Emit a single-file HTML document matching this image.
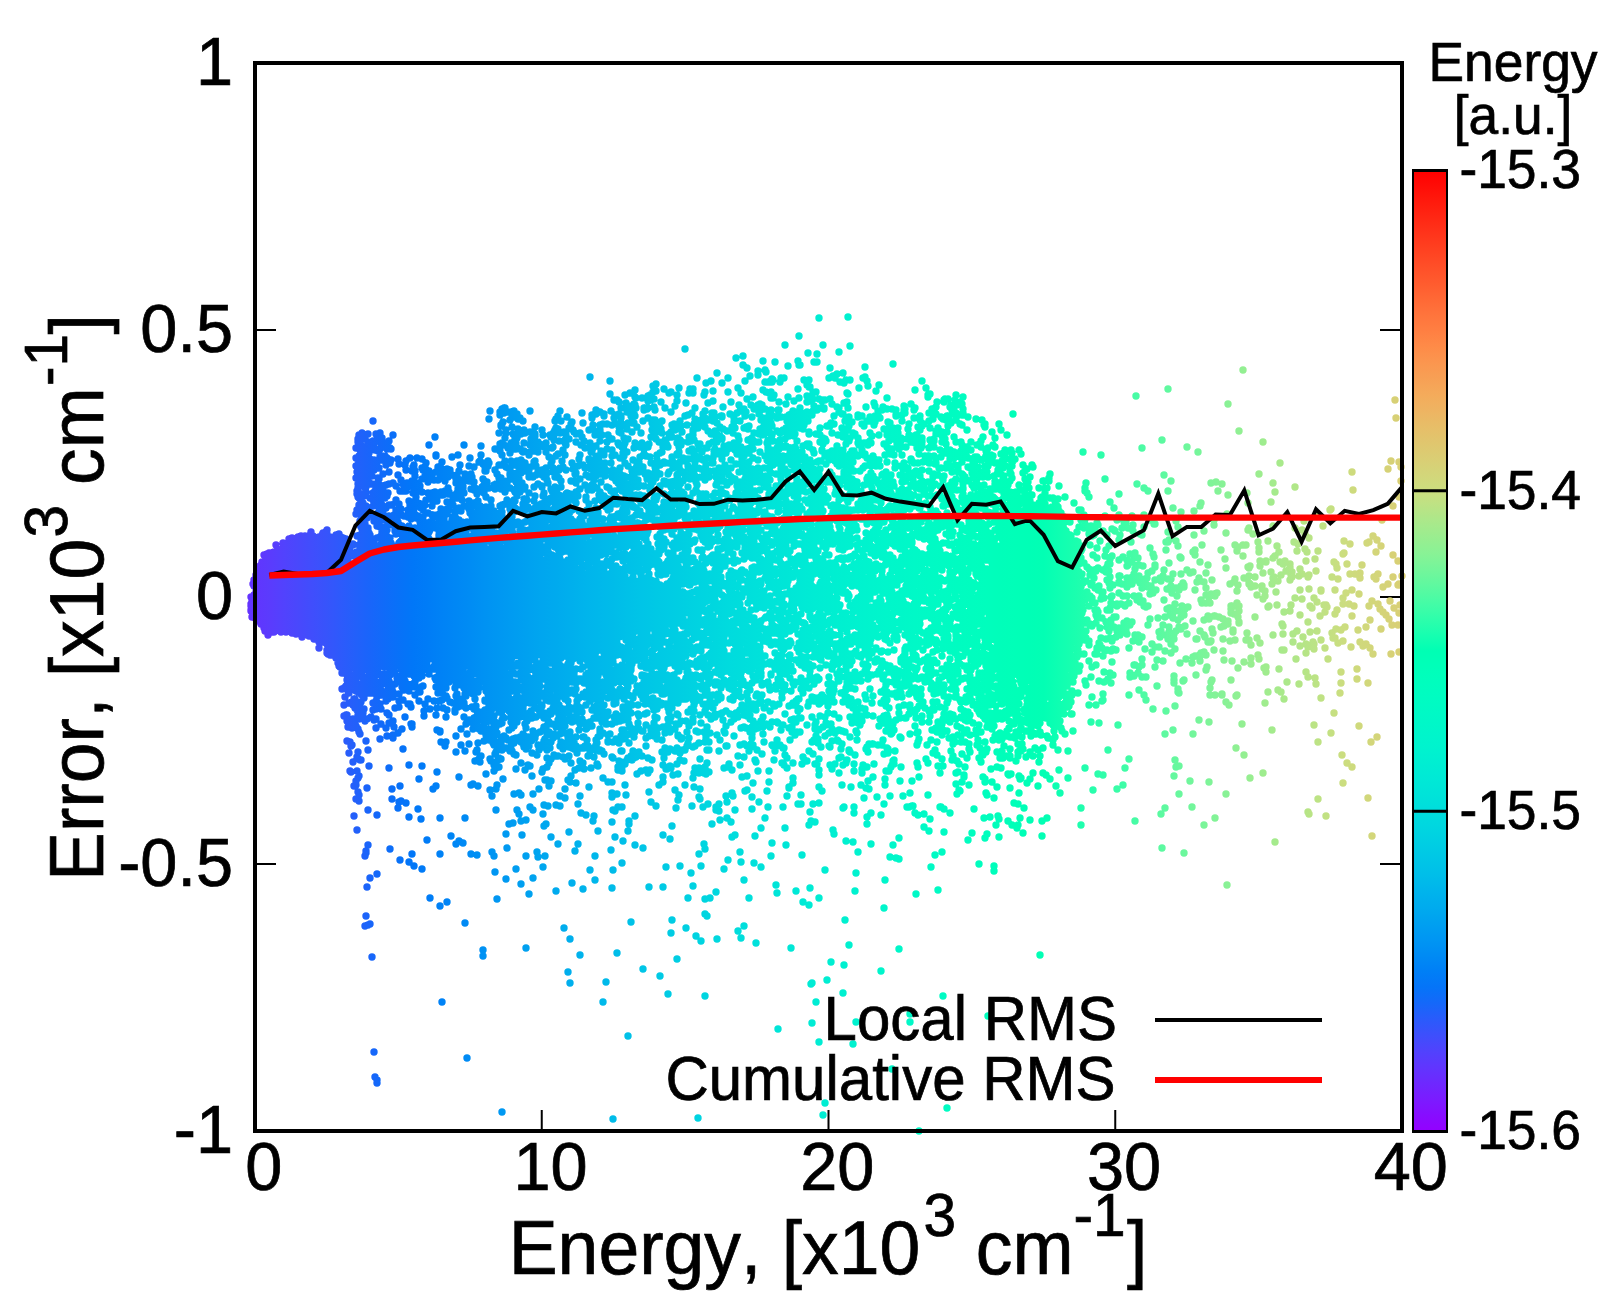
<!DOCTYPE html>
<html><head><meta charset="utf-8"><title>Error vs Energy</title>
<style>html,body{margin:0;padding:0;background:#fff}svg{display:block}text{font-family:"Liberation Sans",sans-serif;fill:#000;stroke:#000;stroke-width:0.7px;font-kerning:none;font-variant-ligatures:none}</style></head>
<body>
<svg width="1623" height="1311" viewBox="0 0 1623 1311">
<defs>
<linearGradient id="cb" gradientUnits="userSpaceOnUse" x1="0" y1="170.5" x2="0" y2="1131.5">
<stop offset="0.0000" stop-color="#ff0000"/><stop offset="0.0167" stop-color="#ff0d07"/><stop offset="0.0333" stop-color="#ff1b0d"/><stop offset="0.0500" stop-color="#ff2814"/><stop offset="0.0667" stop-color="#ff351b"/><stop offset="0.0833" stop-color="#ff4221"/><stop offset="0.1000" stop-color="#ff4f28"/><stop offset="0.1167" stop-color="#ff5b2e"/><stop offset="0.1333" stop-color="#ff6835"/><stop offset="0.1500" stop-color="#ff743c"/><stop offset="0.1667" stop-color="#ff7f42"/><stop offset="0.1833" stop-color="#fe8b48"/><stop offset="0.2000" stop-color="#fb964f"/><stop offset="0.2167" stop-color="#f7a055"/><stop offset="0.2333" stop-color="#f4ab5b"/><stop offset="0.2500" stop-color="#eeb462"/><stop offset="0.2667" stop-color="#e7be68"/><stop offset="0.2833" stop-color="#e0c66e"/><stop offset="0.3000" stop-color="#dace74"/><stop offset="0.3167" stop-color="#d3d67a"/><stop offset="0.3333" stop-color="#ccdd7f"/><stop offset="0.3500" stop-color="#bbe385"/><stop offset="0.3667" stop-color="#a9e98b"/><stop offset="0.3833" stop-color="#98ee90"/><stop offset="0.4000" stop-color="#87f396"/><stop offset="0.4167" stop-color="#72f69b"/><stop offset="0.4333" stop-color="#5cf9a0"/><stop offset="0.4500" stop-color="#45fca6"/><stop offset="0.4667" stop-color="#2efeab"/><stop offset="0.4833" stop-color="#17ffb0"/><stop offset="0.5000" stop-color="#00ffb4"/><stop offset="0.5167" stop-color="#00ffb9"/><stop offset="0.5333" stop-color="#00febe"/><stop offset="0.5500" stop-color="#00fcc2"/><stop offset="0.5667" stop-color="#00f9c6"/><stop offset="0.5833" stop-color="#00f6ca"/><stop offset="0.6000" stop-color="#00f3ce"/><stop offset="0.6167" stop-color="#00eed2"/><stop offset="0.6333" stop-color="#00e9d6"/><stop offset="0.6500" stop-color="#00e3d9"/><stop offset="0.6667" stop-color="#00dddd"/><stop offset="0.6833" stop-color="#00d6e0"/><stop offset="0.7000" stop-color="#00cee3"/><stop offset="0.7167" stop-color="#00c6e6"/><stop offset="0.7333" stop-color="#00bee9"/><stop offset="0.7500" stop-color="#00b4ec"/><stop offset="0.7667" stop-color="#00abee"/><stop offset="0.7833" stop-color="#00a0f0"/><stop offset="0.8000" stop-color="#0096f3"/><stop offset="0.8167" stop-color="#008bf4"/><stop offset="0.8333" stop-color="#007ff6"/><stop offset="0.8500" stop-color="#0574f8"/><stop offset="0.8667" stop-color="#1568f9"/><stop offset="0.8833" stop-color="#2a5bfb"/><stop offset="0.9000" stop-color="#3e4ffc"/><stop offset="0.9167" stop-color="#5142fd"/><stop offset="0.9333" stop-color="#6135fe"/><stop offset="0.9500" stop-color="#6e28fe"/><stop offset="0.9667" stop-color="#7b1bff"/><stop offset="0.9833" stop-color="#870dff"/><stop offset="1.0000" stop-color="#9400ff"/>
</linearGradient>
<linearGradient id="pg" gradientUnits="userSpaceOnUse" x1="226.325" y1="0" x2="1430.67" y2="0">
<stop offset="0.0000" stop-color="#6d29fe"/><stop offset="0.0119" stop-color="#672ffe"/><stop offset="0.0238" stop-color="#6135fe"/><stop offset="0.0357" stop-color="#5b3bfd"/><stop offset="0.0476" stop-color="#5242fd"/><stop offset="0.0595" stop-color="#4948fc"/><stop offset="0.0714" stop-color="#404efc"/><stop offset="0.0833" stop-color="#3754fb"/><stop offset="0.0952" stop-color="#2d5afb"/><stop offset="0.1071" stop-color="#2360fa"/><stop offset="0.1190" stop-color="#1965fa"/><stop offset="0.1310" stop-color="#106bf9"/><stop offset="0.1429" stop-color="#0871f8"/><stop offset="0.1548" stop-color="#0177f8"/><stop offset="0.1667" stop-color="#007cf7"/><stop offset="0.1786" stop-color="#0082f6"/><stop offset="0.1905" stop-color="#0087f5"/><stop offset="0.2024" stop-color="#008cf4"/><stop offset="0.2143" stop-color="#0092f3"/><stop offset="0.2262" stop-color="#0097f2"/><stop offset="0.2381" stop-color="#009cf1"/><stop offset="0.2500" stop-color="#00a1f0"/><stop offset="0.2619" stop-color="#00a6ef"/><stop offset="0.2738" stop-color="#00aaee"/><stop offset="0.2857" stop-color="#00afed"/><stop offset="0.2976" stop-color="#00b4ec"/><stop offset="0.3095" stop-color="#00b8eb"/><stop offset="0.3214" stop-color="#00bce9"/><stop offset="0.3333" stop-color="#00c1e8"/><stop offset="0.3452" stop-color="#00c5e7"/><stop offset="0.3571" stop-color="#00c9e5"/><stop offset="0.3690" stop-color="#00cce4"/><stop offset="0.3810" stop-color="#00d0e2"/><stop offset="0.3929" stop-color="#00d4e1"/><stop offset="0.4048" stop-color="#00d7df"/><stop offset="0.4167" stop-color="#00dbde"/><stop offset="0.4286" stop-color="#00dedc"/><stop offset="0.4405" stop-color="#00e1db"/><stop offset="0.4524" stop-color="#00e4d9"/><stop offset="0.4643" stop-color="#00e6d7"/><stop offset="0.4762" stop-color="#00e9d6"/><stop offset="0.4881" stop-color="#00ecd4"/><stop offset="0.5000" stop-color="#00eed2"/><stop offset="0.5119" stop-color="#00f0d0"/><stop offset="0.5238" stop-color="#00f2cf"/><stop offset="0.5357" stop-color="#00f4cd"/><stop offset="0.5476" stop-color="#00f6cb"/><stop offset="0.5595" stop-color="#00f7c9"/><stop offset="0.5714" stop-color="#00f9c7"/><stop offset="0.5833" stop-color="#00fac5"/><stop offset="0.5952" stop-color="#00fbc3"/><stop offset="0.6071" stop-color="#00fcc1"/><stop offset="0.6190" stop-color="#00fdbf"/><stop offset="0.6310" stop-color="#00febd"/><stop offset="0.6429" stop-color="#00feba"/><stop offset="0.6548" stop-color="#00ffb8"/><stop offset="0.6667" stop-color="#00ffb6"/><stop offset="0.6786" stop-color="#02ffb4"/><stop offset="0.6905" stop-color="#0dffb2"/><stop offset="0.7024" stop-color="#18ffaf"/><stop offset="0.7143" stop-color="#23fead"/><stop offset="0.7262" stop-color="#2efeab"/><stop offset="0.7381" stop-color="#38fda8"/><stop offset="0.7500" stop-color="#43fca6"/><stop offset="0.7619" stop-color="#4efba4"/><stop offset="0.7738" stop-color="#59faa1"/><stop offset="0.7857" stop-color="#64f89f"/><stop offset="0.7976" stop-color="#6ef79c"/><stop offset="0.8095" stop-color="#79f59a"/><stop offset="0.8214" stop-color="#83f397"/><stop offset="0.8333" stop-color="#8bf195"/><stop offset="0.8452" stop-color="#94ef92"/><stop offset="0.8571" stop-color="#9ced8f"/><stop offset="0.8690" stop-color="#a4eb8d"/><stop offset="0.8810" stop-color="#ace88a"/><stop offset="0.8929" stop-color="#b4e587"/><stop offset="0.9048" stop-color="#bce385"/><stop offset="0.9167" stop-color="#c4e082"/><stop offset="0.9286" stop-color="#ccdd7f"/><stop offset="0.9405" stop-color="#cfd97c"/><stop offset="0.9524" stop-color="#d3d67a"/><stop offset="0.9643" stop-color="#d6d277"/><stop offset="0.9762" stop-color="#d9cf74"/><stop offset="0.9881" stop-color="#dccb71"/><stop offset="1.0000" stop-color="#e0c76e"/>
</linearGradient>
</defs>
<rect width="1623" height="1311" fill="#fff"/>
<g stroke="#000" stroke-width="2"><line x1="255" y1="330" x2="276" y2="330"/><line x1="1380" y1="330" x2="1402" y2="330"/><line x1="255" y1="597" x2="276" y2="597"/><line x1="1380" y1="597" x2="1402" y2="597"/><line x1="255" y1="864" x2="276" y2="864"/><line x1="1380" y1="864" x2="1402" y2="864"/><line x1="541.75" y1="1131" x2="541.75" y2="1110"/><line x1="828.5" y1="1131" x2="828.5" y2="1110"/><line x1="1115.25" y1="1131" x2="1115.25" y2="1110"/></g>
<path d="M253 581L256 574L259 567L262 562L265 559L268 555L271 553L274 550L277 548L280 546L283 544L286 543L289 542L292 540L295 539L298 538L301 538L304 538L307 537L310 537L313 537L316 537L319 537L322 537L325 537L328 537L331 537L334 537L337 537L340 537L343 537L346 539L349 566L352 562L355 558L358 554L361 551L364 551L367 550L370 550L373 549L376 549L379 548L382 548L385 548L388 547L391 547L394 546L397 546L400 545L403 545L406 545L409 544L412 544L415 544L418 544L421 543L424 543L427 543L430 543L433 542L436 542L439 542L442 541L445 541L448 541L451 541L454 541L457 542L460 542L463 543L466 543L469 543L472 544L475 544L478 545L481 545L484 546L487 546L490 547L493 547L496 548L499 548L502 549L505 550L508 550L511 551L514 551L517 552L520 553L523 553L526 554L529 555L532 555L535 556L538 557L541 557L544 558L547 559L550 560L553 560L556 561L559 562L562 563L565 564L568 565L571 566L574 567L577 568L580 569L583 570L586 571L589 572L592 573L595 574L598 575L601 576L604 576L607 577L610 578L613 578L616 579L619 580L622 581L625 581L628 582L631 583L634 583L637 584L640 585L643 585L646 586L649 587L652 587L655 588L658 589L661 589L664 590L667 591L670 591L673 592L676 592L679 593L682 594L685 594L688 595L691 595L694 596L697 596L700 597L703 597L706 598L709 598L712 599L714 599L714 602L712 603L709 604L706 606L703 607L700 608L697 609L694 610L691 612L688 613L685 614L682 615L679 616L676 617L673 619L670 620L667 621L664 622L661 624L658 625L655 626L652 627L649 629L646 630L643 631L640 632L637 634L634 635L631 636L628 637L625 639L622 640L619 641L616 643L613 644L610 645L607 647L604 648L601 649L598 650L595 651L592 651L589 652L586 652L583 653L580 653L577 653L574 654L571 654L568 655L565 655L562 656L559 656L556 657L553 657L550 657L547 658L544 658L541 658L538 658L535 658L532 658L529 659L526 659L523 659L520 659L517 659L514 659L511 659L508 659L505 659L502 659L499 660L496 660L493 660L490 660L487 660L484 660L481 660L478 661L475 661L472 661L469 661L466 661L463 661L460 661L457 661L454 661L451 661L448 661L445 661L442 662L439 662L436 662L433 662L430 662L427 662L424 662L421 662L418 662L415 662L412 662L409 662L406 663L403 663L400 663L397 663L394 664L391 664L388 665L385 665L382 666L379 667L376 667L373 668L370 668L367 669L364 669L361 670L358 668L355 665L352 662L349 655L346 679L343 672L340 666L337 660L334 657L331 654L328 650L325 647L322 644L319 641L316 639L313 636L310 634L307 633L304 632L301 630L298 629L295 629L292 629L289 629L286 629L283 629L280 629L277 629L274 629L271 629L268 628L265 627L262 625L259 622L256 618L253 613ZM977 588L980 583L983 577L986 571L989 566L992 559L995 553L998 546L1001 541L1004 537L1007 534L1010 530L1013 527L1016 523L1019 520L1022 519L1025 520L1028 521L1031 522L1034 522L1037 523L1040 524L1043 524L1046 525L1049 526L1052 527L1055 527L1058 528L1061 530L1064 535L1067 540L1070 545L1073 550L1076 570L1079 590L1079 602L1076 633L1073 658L1070 663L1067 669L1064 674L1061 680L1058 681L1055 681L1052 681L1049 681L1046 681L1043 681L1040 681L1037 681L1034 681L1031 681L1028 681L1025 681L1022 681L1019 680L1016 676L1013 671L1010 667L1007 663L1004 659L1001 654L998 648L995 639L992 632L989 624L986 617L983 609L980 602L977 596Z" fill="url(#pg)"/>
<path d="M251 597h0m0 7h0m0 2h0m0 4h0m0 1h0m5-36h0m0 0h0m-2 5h0m1 1h0m2 2h0m-4 1h0m1 2h0m2 6h0m-2 3h0m2 0h0m-4 4h0m1 0h0m4 1h0m-5 1h0m1 0h0m2 0h0m-2 3h0m2 1h0m-1 4h0m-2 1h0m0 1h0m4 2h0m-2 2h0m-2 2h0m3 0h0m0 1h0m2 1h0m5-57h0m-1 3h0m-1 1h0m-2 1h0m2 4h0m1 0h0m-3 2h0m1 0h0m0 1h0m3 0h0m0 1h0m-4 1h0m2 0h0m1 7h0m-3 1h0m4 0h0m-2 1h0m0 0h0m3 0h0m-1 1h0m-4 2h0m0 3h0m3 0h0m-2 1h0m-1 3h0m1 0h0m1 0h0m1 0h0m-3 1h0m2 0h0m2 3h0m-2 1h0m-2 1h0m0 1h0m0 4h0m5 0h0m-5 1h0m5 0h0m-2 3h0m2 3h0m-1 6h0m-4 2h0m3 1h0m0 2h0m8-71h0m-2 1h0m1 0h0m-4 1h0m4 2h0m0 0h0m-1 1h0m2 2h0m-1 1h0m-4 1h0m1 1h0m4 0h0m-1 2h0m-2 1h0m0 1h0m-2 2h0m2 1h0m2 2h0m-2 1h0m-2 1h0m2 1h0m1 0h0m-2 1h0m0 7h0m1 1h0m1 2h0m-2 1h0m1 2h0m-2 4h0m1 0h0m2 0h0m-1 1h0m1 3h0m2 1h0m0 1h0m-5 1h0m3 1h0m-3 3h0m1 0h0m2 0h0m-1 1h0m2 0h0m-3 2h0m4 1h0m-2 1h0m-1 1h0m2 0h0m0 1h0m1 0h0m-1 1h0m-4 3h0m0 3h0m5 0h0m-2 3h0m-3 2h0m5 1h0m-2 1h0m-3 3h0m1 1h0m0 2h0m2 0h0m1 4h0m6-83h0m-3 1h0m-1 2h0m1 2h0m3 0h0m1 1h0m-4 1h0m1 1h0m2 1h0m-2 1h0m3 0h0m-5 2h0m5 1h0m-4 4h0m-1 1h0m5 0h0m-2 1h0m-1 2h0m3 2h0m-3 4h0m2 1h0m-2 3h0m0 8h0m-2 1h0m3 0h0m-3 1h0m5 4h0m-4 2h0m0 1h0m1 0h0m0 0h0m0 2h0m1 0h0m-3 3h0m0 0h0m4 0h0m-4 4h0m3 0h0m1 0h0m-3 3h0m-1 2h0m2 6h0m2 0h0m0 3h0m1 1h0m0 0h0m-5 2h0m2 2h0m3 0h0m-4 4h0m3 0h0m2-87h0m1 6h0m0 2h0m1 0h0m1 2h0m1 0h0m-2 8h0m0 1h0m-2 1h0m0 0h0m3 0h0m-1 3h0m0 3h0m1 0h0m-3 2h0m1 1h0m0 1h0m4 1h0m-5 2h0m4 0h0m-2 2h0m-2 2h0m0 0h0m1 0h0m4 1h0m-1 1h0m-4 1h0m1 2h0m1 1h0m-1 5h0m1 2h0m1 1h0m0 0h0m-2 1h0m-1 2h0m0 2h0m0 3h0m1 0h0m1 0h0m3 0h0m-4 2h0m4 4h0m-4 1h0m-1 3h0m1 0h0m1 2h0m1 2h0m-1 3h0m0 1h0m-1 1h0m1 3h0m3 0h0m-3 3h0m1 0h0m2 0h0m-1 2h0m1 1h0m2-89h0m4 3h0m-2 1h0m-2 1h0m3 1h0m0 2h0m-1 3h0m1 0h0m-3 2h0m1 0h0m2 2h0m-3 2h0m3 0h0m-4 3h0m4 0h0m-4 1h0m5 0h0m-2 1h0m2 0h0m-4 1h0m3 0h0m-2 1h0m3 3h0m-4 2h0m1 0h0m0 1h0m-2 6h0m4 0h0m1 2h0m-5 3h0m0 1h0m4 0h0m-4 2h0m1 3h0m1 1h0m3 1h0m-3 1h0m-2 1h0m3 1h0m2 0h0m-3 3h0m3 2h0m0 0h0m-5 1h0m0 1h0m1 0h0m2 2h0m1 1h0m-4 2h0m5 2h0m-2 2h0m2 1h0m-3 6h0m-2 3h0m0 2h0m3 1h0m-1 6h0m2 2h0m6-94h0m-3 1h0m0 2h0m0 2h0m-1 1h0m4 6h0m-2 1h0m2 0h0m0 1h0m-3 1h0m1 2h0m0 1h0m-2 4h0m3 2h0m2 0h0m-5 2h0m2 0h0m-2 1h0m2 0h0m2 0h0m0 0h0m-4 2h0m4 0h0m-1 2h0m2 0h0m-4 1h0m3 0h0m-4 1h0m1 2h0m3 3h0m1 0h0m-3 2h0m2 2h0m0 1h0m0 2h0m-4 1h0m2 0h0m-1 2h0m3 1h0m0 1h0m-4 6h0m2 0h0m1 1h0m0 0h0m-3 1h0m3 1h0m-2 1h0m0 1h0m3 6h0m1 0h0m-1 2h0m-4 1h0m1 0h0m4 0h0m-2 1h0m-1 1h0m2 2h0m-1 1h0m-1 4h0m1 3h0m-1 1h0m-2 1h0m3 1h0m-2 1h0m4 3h0m-5 2h0m4 0h0m-2 2h0m2 0h0m0 2h0m6-96h0m1 0h0m-1 3h0m-4 3h0m3 2h0m-2 3h0m0 0h0m2 0h0m-3 1h0m4 2h0m-4 1h0m0 6h0m4 0h0m1 3h0m-3 3h0m2 1h0m-2 2h0m2 1h0m-4 1h0m4 2h0m-3 1h0m0 1h0m2 0h0m0 2h0m-1 2h0m3 0h0m-1 1h0m0 0h0m-1 2h0m1 4h0m-4 3h0m5 0h0m0 0h0m-5 2h0m3 1h0m-3 5h0m0 0h0m4 1h0m-2 2h0m1 0h0m1 1h0m-1 3h0m0 0h0m2 9h0m-4 2h0m0 3h0m2 0h0m-2 1h0m0 1h0m0 1h0m1 1h0m1 0h0m0 0h0m-3 1h0m2 0h0m2 4h0m-4 1h0m5 0h0m-5 1h0m2 0h0m0 7h0m5-98h0m4 0h0m-1 1h0m-3 1h0m2 1h0m-2 1h0m-1 1h0m0 3h0m2 1h0m3 7h0m-4 6h0m2 0h0m-1 1h0m-1 6h0m1 0h0m2 0h0m-3 1h0m3 1h0m0 1h0m-3 1h0m1 6h0m3 0h0m0 0h0m-5 3h0m2 0h0m3 0h0m-1 1h0m-3 2h0m-1 2h0m1 2h0m0 1h0m2 0h0m2 1h0m-2 3h0m0 0h0m-1 2h0m-2 2h0m2 0h0m2 4h0m1 0h0m-1 3h0m-1 1h0m1 1h0m-4 1h0m2 1h0m-2 1h0m5 1h0m0 1h0m-2 1h0m-3 4h0m0 0h0m4 1h0m-2 1h0m-1 1h0m0 2h0m1 1h0m-2 6h0m1 0h0m-1 1h0m4 0h0m-4 1h0m0 3h0m5 1h0m-4 3h0m3 1h0m-2 2h0m9-105h0m-1 3h0m-4 3h0m2 1h0m0 0h0m-2 2h0m2 0h0m-1 1h0m4 2h0m-1 1h0m0 3h0m-4 4h0m0 3h0m1 0h0m3 0h0m-1 2h0m-1 3h0m2 2h0m-2 1h0m-2 2h0m5 1h0m-5 2h0m1 2h0m0 6h0m0 0h0m3 3h0m-1 1h0m-3 1h0m1 0h0m1 2h0m-2 2h0m1 1h0m1 2h0m-1 1h0m1 3h0m-2 7h0m2 0h0m-1 1h0m1 1h0m2 4h0m1 0h0m-5 2h0m2 1h0m1 3h0m-2 1h0m1 1h0m0 4h0m-2 1h0m3 0h0m2 1h0m-5 2h0m2 0h0m3 0h0m-3 2h0m1 0h0m-3 5h0m1 4h0m0 2h0m2 0h0m1 0h0m1 0h0m-1 1h0m1 0h0m-2 1h0m4-100h0m2 3h0m1 0h0m-4 1h0m1 2h0m2 0h0m-1 1h0m0 2h0m1 0h0m-3 1h0m0 1h0m3 1h0m2 4h0m-1 1h0m1 1h0m-5 3h0m5 1h0m-2 4h0m-1 2h0m0 0h0m3 0h0m-4 2h0m4 0h0m-4 3h0m1 1h0m-1 1h0m2 3h0m-2 3h0m3 1h0m-4 1h0m1 0h0m0 1h0m1 2h0m1 4h0m-2 2h0m-1 3h0m0 2h0m1 0h0m4 0h0m-4 1h0m-1 6h0m5 4h0m-1 1h0m-3 4h0m1 3h0m2 1h0m-3 1h0m-1 3h0m1 0h0m3 0h0m0 1h0m0 3h0m-4 1h0m1 2h0m2 3h0m1 2h0m-1 2h0m-3 1h0m1 0h0m3 1h0m0 1h0m-2 1h0m-1 1h0m4 2h0m-3 1h0m9-106h0m-1 2h0m-3 2h0m4 0h0m-5 1h0m4 7h0m-1 1h0m1 1h0m-3 4h0m0 3h0m4 3h0m-5 6h0m3 2h0m-1 1h0m-2 2h0m2 1h0m0 4h0m-2 1h0m1 0h0m3 1h0m-4 1h0m4 3h0m1 0h0m-1 2h0m0 4h0m0 0h0m0 3h0m-3 2h0m2 1h0m-3 2h0m1 2h0m0 0h0m4 0h0m-1 3h0m-1 1h0m2 1h0m-5 2h0m2 7h0m1 2h0m1 2h0m-3 1h0m1 1h0m3 0h0m-5 1h0m5 2h0m-4 1h0m-1 1h0m2 0h0m0 0h0m3 1h0m-4 2h0m1 3h0m1 3h0m1 1h0m-3 2h0m4 2h0m-2 1h0m0 1h0m1 2h0m-3 4h0m2 0h0m-2 6h0m8-118h0m-3 3h0m3 1h0m2 5h0m-5 1h0m1 0h0m1 1h0m-1 1h0m1 1h0m1 1h0m1 1h0m-1 2h0m0 1h0m-3 3h0m4 2h0m-3 1h0m0 0h0m-1 1h0m0 0h0m3 2h0m1 1h0m1 3h0m-5 5h0m5 3h0m-4 2h0m3 5h0m1 0h0m-3 3h0m1 1h0m0 0h0m2 0h0m-5 1h0m5 0h0m-5 2h0m2 0h0m2 0h0m-3 3h0m-1 1h0m2 1h0m1 1h0m-1 2h0m0 0h0m1 0h0m1 0h0m-1 1h0m1 0h0m0 0h0m0 1h0m-2 2h0m2 0h0m1 1h0m-5 1h0m4 1h0m-3 3h0m0 0h0m2 0h0m1 4h0m-1 1h0m-1 3h0m0 3h0m0 1h0m3 0h0m-5 4h0m3 1h0m-2 2h0m-1 1h0m2 0h0m-2 3h0m2 0h0m3 0h0m-2 1h0m-2 3h0m-1 2h0m1 5h0m-1 1h0m2 0h0m-2 3h0m3 0h0m-3 3h0m5 0h0m-2 2h0m2 4h0m-2 2h0m0 3h0m2 0h0m-1 1h0m2-117h0m0 2h0m3 2h0m-1 1h0m0 1h0m2 0h0m-2 1h0m2 1h0m-4 1h0m5 0h0m0 1h0m-2 2h0m1 10h0m-4 1h0m1 0h0m4 0h0m0 3h0m-1 2h0m1 0h0m-3 5h0m2 2h0m-3 1h0m3 0h0m-2 4h0m-1 2h0m3 2h0m1 1h0m-3 8h0m0 1h0m2 1h0m-3 1h0m0 1h0m3 2h0m-3 4h0m3 6h0m0 0h0m-4 5h0m5 1h0m-5 1h0m4 2h0m-4 1h0m4 0h0m0 0h0m1 0h0m0 1h0m-3 5h0m2 0h0m-2 2h0m-2 3h0m3 1h0m2 0h0m-5 4h0m4 0h0m1 0h0m0 0h0m-4 2h0m2 1h0m-3 2h0m2 1h0m0 2h0m3 0h0m0 1h0m-1 8h0m-2 1h0m-2 3h0m4 1h0m-4 1h0m2 0h0m1 0h0m6-121h0m-3 1h0m5 2h0m0 2h0m-1 1h0m-2 1h0m0 1h0m0 2h0m-2 1h0m2 1h0m3 0h0m-2 1h0m0 3h0m1 0h0m-2 1h0m2 4h0m-4 4h0m5 5h0m-2 3h0m-1 1h0m-1 1h0m2 1h0m-2 1h0m4 0h0m-2 2h0m0 2h0m2 0h0m-3 3h0m0 2h0m2 1h0m1 0h0m-3 2h0m3 2h0m-3 1h0m0 1h0m-2 2h0m2 3h0m2 3h0m0 1h0m-4 6h0m1 2h0m1 3h0m1 1h0m-3 2h0m5 1h0m-5 1h0m1 0h0m4 3h0m-5 3h0m3 1h0m-3 1h0m2 0h0m3 1h0m-3 3h0m0 2h0m-2 2h0m2 0h0m-1 1h0m2 2h0m0 4h0m1 6h0m1 0h0m-4 1h0m4 0h0m-1 1h0m-4 3h0m4 2h0m-3 1h0m2 3h0m0 1h0m-3 2h0m2 0h0m1 1h0m-3 1h0m1 0h0m-1 1h0m2 2h0m0 3h0m1 3h0m1 0h0m0 1h0m3-129h0m3 1h0m-1 2h0m2 0h0m-3 1h0m1 0h0m0 0h0m-3 2h0m4 2h0m0 0h0m1 0h0m-4 2h0m4 0h0m-4 1h0m-1 1h0m4 0h0m0 0h0m-4 1h0m2 1h0m-2 2h0m5 0h0m0 1h0m-1 2h0m-2 1h0m3 0h0m-4 5h0m2 2h0m2 1h0m-5 3h0m0 6h0m2 3h0m0 1h0m0 1h0m3 2h0m-5 3h0m4 0h0m-2 1h0m2 2h0m-2 5h0m3 2h0m-2 1h0m1 1h0m-3 1h0m1 0h0m3 1h0m-3 3h0m0 2h0m2 0h0m-4 3h0m0 4h0m5 0h0m-1 3h0m1 1h0m-1 1h0m-1 2h0m-1 4h0m-1 1h0m4 1h0m-4 1h0m2 2h0m-1 3h0m2 0h0m1 1h0m0 2h0m-5 1h0m1 0h0m4 1h0m0 6h0m-5 1h0m0 1h0m5 3h0m-1 2h0m-3 2h0m2 1h0m2 0h0m0 3h0m0 6h0m-4 4h0m4 3h0m-1 1h0m-4 5h0m5 0h0m0 2h0m0 5h0m0 0h0m0 5h0m-1 1h0m-2 2h0m-2 1h0m3 8h0m-1 8h0m2 10h0m1 0h0m-3 1h0m3 5h0m0 20h0m6-197h0m0 1h0m-5 2h0m2 0h0m-2 3h0m0 1h0m0 0h0m3 2h0m-3 1h0m4 0h0m0 0h0m-1 1h0m-3 3h0m0 2h0m2 5h0m0 1h0m0 2h0m1 2h0m2 2h0m-5 3h0m1 1h0m2 0h0m-2 4h0m2 0h0m0 1h0m-1 3h0m0 0h0m2 1h0m-4 3h0m5 0h0m0 0h0m-2 1h0m1 0h0m1 0h0m-4 2h0m2 0h0m-2 2h0m2 0h0m1 0h0m1 1h0m-1 3h0m1 0h0m-5 1h0m1 2h0m2 0h0m1 4h0m-4 2h0m4 2h0m-1 1h0m-3 1h0m2 0h0m1 2h0m1 0h0m-2 6h0m-2 2h0m2 0h0m1 1h0m0 0h0m2 0h0m-1 2h0m-3 1h0m2 1h0m-1 4h0m1 1h0m-3 1h0m5 1h0m-3 2h0m-2 2h0m1 0h0m3 1h0m1 6h0m-3 1h0m3 0h0m-5 8h0m1 1h0m-1 1h0m2 0h0m-1 2h0m1 1h0m2 0h0m1 0h0m-4 1h0m2 0h0m-1 6h0m2 0h0m-4 1h0m1 1h0m0 0h0m2 1h0m0 0h0m0 1h0m-2 5h0m2 6h0m2 1h0m-5 5h0m1 1h0m4 0h0m-1 3h0m1 0h0m-5 1h0m0 1h0m1 2h0m3 9h0m1 0h0m-4 1h0m3 0h0m1 2h0m0 14h0m-3 3h0m1 2h0m-3 3h0m4 1h0m-2 14h0m2 3h0m-1 1h0m-2 7h0m4 9h0m-3 9h0m1 1h0m8-337h0m0 1h0m0 2h0m-1 1h0m0 1h0m0 2h0m1 5h0m-3 1h0m3 8h0m-3 2h0m3 0h0m-1 1h0m0 1h0m-2 6h0m2 5h0m-1 1h0m1 3h0m1 2h0m-3 1h0m2 1h0m0 5h0m1 2h0m-1 2h0m-1 3h0m2 2h0m-2 1h0m2 0h0m-1 3h0m1 1h0m0 7h0m0 1h0m-2 4h0m-1 4h0m1 22h0m2 0h0m0 9h0m-2 7h0m0 0h0m2 0h0m-5 1h0m3 0h0m-2 1h0m-1 1h0m3 0h0m-3 1h0m4 0h0m0 0h0m1 1h0m0 0h0m-1 2h0m-4 7h0m3 0h0m2 3h0m-3 8h0m2 0h0m0 1h0m1 2h0m0 0h0m-4 4h0m0 1h0m3 1h0m-4 3h0m1 0h0m-1 4h0m4 1h0m1 0h0m-1 4h0m-3 1h0m0 3h0m1 1h0m2 0h0m1 0h0m0 0h0m-4 1h0m4 0h0m-5 7h0m5 2h0m-5 1h0m2 0h0m2 1h0m-4 1h0m2 1h0m-2 2h0m0 1h0m5 1h0m-2 8h0m-1 11h0m0 0h0m1 4h0m-3 2h0m0 2h0m1 0h0m4 2h0m-4 2h0m3 0h0m1 1h0m-4 2h0m1 2h0m-2 3h0m2 1h0m-1 1h0m1 0h0m-1 1h0m0 2h0m-1 1h0m1 0h0m3 0h0m-4 2h0m0 0h0m3 3h0m0 3h0m-2 1h0m1 2h0m0 5h0m0 1h0m0 1h0m3 1h0m-5 4h0m1 0h0m1 2h0m2 1h0m-4 7h0m1 0h0m0 0h0m3 4h0m0 0h0m-3 5h0m2 0h0m0 2h0m1 5h0m1 1h0m-2 3h0m2 0h0m-3 7h0m1 2h0m1 1h0m1 3h0m-1 20h0m-1 5h0m0 14h0m2 5h0m-1 2h0m0 0h0m-2 3h0m0 4h0m-2 1h0m4 6h0m1 3h0m-3 4h0m3 2h0m-5 15h0m3 14h0m5-397h0m3 3h0m-5 1h0m0 1h0m3 0h0m2 0h0m-1 1h0m-4 4h0m1 3h0m3 1h0m-4 2h0m4 0h0m-4 1h0m1 1h0m0 2h0m0 0h0m0 1h0m3 2h0m-1 7h0m1 0h0m1 0h0m-2 1h0m-3 1h0m4 1h0m-3 1h0m3 1h0m-3 1h0m2 0h0m0 0h0m1 0h0m-2 2h0m-1 5h0m4 0h0m-5 1h0m2 0h0m-2 2h0m1 0h0m2 0h0m0 3h0m0 3h0m2 3h0m-1 8h0m-4 1h0m0 0h0m1 5h0m2 1h0m1 4h0m-3 3h0m3 1h0m-3 2h0m1 1h0m-1 1h0m2 0h0m-3 6h0m3 1h0m-2 1h0m4 1h0m-5 1h0m2 1h0m-1 1h0m1 2h0m3 0h0m-2 1h0m2 0h0m-1 1h0m1 0h0m-1 2h0m1 0h0m-5 2h0m2 0h0m2 2h0m-3 1h0m0 3h0m-1 6h0m1 0h0m1 0h0m-2 1h0m5 0h0m-1 3h0m-1 1h0m-2 2h0m1 0h0m0 2h0m-1 2h0m4 0h0m-1 3h0m1 0h0m-4 3h0m-1 2h0m4 6h0m-2 2h0m1 2h0m2 0h0m-2 1h0m1 0h0m-3 2h0m-1 2h0m1 0h0m1 0h0m-1 2h0m3 0h0m-4 5h0m4 1h0m0 0h0m1 2h0m-1 2h0m-4 2h0m5 0h0m-4 1h0m-1 2h0m5 1h0m-4 1h0m-1 2h0m4 0h0m-4 6h0m2 0h0m-2 1h0m3 2h0m0 0h0m-3 1h0m1 0h0m2 5h0m1 7h0m0 1h0m1 0h0m-4 2h0m0 5h0m-1 2h0m3 3h0m1 0h0m-2 6h0m1 0h0m1 0h0m-2 2h0m-2 1h0m3 0h0m-3 1h0m0 0h0m1 2h0m0 0h0m0 0h0m3 0h0m-1 5h0m-3 3h0m0 6h0m4 1h0m-1 2h0m-3 1h0m4 1h0m-2 3h0m-1 4h0m-1 1h0m2 1h0m3 0h0m-1 1h0m1 3h0m-1 1h0m0 1h0m-4 1h0m4 0h0m-2 3h0m-2 6h0m0 0h0m1 1h0m1 1h0m2 3h0m-3 4h0m1 7h0m2 0h0m-1 4h0m-1 2h0m3 6h0m-5 13h0m0 26h0m1 0h0m4 96h0m0 70h0m3-492h0m0 8h0m2 2h0m0 3h0m-1 6h0m-1 3h0m1 3h0m1 0h0m0 6h0m-4 1h0m3 6h0m-3 4h0m1 5h0m1 0h0m0 1h0m3 2h0m-5 2h0m0 1h0m0 5h0m4 6h0m-4 8h0m3 2h0m-3 3h0m0 7h0m1 0h0m1 10h0m0 1h0m-1 3h0m0 1h0m2 0h0m1 2h0m-3 3h0m-1 3h0m0 4h0m5 0h0m-5 2h0m3 0h0m2 1h0m0 1h0m-2 1h0m-1 4h0m-2 1h0m2 3h0m1 4h0m0 0h0m-3 1h0m3 1h0m1 5h0m-1 3h0m2 0h0m-2 4h0m2 1h0m0 3h0m-5 2h0m4 1h0m-3 1h0m2 0h0m1 1h0m-3 3h0m-1 2h0m1 2h0m-1 3h0m2 6h0m-1 1h0m1 0h0m-2 3h0m1 1h0m1 0h0m-1 2h0m3 1h0m-2 1h0m1 1h0m2 0h0m-1 2h0m-2 3h0m-2 2h0m2 2h0m-1 4h0m2 2h0m1 1h0m-3 6h0m3 1h0m-3 3h0m2 0h0m-3 1h0m1 0h0m1 4h0m2 0h0m1 0h0m-3 2h0m-2 1h0m0 3h0m5 0h0m-5 1h0m2 0h0m3 0h0m-2 1h0m1 0h0m1 0h0m-3 6h0m3 0h0m0 1h0m-5 4h0m2 0h0m-1 5h0m0 0h0m3 0h0m-3 2h0m2 0h0m2 0h0m-3 2h0m1 2h0m1 1h0m1 2h0m-3 4h0m-2 2h0m3 0h0m-1 1h0m1 0h0m-1 4h0m2 4h0m1 0h0m-5 1h0m4 0h0m-2 1h0m0 0h0m1 1h0m2 0h0m0 24h0m-4 2h0m-1 22h0m2 9h0m1 16h0m-2 22h0m1 22h0m0 35h0m-2 6h0m0 0h0m0 2h0m4 25h0m-3 9h0m-1 29h0m4 8h0m-2 1h0m5-504h0m3 13h0m-3 7h0m3 0h0m-2 2h0m0 0h0m0 5h0m1 2h0m-1 10h0m-1 2h0m4 0h0m-4 2h0m1 6h0m-2 6h0m0 8h0m3 1h0m1 2h0m-1 4h0m-2 2h0m2 3h0m-1 2h0m3 0h0m-4 2h0m4 3h0m-4 3h0m-1 9h0m1 0h0m4 5h0m-3 1h0m3 0h0m0 5h0m0 12h0m-4 1h0m0 0h0m-1 4h0m2 1h0m0 0h0m-2 4h0m0 1h0m2 1h0m1 1h0m-1 2h0m1 0h0m-3 2h0m4 6h0m-1 1h0m1 0h0m1 3h0m-3 1h0m-2 2h0m5 1h0m-3 4h0m-2 7h0m4 0h0m-4 1h0m5 2h0m-3 1h0m-2 5h0m4 2h0m-3 2h0m4 6h0m0 0h0m-4 3h0m-1 1h0m3 1h0m-1 7h0m3 0h0m-4 1h0m0 0h0m3 5h0m-3 2h0m1 1h0m-1 1h0m4 2h0m-1 1h0m-2 3h0m3 4h0m-2 1h0m-2 1h0m2 0h0m0 2h0m1 0h0m-1 4h0m1 1h0m-2 3h0m0 0h0m2 0h0m-1 6h0m-1 4h0m0 3h0m3 1h0m0 3h0m-4 1h0m2 2h0m1 1h0m-4 4h0m4 0h0m-2 2h0m3 0h0m-4 4h0m4 1h0m-5 1h0m1 0h0m2 0h0m-3 1h0m0 3h0m2 2h0m2 0h0m-4 5h0m5 2h0m-5 2h0m5 1h0m-4 1h0m0 0h0m4 4h0m-1 4h0m-3 2h0m1 0h0m3 1h0m-1 5h0m-3 1h0m3 9h0m-2 1h0m2 8h0m1 87h0m0 59h0m-5 83h0m2 95h0m1 25h0m2 3h0m0 3h0m3-650h0m0 5h0m2 0h0m-1 4h0m2 1h0m-2 3h0m-1 3h0m-2 2h0m4 5h0m-2 1h0m2 3h0m-3 8h0m4 6h0m-5 4h0m1 1h0m-1 3h0m4 4h0m1 0h0m0 1h0m-3 1h0m3 2h0m-4 2h0m0 0h0m0 5h0m1 4h0m1 4h0m1 0h0m0 2h0m0 0h0m-3 1h0m-1 5h0m5 0h0m-3 7h0m-2 5h0m2 1h0m0 1h0m2 5h0m-1 4h0m1 7h0m0 0h0m-4 3h0m1 1h0m0 0h0m1 2h0m2 1h0m-2 7h0m-2 1h0m5 0h0m-2 1h0m-3 1h0m0 0h0m4 0h0m1 1h0m-3 1h0m2 1h0m-1 4h0m-2 1h0m4 0h0m-3 1h0m1 3h0m1 0h0m-4 2h0m1 0h0m4 1h0m0 1h0m-3 1h0m-1 6h0m2 0h0m1 4h0m1 0h0m-2 1h0m1 0h0m-3 2h0m2 1h0m-1 2h0m2 0h0m-3 3h0m1 0h0m1 1h0m0 3h0m1 0h0m0 0h0m-4 2h0m3 0h0m-3 1h0m1 2h0m1 1h0m3 0h0m-5 2h0m5 0h0m-2 2h0m0 4h0m2 1h0m-5 4h0m4 0h0m1 0h0m-3 1h0m2 0h0m0 2h0m0 1h0m0 1h0m-4 10h0m4 1h0m1 1h0m0 3h0m0 1h0m-4 1h0m1 0h0m3 1h0m-5 3h0m1 0h0m3 1h0m1 0h0m-1 1h0m-1 2h0m1 4h0m-1 7h0m1 0h0m1 2h0m-5 5h0m0 5h0m0 1h0m0 1h0m4 1h0m0 1h0m0 5h0m1 1h0m-1 2h0m-3 2h0m0 1h0m3 4h0m-2 4h0m0 0h0m2 0h0m-2 9h0m-2 1h0m3 4h0m0 15h0m-1 15h0m9-298h0m-5 3h0m0 1h0m1 2h0m2 2h0m0 0h0m-2 7h0m-1 1h0m3 1h0m-1 7h0m3 7h0m0 12h0m-3 1h0m2 8h0m-4 2h0m3 1h0m-2 2h0m4 7h0m-3 3h0m3 8h0m0 1h0m-4 3h0m2 1h0m2 4h0m-4 2h0m0 3h0m2 0h0m-1 4h0m-2 5h0m3 5h0m-2 2h0m1 0h0m1 0h0m-3 1h0m5 2h0m-1 3h0m0 2h0m1 0h0m-5 1h0m1 1h0m3 0h0m1 0h0m-3 4h0m1 0h0m2 1h0m-5 2h0m0 7h0m0 6h0m1 0h0m1 3h0m2 0h0m-4 1h0m1 1h0m2 2h0m2 1h0m-2 6h0m-2 2h0m2 0h0m2 1h0m-4 3h0m3 4h0m-3 2h0m-1 1h0m4 1h0m-4 6h0m0 0h0m3 1h0m-1 1h0m0 3h0m2 1h0m1 0h0m-2 1h0m-1 3h0m0 2h0m0 3h0m3 0h0m0 2h0m-5 3h0m2 1h0m-1 1h0m0 1h0m1 2h0m-1 10h0m4 1h0m0 2h0m0 6h0m-2 5h0m0 0h0m-1 1h0m-1 2h0m4 3h0m-5 2h0m5 6h0m-5 1h0m2 1h0m3 6h0m-5 1h0m3 0h0m2 3h0m-1 1h0m0 5h0m1 4h0m-1 4h0m-2 2h0m1 12h0m2 2h0m0 8h0m-3 5h0m1 8h0m2 32h0m4-333h0m-3 13h0m0 0h0m0 0h0m1 1h0m0 11h0m-1 3h0m3 20h0m-2 22h0m1 0h0m2 10h0m-3 2h0m4 1h0m-1 7h0m1 4h0m0 2h0m-5 7h0m1 5h0m0 3h0m4 1h0m-5 1h0m3 0h0m0 0h0m-3 4h0m5 0h0m-3 1h0m0 1h0m1 0h0m0 0h0m1 0h0m1 2h0m0 2h0m-5 4h0m0 2h0m3 0h0m0 1h0m-2 1h0m3 0h0m1 2h0m-4 4h0m3 0h0m-2 1h0m2 0h0m-4 1h0m5 1h0m-5 4h0m1 0h0m0 1h0m4 1h0m-2 1h0m-3 4h0m0 3h0m0 1h0m0 0h0m5 2h0m-3 2h0m3 1h0m-2 3h0m-3 2h0m4 0h0m0 0h0m-2 5h0m-2 1h0m2 1h0m-1 1h0m1 1h0m0 3h0m2 3h0m0 0h0m0 3h0m0 4h0m1 0h0m-4 2h0m1 0h0m-2 2h0m0 3h0m0 0h0m0 0h0m1 0h0m0 1h0m1 0h0m2 0h0m1 0h0m-1 1h0m0 8h0m-3 1h0m1 1h0m3 0h0m-5 3h0m1 1h0m3 1h0m0 0h0m1 2h0m-4 2h0m2 2h0m0 0h0m-3 4h0m4 2h0m1 1h0m0 3h0m-4 1h0m1 0h0m3 0h0m-1 1h0m1 1h0m0 1h0m-3 1h0m-1 3h0m-1 1h0m5 2h0m-5 2h0m4 9h0m1 0h0m-3 1h0m0 2h0m0 1h0m1 4h0m0 3h0m0 2h0m2 11h0m-2 13h0m1 6h0m-1 8h0m0 3h0m-1 51h0m0 10h0m-2 50h0m8-390h0m1 5h0m-1 11h0m3 5h0m-5 6h0m4 5h0m-4 9h0m3 4h0m2 5h0m-5 1h0m1 1h0m3 1h0m0 2h0m1 1h0m-4 5h0m0 0h0m0 1h0m1 1h0m-2 2h0m0 0h0m5 2h0m-4 4h0m-1 4h0m0 0h0m5 7h0m-1 1h0m-1 1h0m2 1h0m-5 2h0m5 7h0m-2 1h0m-2 1h0m0 3h0m4 1h0m-3 5h0m3 0h0m-5 1h0m1 2h0m4 1h0m-3 3h0m2 3h0m-2 1h0m0 0h0m3 0h0m-4 3h0m0 1h0m2 0h0m-1 4h0m0 2h0m2 3h0m-2 1h0m0 3h0m-1 1h0m0 2h0m3 7h0m-3 1h0m1 0h0m0 3h0m-1 1h0m3 0h0m0 1h0m-4 5h0m3 2h0m-1 3h0m-1 2h0m3 2h0m1 3h0m-4 1h0m2 1h0m-2 2h0m2 0h0m2 1h0m0 1h0m-3 1h0m1 0h0m-3 3h0m0 0h0m3 0h0m0 4h0m1 0h0m-4 7h0m5 3h0m-5 2h0m4 0h0m0 2h0m-1 2h0m2 0h0m-4 2h0m4 4h0m-4 2h0m1 2h0m0 1h0m1 0h0m2 2h0m0 1h0m-4 9h0m3 2h0m1 2h0m-2 12h0m0 7h0m0 6h0m-1 26h0m2 53h0m1 15h0m-2 1h0m-1 6h0m2 52h0m6-399h0m-1 4h0m1 5h0m1 13h0m-4 1h0m0 7h0m3 0h0m-2 25h0m-2 10h0m4 2h0m-3 5h0m3 0h0m-4 2h0m2 3h0m2 0h0m-4 5h0m0 0h0m4 0h0m0 0h0m-2 1h0m0 2h0m2 1h0m-3 3h0m2 1h0m1 0h0m1 2h0m-2 1h0m2 1h0m-1 1h0m1 1h0m-1 2h0m-2 4h0m-1 4h0m-1 2h0m5 0h0m0 2h0m0 2h0m-5 6h0m1 0h0m3 2h0m-3 1h0m2 0h0m-3 1h0m2 1h0m3 1h0m-5 4h0m5 1h0m-4 2h0m-1 4h0m1 0h0m1 0h0m3 2h0m-1 3h0m-2 1h0m-2 2h0m0 4h0m5 0h0m-3 2h0m1 1h0m0 6h0m-2 1h0m4 0h0m-5 2h0m4 0h0m-4 1h0m0 0h0m1 3h0m2 2h0m-2 2h0m1 2h0m0 1h0m1 0h0m2 0h0m-5 1h0m4 0h0m-2 4h0m3 0h0m-3 1h0m3 1h0m0 2h0m-3 1h0m1 3h0m0 1h0m2 0h0m-5 2h0m3 3h0m1 0h0m-4 2h0m0 3h0m0 0h0m0 3h0m2 0h0m-1 6h0m0 0h0m4 0h0m-3 1h0m1 4h0m2 1h0m-2 1h0m-2 1h0m1 2h0m3 0h0m-5 1h0m1 4h0m0 1h0m2 1h0m-2 1h0m4 2h0m-5 3h0m2 3h0m-1 10h0m2 17h0m-3 12h0m1 20h0m3 54h0m4-345h0m3 9h0m-1 4h0m0 10h0m-2 5h0m-2 1h0m5 6h0m-4 8h0m1 4h0m-2 5h0m4 3h0m-3 1h0m-1 3h0m3 2h0m-2 7h0m3 6h0m1 3h0m-5 2h0m0 0h0m2 0h0m-2 1h0m4 1h0m-3 3h0m1 2h0m-2 2h0m3 0h0m2 0h0m-3 5h0m2 1h0m1 0h0m-1 1h0m-2 1h0m1 0h0m1 0h0m1 3h0m0 2h0m0 1h0m-3 1h0m0 0h0m0 1h0m1 0h0m-2 3h0m2 1h0m0 2h0m-3 5h0m2 1h0m1 4h0m2 0h0m0 0h0m-2 6h0m0 3h0m2 3h0m-3 6h0m2 0h0m0 6h0m-2 1h0m-2 3h0m5 1h0m-5 4h0m4 1h0m-4 1h0m0 1h0m1 1h0m4 2h0m-1 3h0m-4 1h0m0 0h0m1 0h0m0 1h0m0 3h0m-1 1h0m3 2h0m2 0h0m-3 1h0m2 2h0m-1 1h0m-3 1h0m2 3h0m0 1h0m-1 1h0m3 0h0m0 1h0m-1 2h0m0 3h0m0 1h0m-2 1h0m4 5h0m-5 1h0m5 0h0m-4 3h0m3 5h0m-1 2h0m-2 1h0m4 1h0m-4 2h0m4 0h0m-3 2h0m3 4h0m-4 2h0m4 10h0m-3 1h0m-1 2h0m1 0h0m-1 4h0m-1 13h0m2 0h0m1 3h0m0 17h0m1 0h0m0 3h0m-3 38h0m0 52h0m3 37h0m-3 8h0m8-404h0m-3 7h0m0 4h0m1 2h0m-1 1h0m1 4h0m2 7h0m-3 4h0m5 2h0m-2 2h0m-1 6h0m-1 4h0m3 2h0m-4 4h0m0 2h0m0 4h0m4 3h0m-2 2h0m-1 10h0m1 3h0m3 0h0m-5 1h0m4 1h0m0 2h0m-1 3h0m-3 2h0m5 0h0m-3 10h0m-2 2h0m0 0h0m1 0h0m0 3h0m3 0h0m1 2h0m-5 7h0m4 1h0m-3 6h0m3 0h0m-2 1h0m0 0h0m1 0h0m-3 1h0m5 0h0m-3 2h0m-1 1h0m4 0h0m-1 3h0m-1 1h0m-3 1h0m0 1h0m3 4h0m0 2h0m0 3h0m1 6h0m-4 3h0m4 1h0m-1 2h0m1 1h0m-3 1h0m1 0h0m2 0h0m0 0h0m-3 2h0m1 1h0m0 0h0m2 1h0m-3 2h0m3 1h0m1 0h0m-3 4h0m3 2h0m-4 3h0m4 6h0m-1 1h0m-2 6h0m1 0h0m2 0h0m-2 1h0m0 3h0m-1 3h0m1 0h0m-2 1h0m1 1h0m-2 1h0m0 1h0m0 3h0m3 1h0m1 1h0m-1 1h0m0 1h0m-1 3h0m3 2h0m-4 1h0m0 0h0m1 3h0m-2 1h0m4 2h0m0 1h0m-4 1h0m5 0h0m0 4h0m0 2h0m-1 1h0m-4 3h0m5 2h0m-4 4h0m0 5h0m3 1h0m1 3h0m-4 4h0m4 6h0m0 78h0m-1 30h0m-4 57h0m8-407h0m3 8h0m-3 1h0m1 2h0m2 1h0m0 5h0m-3 3h0m-2 7h0m2 6h0m-1 12h0m4 1h0m-4 3h0m2 1h0m0 1h0m0 7h0m-3 2h0m0 2h0m0 1h0m4 0h0m0 2h0m-4 3h0m1 3h0m1 3h0m2 0h0m1 2h0m-1 3h0m1 2h0m0 1h0m-3 1h0m0 2h0m-2 2h0m0 1h0m1 1h0m1 6h0m2 0h0m0 1h0m-4 2h0m5 0h0m-5 3h0m5 2h0m-5 1h0m1 0h0m0 3h0m2 0h0m1 0h0m-1 2h0m-3 1h0m5 1h0m-4 2h0m4 0h0m-4 1h0m3 2h0m-4 10h0m1 6h0m2 3h0m-3 1h0m5 2h0m-5 1h0m0 1h0m0 2h0m1 0h0m2 0h0m1 1h0m-1 4h0m-2 1h0m4 0h0m-3 2h0m1 1h0m-3 1h0m0 1h0m0 0h0m4 3h0m-4 1h0m0 7h0m4 1h0m-4 6h0m3 3h0m-3 5h0m1 0h0m1 3h0m1 0h0m-3 3h0m2 1h0m1 0h0m-2 1h0m-1 1h0m0 0h0m4 0h0m-1 2h0m2 0h0m-1 2h0m-2 1h0m1 1h0m2 1h0m-1 1h0m-2 1h0m3 1h0m-5 1h0m4 0h0m1 0h0m-4 4h0m3 2h0m0 1h0m-1 1h0m-2 3h0m2 1h0m-1 1h0m0 5h0m1 10h0m-2 1h0m-1 5h0m5 12h0m-1 7h0m0 5h0m-2 50h0m-1 53h0m1 50h0m7-424h0m-3 18h0m3 8h0m2 3h0m-1 2h0m-2 6h0m0 11h0m2 1h0m-4 6h0m2 13h0m2 9h0m-4 2h0m0 2h0m1 0h0m0 1h0m4 1h0m-1 2h0m-1 2h0m-1 2h0m-2 2h0m3 3h0m-3 2h0m1 1h0m1 2h0m-2 1h0m0 0h0m5 2h0m0 0h0m-5 1h0m2 0h0m1 0h0m1 1h0m-4 2h0m1 3h0m3 3h0m-1 2h0m-3 3h0m1 0h0m0 0h0m0 0h0m0 0h0m1 0h0m2 0h0m-4 2h0m3 0h0m1 0h0m-3 3h0m4 0h0m-2 3h0m1 0h0m0 4h0m1 0h0m-1 2h0m-3 1h0m3 0h0m1 0h0m-2 4h0m0 1h0m0 3h0m0 3h0m0 0h0m2 1h0m0 1h0m-5 1h0m0 0h0m0 2h0m3 1h0m2 0h0m0 0h0m-3 1h0m0 2h0m1 1h0m-3 1h0m2 2h0m0 2h0m-1 4h0m3 0h0m-3 2h0m4 0h0m-5 1h0m2 0h0m-1 5h0m4 0h0m0 4h0m-4 1h0m0 3h0m2 0h0m-1 2h0m1 0h0m-3 2h0m5 1h0m-5 5h0m2 1h0m3 1h0m0 2h0m-3 1h0m2 0h0m-2 1h0m3 1h0m-3 1h0m3 2h0m-1 1h0m-4 1h0m1 4h0m1 0h0m2 4h0m-4 2h0m2 0h0m0 0h0m-1 7h0m-1 4h0m0 0h0m0 1h0m5 1h0m-3 1h0m2 0h0m-1 5h0m-1 25h0m2 10h0m-3 131h0m3 58h0m5-461h0m1 18h0m0 1h0m0 16h0m-4 5h0m2 3h0m1 12h0m-3 1h0m0 2h0m3 1h0m1 2h0m-4 2h0m5 1h0m-5 5h0m0 9h0m1 0h0m4 0h0m-4 2h0m3 0h0m-3 7h0m3 4h0m-1 15h0m1 2h0m-4 1h0m1 0h0m2 0h0m-1 3h0m3 0h0m-3 2h0m-1 1h0m0 3h0m3 0h0m1 0h0m-4 1h0m4 2h0m-3 2h0m-2 1h0m5 1h0m-5 1h0m0 1h0m3 0h0m-2 3h0m0 1h0m1 1h0m-1 1h0m1 1h0m1 1h0m2 0h0m-1 5h0m-2 1h0m0 0h0m0 1h0m0 1h0m0 0h0m1 0h0m-2 2h0m1 1h0m-1 2h0m1 1h0m2 1h0m1 0h0m-3 1h0m2 0h0m0 2h0m-1 4h0m0 1h0m0 1h0m2 1h0m-1 1h0m-3 3h0m3 1h0m-2 1h0m0 0h0m1 0h0m1 0h0m0 2h0m-2 2h0m-2 1h0m2 0h0m-2 1h0m5 3h0m-2 2h0m2 0h0m-3 1h0m2 2h0m1 2h0m-3 1h0m1 1h0m-1 3h0m-1 1h0m1 6h0m2 0h0m0 0h0m1 5h0m0 0h0m-3 1h0m1 0h0m0 1h0m-1 7h0m0 1h0m-1 5h0m-1 6h0m3 1h0m0 5h0m0 2h0m0 0h0m2 0h0m-2 3h0m-1 1h0m3 8h0m-2 1h0m1 2h0m0 7h0m-2 14h0m3 7h0m-1 7h0m1 15h0m0 42h0m-1 14h0m-3 3h0m9-327h0m-4 5h0m0 1h0m4 1h0m-1 3h0m2 3h0m-3 3h0m-2 2h0m3 12h0m0 3h0m2 0h0m-2 14h0m0 3h0m2 2h0m-2 4h0m-2 2h0m0 2h0m0 3h0m0 1h0m3 0h0m-3 1h0m4 2h0m-4 2h0m3 1h0m1 1h0m-4 2h0m0 1h0m0 3h0m2 2h0m0 0h0m-1 3h0m2 3h0m-1 1h0m-3 1h0m1 0h0m1 0h0m0 0h0m3 2h0m-2 3h0m1 1h0m-3 1h0m0 3h0m1 1h0m0 2h0m3 1h0m-1 1h0m-2 1h0m-2 1h0m5 0h0m-1 2h0m-3 1h0m2 0h0m-2 1h0m3 0h0m-3 1h0m2 2h0m2 1h0m-4 2h0m-1 2h0m1 3h0m0 0h0m1 0h0m1 0h0m-2 1h0m2 1h0m-2 5h0m2 1h0m-3 2h0m4 0h0m-2 1h0m3 1h0m0 4h0m-1 6h0m-3 3h0m1 1h0m0 0h0m1 1h0m-3 2h0m2 0h0m3 0h0m-2 1h0m-1 1h0m2 4h0m0 1h0m-2 1h0m2 0h0m-1 1h0m1 0h0m1 0h0m-4 1h0m0 0h0m4 0h0m-2 1h0m-1 2h0m1 0h0m1 3h0m1 0h0m-4 4h0m4 6h0m-4 3h0m1 0h0m-2 6h0m2 1h0m-2 1h0m0 0h0m5 2h0m-5 3h0m0 2h0m3 0h0m-3 2h0m1 0h0m4 0h0m-1 1h0m-1 2h0m0 1h0m1 0h0m1 0h0m-5 1h0m3 2h0m-1 1h0m1 0h0m-2 1h0m2 0h0m1 0h0m1 0h0m-5 3h0m1 0h0m4 1h0m-1 1h0m-3 1h0m4 3h0m0 1h0m-4 2h0m0 0h0m0 1h0m-1 1h0m0 1h0m3 2h0m0 3h0m-1 1h0m0 0h0m3 2h0m-1 4h0m-4 1h0m4 0h0m0 7h0m-3 1h0m1 0h0m3 7h0m-3 23h0m0 1h0m1 10h0m-1 76h0m0 36h0m0 52h0m2 96h0m5-533h0m-1 2h0m2 6h0m-3 4h0m3 7h0m-3 3h0m1 1h0m3 0h0m-5 2h0m4 0h0m-1 8h0m2 6h0m-2 1h0m1 2h0m0 0h0m-1 3h0m-2 1h0m-1 4h0m0 2h0m3 3h0m-3 3h0m5 0h0m-4 5h0m0 0h0m1 0h0m2 0h0m-2 1h0m3 3h0m-5 1h0m2 2h0m-2 1h0m4 4h0m-3 1h0m2 2h0m2 1h0m-2 2h0m0 3h0m-2 1h0m2 0h0m2 1h0m0 2h0m-2 1h0m2 5h0m-4 1h0m-1 2h0m0 0h0m5 0h0m-3 1h0m2 2h0m0 3h0m-4 1h0m5 0h0m-3 4h0m-2 1h0m1 0h0m0 6h0m-1 1h0m1 3h0m1 2h0m-1 1h0m-1 3h0m4 2h0m-4 1h0m4 0h0m-2 1h0m0 0h0m3 2h0m0 1h0m0 0h0m-5 1h0m5 1h0m-4 1h0m-1 3h0m4 0h0m-2 1h0m0 1h0m1 0h0m-3 3h0m1 0h0m1 3h0m3 1h0m-4 1h0m2 2h0m-1 5h0m1 1h0m2 1h0m0 0h0m-5 2h0m3 3h0m0 2h0m2 0h0m-4 2h0m3 0h0m-3 4h0m1 1h0m2 0h0m-4 4h0m0 0h0m0 0h0m4 0h0m1 0h0m-4 1h0m2 0h0m-2 4h0m0 1h0m3 5h0m1 1h0m-1 4h0m-2 5h0m1 3h0m-2 2h0m2 0h0m1 0h0m-4 1h0m4 1h0m-4 1h0m3 2h0m-3 1h0m1 3h0m-1 2h0m4 0h0m1 1h0m-3 2h0m0 4h0m0 8h0m1 2h0m0 0h0m0 12h0m-1 7h0m0 25h0m-1 4h0m2 156h0m5-445h0m-2 13h0m2 5h0m3 20h0m-2 2h0m0 2h0m0 6h0m2 7h0m0 4h0m-2 1h0m0 2h0m-1 1h0m3 0h0m0 1h0m-2 5h0m0 1h0m2 1h0m-4 4h0m4 3h0m-5 1h0m5 0h0m-4 1h0m0 6h0m-1 1h0m0 0h0m5 2h0m-3 4h0m-2 1h0m4 0h0m0 4h0m-3 2h0m0 1h0m4 1h0m-3 2h0m-1 1h0m2 0h0m-1 1h0m3 4h0m-1 2h0m-1 7h0m1 0h0m-4 1h0m1 0h0m0 2h0m0 5h0m4 1h0m-4 1h0m2 1h0m0 1h0m1 0h0m1 0h0m0 1h0m0 1h0m-5 2h0m1 1h0m2 3h0m-1 1h0m-2 1h0m2 0h0m-1 1h0m1 1h0m2 0h0m0 5h0m-3 1h0m0 0h0m-1 2h0m1 6h0m3 1h0m-3 5h0m2 0h0m-3 1h0m2 0h0m0 2h0m1 2h0m-3 3h0m0 2h0m4 1h0m-2 1h0m-2 1h0m3 0h0m-2 4h0m-1 1h0m5 2h0m0 1h0m-5 1h0m1 1h0m4 1h0m-4 1h0m4 0h0m-3 2h0m-1 2h0m-1 2h0m1 0h0m1 1h0m1 0h0m-3 2h0m2 1h0m3 3h0m-4 1h0m1 0h0m3 1h0m-4 4h0m2 5h0m0 1h0m1 0h0m1 0h0m-1 2h0m-2 1h0m1 5h0m2 2h0m0 8h0m-5 14h0m3 1h0m2 7h0m0 2h0m-4 124h0m7-381h0m2 10h0m-1 6h0m-2 4h0m-1 4h0m5 1h0m-3 1h0m-2 2h0m5 3h0m-3 3h0m3 0h0m-4 4h0m4 1h0m-4 3h0m0 1h0m2 10h0m2 3h0m-2 9h0m1 3h0m-2 2h0m0 2h0m0 0h0m-2 2h0m0 0h0m2 0h0m1 4h0m1 1h0m-3 3h0m3 1h0m1 1h0m-4 1h0m1 5h0m-2 1h0m4 3h0m-4 1h0m1 2h0m4 6h0m-5 3h0m3 1h0m1 4h0m1 3h0m-1 1h0m1 2h0m-2 1h0m0 3h0m1 0h0m0 0h0m-2 5h0m3 4h0m0 1h0m-4 1h0m3 0h0m-1 2h0m2 0h0m0 1h0m-1 1h0m0 0h0m-3 2h0m0 1h0m1 0h0m0 0h0m2 0h0m-1 4h0m-1 2h0m3 0h0m-1 3h0m1 0h0m0 0h0m-4 1h0m4 0h0m-2 1h0m-2 1h0m-1 1h0m0 2h0m3 2h0m1 0h0m-3 1h0m4 0h0m0 0h0m-4 1h0m0 1h0m2 1h0m-2 2h0m4 0h0m-4 6h0m0 1h0m0 2h0m-1 1h0m5 0h0m-5 5h0m5 1h0m-1 1h0m1 4h0m-5 2h0m5 2h0m-2 2h0m1 0h0m-3 3h0m-1 1h0m1 0h0m-1 1h0m0 4h0m3 0h0m1 1h0m0 3h0m-3 2h0m3 1h0m1 1h0m0 1h0m-2 2h0m1 1h0m-4 1h0m0 3h0m2 1h0m0 1h0m0 0h0m2 0h0m0 0h0m-1 1h0m2 0h0m-5 3h0m4 0h0m1 2h0m-3 3h0m3 2h0m-3 1h0m0 0h0m-2 2h0m5 0h0m-4 9h0m-1 2h0m1 6h0m1 5h0m3 22h0m-5 7h0m5 9h0m-5 7h0m3 25h0m0 64h0m-3 3h0m8-399h0m1 29h0m2 4h0m-3 3h0m-1 5h0m0 2h0m0 3h0m1 2h0m-2 7h0m2 6h0m2 0h0m-4 16h0m5 0h0m-5 3h0m1 0h0m0 6h0m3 0h0m-1 1h0m1 0h0m-1 5h0m-2 2h0m0 0h0m1 1h0m2 1h0m-2 2h0m0 0h0m-1 7h0m-1 2h0m5 1h0m-5 3h0m1 1h0m2 2h0m2 1h0m-1 2h0m-2 2h0m2 0h0m-2 4h0m3 0h0m-3 1h0m1 0h0m-2 1h0m-1 1h0m0 1h0m0 2h0m1 1h0m4 0h0m-3 1h0m2 2h0m0 1h0m-1 2h0m-2 1h0m1 0h0m0 0h0m-1 1h0m0 0h0m1 0h0m3 0h0m-3 1h0m1 0h0m0 3h0m-1 3h0m-1 5h0m4 3h0m-5 2h0m3 0h0m1 0h0m-1 1h0m-3 2h0m5 0h0m-3 2h0m-2 2h0m1 1h0m2 2h0m2 0h0m-4 2h0m-1 1h0m0 1h0m4 1h0m1 0h0m0 1h0m-1 1h0m-1 3h0m-3 1h0m0 2h0m4 0h0m-4 2h0m1 0h0m-1 1h0m4 0h0m-1 3h0m-1 8h0m0 3h0m0 0h0m3 1h0m-3 1h0m-1 3h0m4 2h0m-5 1h0m4 1h0m1 1h0m-4 1h0m1 0h0m-2 3h0m3 4h0m0 0h0m1 0h0m1 1h0m-3 1h0m3 0h0m-1 1h0m0 2h0m-4 1h0m5 2h0m-5 1h0m1 2h0m4 5h0m0 1h0m-1 2h0m-3 3h0m4 2h0m-3 6h0m3 0h0m-1 5h0m1 0h0m-2 1h0m1 1h0m0 1h0m-4 3h0m2 4h0m0 1h0m-1 2h0m3 2h0m-2 9h0m2 7h0m1 10h0m-2 17h0m0 67h0m-2 25h0m2 80h0m2 135h0m3-600h0m-1 8h0m2 8h0m1 3h0m-2 1h0m1 0h0m-2 3h0m4 1h0m-2 7h0m-2 12h0m4 3h0m0 2h0m-4 3h0m1 4h0m2 0h0m0 2h0m0 1h0m-2 6h0m3 1h0m-3 3h0m1 0h0m1 2h0m1 8h0m-3 1h0m0 1h0m0 1h0m0 0h0m-1 1h0m3 0h0m-1 1h0m-3 6h0m5 1h0m-4 2h0m3 0h0m-2 1h0m1 8h0m2 1h0m-5 3h0m1 1h0m4 0h0m-2 1h0m-1 1h0m-2 2h0m1 2h0m1 5h0m0 1h0m0 2h0m2 1h0m-3 2h0m1 0h0m-2 1h0m5 0h0m-4 2h0m1 1h0m1 0h0m-3 5h0m5 2h0m-4 1h0m-1 1h0m4 2h0m1 3h0m-3 1h0m3 0h0m-2 6h0m-1 1h0m0 0h0m1 0h0m1 3h0m-3 2h0m2 0h0m-3 2h0m4 0h0m0 2h0m1 4h0m-2 2h0m1 0h0m-3 1h0m2 0h0m0 1h0m0 1h0m1 2h0m-3 3h0m2 1h0m2 1h0m-5 2h0m4 0h0m-4 2h0m4 4h0m-1 1h0m-3 3h0m4 1h0m1 0h0m-1 5h0m0 1h0m-3 2h0m3 4h0m1 1h0m-1 1h0m1 0h0m-4 1h0m1 1h0m-1 1h0m2 0h0m2 0h0m-2 6h0m2 0h0m0 1h0m0 1h0m-2 1h0m1 2h0m-2 1h0m-2 1h0m2 1h0m-2 1h0m1 0h0m2 0h0m0 1h0m0 1h0m-1 3h0m-1 1h0m1 4h0m1 0h0m2 0h0m-2 2h0m0 0h0m2 5h0m-1 13h0m-3 13h0m2 2h0m1 0h0m1 7h0m-4 15h0m4 40h0m-2 1h0m0 69h0m8-392h0m-5 5h0m0 15h0m1 6h0m-1 2h0m1 0h0m0 0h0m2 2h0m0 2h0m1 7h0m-4 2h0m1 2h0m0 1h0m2 0h0m1 3h0m-3 5h0m-1 3h0m4 1h0m0 3h0m-2 3h0m-2 8h0m4 0h0m1 3h0m-2 3h0m2 1h0m-2 4h0m-2 5h0m0 0h0m1 2h0m-2 3h0m3 0h0m-2 2h0m2 0h0m-1 2h0m-2 3h0m3 0h0m2 1h0m-4 2h0m1 2h0m1 6h0m-2 1h0m0 1h0m0 2h0m0 1h0m4 0h0m-2 1h0m0 1h0m-1 6h0m3 0h0m-2 1h0m-2 7h0m3 0h0m-1 1h0m1 4h0m-4 1h0m2 1h0m0 1h0m-2 2h0m5 0h0m0 0h0m-1 1h0m-2 5h0m-2 2h0m4 5h0m-3 4h0m4 2h0m-4 1h0m4 1h0m-4 1h0m2 2h0m1 0h0m-4 1h0m3 0h0m-1 1h0m-2 3h0m4 1h0m1 1h0m-2 2h0m-3 5h0m2 1h0m1 0h0m-2 1h0m4 1h0m-5 4h0m0 0h0m4 1h0m1 1h0m-3 1h0m1 4h0m2 5h0m0 0h0m-3 3h0m0 0h0m1 0h0m0 1h0m1 1h0m-4 3h0m4 0h0m-3 2h0m0 0h0m0 1h0m1 0h0m3 1h0m-3 1h0m-2 1h0m3 1h0m0 7h0m-3 1h0m0 1h0m3 1h0m0 1h0m-1 3h0m3 0h0m-4 2h0m3 2h0m-3 7h0m1 7h0m-2 3h0m3 2h0m-1 6h0m-2 1h0m2 1h0m-1 1h0m0 0h0m-1 1h0m2 1h0m1 1h0m-3 3h0m5 3h0m-1 14h0m-1 7h0m-1 2h0m3 7h0m-4 2h0m3 25h0m-1 69h0m4-409h0m0 9h0m-1 6h0m5 2h0m-2 1h0m0 0h0m2 3h0m0 4h0m-2 8h0m2 4h0m-1 2h0m1 1h0m-3 1h0m2 0h0m-2 3h0m-2 1h0m4 2h0m-4 13h0m1 1h0m2 1h0m-3 6h0m1 0h0m-1 1h0m5 0h0m-2 2h0m-2 3h0m1 1h0m3 0h0m0 0h0m-2 1h0m-2 3h0m2 2h0m0 5h0m-2 3h0m3 0h0m0 0h0m1 1h0m-4 1h0m1 0h0m2 2h0m-3 2h0m0 1h0m4 0h0m-5 1h0m0 1h0m0 0h0m1 1h0m0 2h0m4 1h0m-5 1h0m3 2h0m2 0h0m-5 1h0m0 0h0m0 2h0m5 1h0m-2 2h0m2 0h0m-4 1h0m0 1h0m4 1h0m-3 1h0m-1 3h0m-1 2h0m1 1h0m3 1h0m1 2h0m-4 1h0m0 4h0m1 2h0m-2 2h0m5 0h0m-4 4h0m3 0h0m-1 3h0m-3 1h0m2 3h0m0 0h0m3 0h0m-3 1h0m2 4h0m0 0h0m1 0h0m0 1h0m-5 2h0m5 1h0m-2 4h0m2 0h0m-4 2h0m2 0h0m2 1h0m-5 5h0m1 7h0m-1 1h0m0 0h0m2 2h0m-2 1h0m0 6h0m1 0h0m0 0h0m2 4h0m-3 5h0m5 0h0m-1 2h0m0 1h0m0 4h0m-2 2h0m3 2h0m0 0h0m-4 5h0m1 2h0m0 6h0m3 1h0m-5 1h0m1 1h0m1 3h0m-1 4h0m-1 3h0m1 0h0m1 0h0m1 2h0m-3 5h0m3 1h0m1 0h0m1 18h0m0 1h0m0 9h0m-3 2h0m-2 1h0m2 6h0m-2 1h0m4 2h0m-1 5h0m2 2h0m-4 2h0m3 10h0m-3 15h0m-1 6h0m3 188h0m0 6h0m7-545h0m-1 8h0m-1 42h0m1 2h0m-1 3h0m-2 4h0m0 1h0m1 11h0m2 6h0m-3 9h0m5 3h0m0 6h0m-5 1h0m1 4h0m4 0h0m-1 1h0m-4 1h0m0 3h0m3 1h0m1 0h0m-2 7h0m-2 2h0m0 1h0m2 1h0m2 0h0m-3 4h0m3 2h0m1 1h0m0 0h0m-2 2h0m1 3h0m-1 1h0m2 1h0m0 6h0m-3 4h0m0 0h0m-2 2h0m1 1h0m1 1h0m1 0h0m-3 2h0m2 6h0m3 1h0m-1 1h0m-3 2h0m2 0h0m1 3h0m-4 1h0m3 0h0m-2 1h0m1 1h0m3 2h0m0 0h0m-1 1h0m1 2h0m-3 1h0m0 0h0m-2 2h0m3 0h0m0 1h0m0 1h0m2 3h0m-4 2h0m3 0h0m-3 2h0m4 0h0m-1 1h0m-1 8h0m2 2h0m-3 2h0m1 0h0m-2 2h0m0 0h0m-1 3h0m4 0h0m0 1h0m-4 6h0m1 1h0m3 2h0m-2 1h0m3 2h0m-1 2h0m1 0h0m-1 1h0m0 1h0m1 0h0m0 1h0m-2 4h0m-3 2h0m1 0h0m0 4h0m4 1h0m-1 2h0m-2 1h0m2 3h0m-3 1h0m3 1h0m1 1h0m0 1h0m-1 6h0m-3 1h0m1 1h0m1 0h0m-3 1h0m0 0h0m2 3h0m-1 2h0m1 1h0m0 0h0m0 3h0m-2 1h0m4 0h0m-2 2h0m-2 2h0m2 1h0m-2 3h0m4 3h0m-2 1h0m3 2h0m-3 1h0m-2 1h0m3 3h0m-3 1h0m1 0h0m1 0h0m-1 2h0m-1 1h0m0 0h0m0 1h0m1 0h0m3 2h0m-2 1h0m2 3h0m1 2h0m0 5h0m-2 1h0m2 4h0m0 4h0m-1 1h0m-3 3h0m0 2h0m3 1h0m-3 1h0m0 1h0m3 7h0m1 0h0m-2 2h0m-3 4h0m2 0h0m2 2h0m-3 2h0m2 1h0m1 19h0m1 2h0m-5 13h0m4 16h0m5-341h0m0 21h0m2 4h0m-1 10h0m-2 1h0m1 4h0m-3 22h0m2 0h0m3 3h0m-4 1h0m0 2h0m3 1h0m-2 3h0m2 0h0m-4 1h0m1 2h0m1 1h0m2 0h0m0 0h0m-3 1h0m-1 6h0m4 1h0m-4 3h0m4 2h0m-4 2h0m4 0h0m-1 1h0m2 2h0m-2 1h0m-1 1h0m-2 4h0m0 2h0m4 2h0m1 0h0m-2 2h0m-3 1h0m2 3h0m0 1h0m3 2h0m-2 2h0m-3 1h0m3 0h0m-2 2h0m1 2h0m-2 1h0m3 5h0m-1 3h0m3 0h0m-3 2h0m2 1h0m-3 2h0m4 0h0m-5 2h0m2 0h0m3 0h0m-4 5h0m2 0h0m0 4h0m-3 2h0m0 1h0m5 1h0m-5 1h0m2 1h0m2 4h0m1 0h0m0 0h0m0 1h0m0 0h0m-1 2h0m-4 1h0m2 6h0m2 1h0m0 0h0m1 1h0m-4 5h0m-1 1h0m5 0h0m0 1h0m-2 1h0m1 0h0m-3 3h0m-1 1h0m5 0h0m-2 1h0m2 0h0m-3 1h0m1 0h0m2 4h0m-2 3h0m-1 1h0m-2 2h0m2 3h0m2 4h0m-2 3h0m2 0h0m-3 1h0m1 0h0m-1 3h0m1 0h0m3 0h0m0 2h0m-1 3h0m-1 1h0m1 1h0m-3 2h0m3 0h0m-3 3h0m0 1h0m4 1h0m-4 2h0m1 0h0m0 0h0m1 0h0m2 0h0m-2 3h0m1 0h0m-4 1h0m4 1h0m-4 3h0m3 1h0m1 0h0m0 3h0m-4 1h0m2 0h0m2 1h0m1 1h0m-3 2h0m2 0h0m0 1h0m-1 3h0m-1 1h0m3 1h0m0 2h0m-5 5h0m4 1h0m-3 1h0m4 2h0m0 1h0m0 1h0m-1 1h0m-4 2h0m0 7h0m2 0h0m-1 6h0m2 0h0m1 5h0m-2 4h0m3 2h0m-3 3h0m0 5h0m-1 2h0m1 2h0m3 1h0m-1 6h0m-1 2h0m-1 11h0m2 3h0m-2 3h0m3 14h0m-1 4h0m-4 7h0m4 14h0m-4 42h0m2 4h0m1 16h0m2 27h0m5-490h0m-2 3h0m1 0h0m-1 3h0m3 7h0m-1 2h0m-1 1h0m0 1h0m-2 7h0m3 10h0m-2 1h0m0 7h0m2 4h0m-3 10h0m2 0h0m-2 13h0m2 0h0m1 3h0m1 4h0m-2 4h0m1 16h0m-2 1h0m2 0h0m-1 6h0m1 0h0m0 4h0m0 5h0m-1 5h0m1 0h0m1 0h0m-1 4h0m-3 4h0m4 0h0m-5 2h0m0 1h0m4 0h0m1 0h0m-5 2h0m3 0h0m0 1h0m0 0h0m-1 3h0m0 4h0m-2 1h0m4 1h0m-2 1h0m2 1h0m1 1h0m-2 8h0m2 2h0m-3 5h0m2 0h0m-3 6h0m0 1h0m0 0h0m0 0h0m1 2h0m-2 1h0m4 1h0m-2 1h0m-1 2h0m1 0h0m-2 2h0m2 2h0m1 0h0m-2 3h0m3 0h0m-2 3h0m-1 3h0m3 1h0m1 1h0m-5 1h0m4 0h0m-3 2h0m0 0h0m1 3h0m1 0h0m-3 2h0m2 3h0m2 2h0m-4 1h0m1 1h0m4 1h0m-4 2h0m4 1h0m-4 5h0m2 1h0m2 0h0m0 5h0m0 1h0m-4 1h0m2 0h0m2 0h0m-3 4h0m-1 1h0m3 1h0m-2 2h0m1 0h0m0 2h0m-2 2h0m3 1h0m0 1h0m-4 1h0m5 8h0m-2 2h0m-2 1h0m1 0h0m2 3h0m-4 2h0m2 1h0m2 0h0m1 0h0m-4 2h0m-1 4h0m2 0h0m-2 3h0m2 0h0m-1 3h0m2 0h0m2 1h0m-3 2h0m1 2h0m0 0h0m-1 3h0m-2 1h0m0 1h0m0 2h0m2 2h0m2 4h0m-3 2h0m0 0h0m2 0h0m-3 4h0m4 0h0m-2 2h0m1 0h0m2 0h0m-4 3h0m1 0h0m1 3h0m1 7h0m-3 1h0m2 0h0m2 5h0m-1 3h0m-2 3h0m2 0h0m-2 1h0m1 14h0m2 0h0m-1 2h0m-3 2h0m2 2h0m-1 1h0m-2 1h0m4 1h0m0 3h0m-3 8h0m2 1h0m-3 1h0m1 7h0m4 12h0m-1 333h0m2-704h0m0 0h0m1 0h0m3 4h0m-4 1h0m2 17h0m0 3h0m-1 5h0m-1 7h0m4 3h0m-3 13h0m1 6h0m2 1h0m-1 13h0m0 2h0m-3 3h0m1 0h0m0 6h0m2 8h0m-2 4h0m4 0h0m0 15h0m0 3h0m-2 5h0m2 2h0m-1 1h0m-3 4h0m-1 1h0m4 2h0m0 2h0m-4 1h0m2 0h0m3 0h0m-4 1h0m1 0h0m3 2h0m-1 4h0m-2 1h0m-2 1h0m1 2h0m1 3h0m-2 5h0m4 1h0m-3 2h0m-1 3h0m4 1h0m1 1h0m0 3h0m-5 1h0m3 2h0m-1 2h0m2 1h0m-2 1h0m0 0h0m0 0h0m-1 1h0m2 0h0m1 4h0m-2 3h0m0 2h0m2 0h0m-1 7h0m1 0h0m-3 2h0m3 3h0m-2 6h0m2 0h0m-2 1h0m-1 2h0m1 11h0m0 0h0m3 0h0m-5 2h0m3 0h0m-1 1h0m-1 4h0m4 0h0m-2 1h0m1 0h0m-4 1h0m2 1h0m2 2h0m0 1h0m-1 2h0m2 0h0m-1 2h0m-2 2h0m0 1h0m1 1h0m-2 2h0m4 0h0m-2 4h0m2 1h0m0 5h0m0 0h0m-2 1h0m-3 2h0m0 0h0m0 0h0m4 1h0m1 2h0m-5 4h0m2 0h0m0 1h0m0 0h0m3 0h0m-2 1h0m0 1h0m2 0h0m-4 1h0m1 1h0m-1 1h0m0 0h0m-1 4h0m1 1h0m4 2h0m-5 2h0m1 0h0m3 0h0m-3 3h0m3 0h0m-4 4h0m2 0h0m-1 7h0m-1 3h0m0 0h0m2 1h0m2 0h0m0 0h0m-3 3h0m4 0h0m-5 1h0m3 0h0m-3 1h0m0 1h0m5 3h0m-5 3h0m5 4h0m-5 7h0m5 12h0m-5 6h0m2 2h0m2 2h0m-4 8h0m2 0h0m3 76h0m-3 10h0m1 14h0m-1 31h0m8-468h0m-3 1h0m1 5h0m3 0h0m-5 3h0m2 7h0m1 7h0m2 4h0m-4 5h0m0 1h0m1 4h0m2 0h0m1 1h0m-5 4h0m1 8h0m2 3h0m1 1h0m-4 5h0m2 3h0m-2 1h0m3 0h0m-3 1h0m1 4h0m4 0h0m-5 9h0m4 2h0m1 2h0m-1 8h0m1 1h0m-2 1h0m-1 5h0m0 1h0m0 0h0m3 0h0m-5 1h0m1 2h0m3 1h0m-3 2h0m0 2h0m1 1h0m0 5h0m1 0h0m0 2h0m-3 3h0m0 1h0m2 0h0m0 1h0m1 4h0m1 3h0m1 0h0m-3 1h0m0 0h0m1 4h0m-3 1h0m4 1h0m0 2h0m-1 1h0m-3 3h0m2 1h0m0 0h0m2 0h0m1 5h0m0 0h0m-2 1h0m1 1h0m-3 2h0m3 1h0m-3 3h0m2 0h0m-3 5h0m0 0h0m1 1h0m1 0h0m2 0h0m-4 1h0m0 2h0m1 0h0m1 0h0m0 2h0m2 2h0m-3 8h0m0 2h0m-1 3h0m5 1h0m-3 4h0m2 3h0m-4 3h0m3 0h0m-1 1h0m2 0h0m-4 4h0m0 0h0m4 1h0m1 1h0m-5 1h0m2 11h0m2 0h0m-2 5h0m1 1h0m-1 1h0m3 0h0m-1 3h0m-3 3h0m3 0h0m1 0h0m-1 1h0m1 0h0m-4 1h0m3 1h0m1 0h0m-5 1h0m5 0h0m-3 1h0m-1 3h0m2 0h0m1 1h0m0 0h0m-3 3h0m3 0h0m1 4h0m-1 1h0m1 0h0m0 2h0m-5 1h0m2 0h0m2 1h0m-2 3h0m-2 1h0m2 1h0m-2 3h0m1 2h0m0 5h0m1 3h0m1 2h0m-3 6h0m0 1h0m5 2h0m0 0h0m-2 1h0m-2 2h0m-1 1h0m5 1h0m-4 3h0m1 1h0m-2 9h0m2 1h0m1 3h0m0 1h0m-2 4h0m0 5h0m0 2h0m0 2h0m4 3h0m-4 1h0m3 4h0m-2 2h0m1 11h0m1 4h0m0 0h0m-3 3h0m-1 5h0m2 0h0m2 3h0m0 40h0m-1 29h0m4-409h0m3 4h0m-2 1h0m0 10h0m0 2h0m2 1h0m1 2h0m-4 4h0m-1 5h0m0 2h0m0 4h0m4 0h0m1 11h0m-4 1h0m1 5h0m2 6h0m1 0h0m-4 1h0m4 0h0m-4 5h0m2 1h0m-3 3h0m1 0h0m0 6h0m0 1h0m3 3h0m-3 4h0m2 14h0m2 0h0m-3 12h0m2 1h0m-3 1h0m2 0h0m-1 1h0m3 2h0m-1 3h0m-3 6h0m2 0h0m1 2h0m-2 2h0m2 2h0m-4 2h0m0 3h0m3 0h0m1 0h0m-2 1h0m-1 1h0m3 0h0m-4 1h0m0 1h0m1 2h0m1 0h0m-2 1h0m1 0h0m4 0h0m0 1h0m-5 4h0m4 2h0m1 0h0m-5 4h0m5 1h0m0 0h0m-4 3h0m1 0h0m1 0h0m2 0h0m-2 1h0m0 0h0m0 0h0m-3 1h0m4 6h0m-4 1h0m5 0h0m-5 1h0m2 0h0m-1 1h0m-1 5h0m3 0h0m-2 1h0m1 3h0m1 1h0m-1 1h0m1 3h0m0 0h0m0 1h0m1 1h0m1 1h0m-4 1h0m3 0h0m1 1h0m0 1h0m-2 1h0m-1 1h0m1 0h0m0 0h0m1 4h0m-3 2h0m3 1h0m1 4h0m-2 1h0m0 3h0m-3 2h0m4 0h0m-4 2h0m4 0h0m0 1h0m-4 1h0m4 2h0m-4 5h0m1 1h0m2 1h0m2 3h0m-4 2h0m1 0h0m0 2h0m0 1h0m3 1h0m-2 1h0m2 1h0m-4 2h0m3 11h0m-2 7h0m-1 1h0m4 0h0m0 0h0m-4 2h0m4 7h0m-5 1h0m0 0h0m0 0h0m2 0h0m3 2h0m0 4h0m-4 5h0m0 3h0m2 0h0m0 0h0m2 0h0m-4 5h0m1 4h0m-2 1h0m4 0h0m-1 2h0m-1 1h0m3 0h0m-2 6h0m1 2h0m-3 2h0m-1 1h0m5 4h0m-5 1h0m4 0h0m-3 5h0m3 15h0m-4 1h0m5 4h0m-5 13h0m5 8h0m-5 6h0m3 24h0m2 2h0m-4 15h0m2 4h0m2 7h0m-5 48h0m5 15h0m2-463h0m1 9h0m-1 3h0m2 0h0m-1 10h0m-2 8h0m2 0h0m-1 1h0m2 11h0m-1 2h0m0 4h0m1 2h0m-3 12h0m3 4h0m-3 2h0m2 0h0m0 10h0m1 0h0m2 1h0m-4 4h0m1 3h0m1 3h0m-1 1h0m3 10h0m-2 1h0m-1 8h0m3 4h0m-2 2h0m2 0h0m0 3h0m-4 3h0m4 0h0m-5 1h0m0 1h0m0 0h0m2 1h0m2 0h0m-2 1h0m2 2h0m-2 2h0m-1 1h0m1 1h0m-2 1h0m4 1h0m0 0h0m-1 1h0m-2 4h0m3 0h0m-1 4h0m-1 1h0m0 3h0m3 1h0m-5 3h0m5 0h0m-5 1h0m3 0h0m0 1h0m-1 1h0m3 0h0m-4 2h0m-1 4h0m0 1h0m2 0h0m-1 1h0m2 1h0m1 0h0m-4 1h0m4 3h0m-2 3h0m-1 1h0m2 1h0m-3 4h0m3 1h0m-2 2h0m0 2h0m3 3h0m-1 3h0m-3 4h0m2 0h0m2 0h0m1 1h0m0 1h0m-2 1h0m1 3h0m-2 3h0m-2 5h0m1 0h0m-1 4h0m3 2h0m-1 4h0m-2 6h0m4 1h0m-2 2h0m3 0h0m-4 8h0m0 2h0m3 1h0m-3 1h0m2 0h0m2 1h0m-5 4h0m1 1h0m4 1h0m-5 4h0m0 2h0m4 0h0m0 0h0m-1 4h0m-1 1h0m-2 4h0m4 4h0m-1 3h0m-1 4h0m-1 1h0m1 1h0m3 2h0m-2 2h0m2 2h0m-2 6h0m-2 4h0m0 2h0m4 5h0m-4 1h0m4 0h0m-4 1h0m2 1h0m2 4h0m-2 3h0m1 4h0m-3 6h0m2 3h0m2 0h0m0 0h0m-1 4h0m-3 3h0m1 3h0m2 1h0m0 1h0m-1 21h0m1 50h0m-4 15h0m4 21h0m0 92h0m4-537h0m0 21h0m1 7h0m0 1h0m-1 5h0m2 6h0m-2 1h0m-1 3h0m4 11h0m-5 1h0m0 0h0m1 3h0m1 5h0m-1 2h0m4 0h0m-4 16h0m-1 14h0m4 5h0m-2 4h0m1 0h0m0 1h0m-2 1h0m3 4h0m0 4h0m-3 4h0m3 0h0m1 1h0m-3 1h0m0 0h0m0 1h0m-2 6h0m0 1h0m5 3h0m-4 1h0m4 5h0m-5 1h0m4 0h0m0 0h0m1 1h0m-5 1h0m1 0h0m0 3h0m3 0h0m0 0h0m-1 5h0m-2 2h0m0 0h0m0 2h0m4 1h0m0 10h0m-1 1h0m0 0h0m-4 1h0m2 0h0m3 1h0m-4 4h0m3 1h0m1 0h0m-2 2h0m-3 5h0m1 0h0m4 1h0m-3 2h0m1 2h0m0 4h0m-3 3h0m3 0h0m2 2h0m-3 2h0m-2 1h0m2 1h0m0 1h0m2 2h0m1 0h0m-5 1h0m1 0h0m3 0h0m1 2h0m-1 1h0m-4 4h0m0 6h0m3 5h0m-2 3h0m0 0h0m4 1h0m-1 4h0m-1 2h0m2 0h0m0 1h0m0 3h0m-2 3h0m-3 1h0m2 0h0m-2 2h0m3 4h0m1 3h0m-3 4h0m0 5h0m-1 1h0m1 1h0m0 0h0m3 0h0m-3 2h0m0 0h0m-1 7h0m3 2h0m2 3h0m-5 1h0m2 0h0m3 0h0m-2 4h0m0 1h0m-2 1h0m4 0h0m-2 1h0m-3 4h0m0 2h0m4 0h0m-2 5h0m2 1h0m-2 1h0m1 8h0m-1 3h0m2 1h0m0 3h0m1 13h0m-4 6h0m3 3h0m-1 1h0m-2 5h0m3 7h0m-4 12h0m2 1h0m2 10h0m1 18h0m0 0h0m-3 13h0m3 3h0m0 68h0m-4 16h0m6-467h0m0 7h0m0 2h0m1 6h0m2 0h0m-4 5h0m0 2h0m1 2h0m3 1h0m-3 9h0m-1 1h0m0 0h0m0 3h0m2 1h0m2 6h0m-2 3h0m2 9h0m-4 3h0m1 9h0m-1 5h0m3 5h0m-2 2h0m4 0h0m-5 1h0m5 6h0m-4 3h0m2 0h0m-2 2h0m3 3h0m0 0h0m1 0h0m-3 1h0m1 1h0m2 5h0m-4 1h0m3 0h0m0 0h0m-1 1h0m1 1h0m-2 2h0m2 0h0m-4 2h0m0 1h0m5 2h0m-5 2h0m1 0h0m0 1h0m0 2h0m2 0h0m-1 2h0m2 3h0m0 1h0m-4 1h0m1 0h0m-1 3h0m5 0h0m-3 2h0m3 5h0m0 3h0m-4 1h0m1 0h0m2 0h0m-2 1h0m0 4h0m-1 4h0m0 2h0m1 7h0m1 1h0m-3 4h0m1 4h0m4 2h0m-3 6h0m-1 5h0m1 0h0m1 0h0m-3 1h0m2 0h0m2 2h0m-2 3h0m-2 1h0m3 3h0m0 1h0m2 8h0m-4 1h0m3 2h0m-4 1h0m3 0h0m1 3h0m-4 5h0m1 6h0m0 0h0m2 2h0m1 0h0m-2 2h0m1 0h0m-3 1h0m2 0h0m2 3h0m1 0h0m-5 1h0m0 1h0m2 0h0m2 0h0m-3 6h0m-1 1h0m5 4h0m-3 2h0m-1 3h0m4 1h0m-4 1h0m3 1h0m1 4h0m-4 1h0m0 2h0m3 1h0m0 2h0m1 1h0m-4 4h0m0 2h0m3 1h0m1 4h0m0 1h0m-5 1h0m0 2h0m3 0h0m-1 3h0m2 0h0m-3 7h0m4 2h0m-5 7h0m2 0h0m0 17h0m-1 1h0m0 3h0m3 7h0m1 1h0m0 4h0m-2 5h0m2 34h0m-2 63h0m1 5h0m4-427h0m1 5h0m-1 10h0m-2 1h0m4 1h0m-2 23h0m-1 3h0m3 1h0m1 0h0m-3 1h0m2 2h0m-2 9h0m0 1h0m2 6h0m-1 3h0m2 6h0m-4 2h0m1 4h0m3 0h0m-2 3h0m1 2h0m-3 2h0m3 2h0m-1 2h0m0 7h0m2 0h0m-2 1h0m-3 1h0m5 2h0m-3 1h0m3 1h0m-3 1h0m1 1h0m-2 1h0m-1 1h0m3 0h0m1 0h0m1 2h0m-3 1h0m-2 3h0m0 0h0m1 4h0m3 2h0m-4 4h0m0 3h0m4 5h0m-4 1h0m4 8h0m0 0h0m-1 1h0m-1 7h0m3 0h0m-5 2h0m1 4h0m2 3h0m2 1h0m-2 1h0m1 1h0m1 1h0m0 1h0m-3 1h0m2 0h0m-2 5h0m2 2h0m0 2h0m1 2h0m-3 1h0m1 0h0m-1 3h0m1 0h0m-2 1h0m4 3h0m-2 1h0m1 2h0m-2 4h0m-1 1h0m3 3h0m1 0h0m-4 1h0m2 1h0m2 3h0m-2 2h0m1 0h0m0 0h0m0 1h0m-1 4h0m-3 4h0m5 1h0m-5 2h0m1 3h0m-1 3h0m2 4h0m3 0h0m0 1h0m-4 1h0m1 1h0m3 0h0m-2 5h0m0 5h0m-2 1h0m4 3h0m-1 1h0m0 1h0m-2 1h0m1 5h0m-1 1h0m1 2h0m-3 7h0m0 0h0m3 7h0m-1 3h0m1 0h0m-2 9h0m1 1h0m-1 7h0m3 0h0m-4 2h0m4 0h0m0 3h0m0 9h0m0 1h0m1 1h0m-2 1h0m-3 2h0m5 7h0m-1 2h0m-1 3h0m1 3h0m-1 22h0m-1 3h0m3 8h0m-1 25h0m-1 9h0m1 12h0m1 30h0m-2 11h0m7-432h0m1 2h0m-5 6h0m1 5h0m-1 4h0m3 5h0m2 7h0m-5 4h0m1 5h0m-1 3h0m1 4h0m1 3h0m3 6h0m0 9h0m-4 1h0m0 1h0m1 0h0m2 0h0m-2 3h0m-1 4h0m-1 2h0m3 2h0m-2 4h0m3 2h0m-4 4h0m5 6h0m-2 3h0m-3 1h0m3 2h0m1 0h0m-3 3h0m0 0h0m1 2h0m0 1h0m2 0h0m-1 1h0m-1 2h0m3 3h0m-4 1h0m0 1h0m1 4h0m-2 2h0m2 2h0m2 0h0m0 0h0m-2 2h0m1 0h0m-3 5h0m1 0h0m4 6h0m0 1h0m-3 1h0m1 0h0m-2 4h0m4 2h0m-4 1h0m1 8h0m2 0h0m1 0h0m-2 3h0m2 2h0m-2 3h0m-3 1h0m3 2h0m1 6h0m1 2h0m0 3h0m-5 1h0m5 0h0m-1 2h0m-4 1h0m4 2h0m-3 4h0m3 0h0m-2 4h0m1 0h0m-2 1h0m1 2h0m3 1h0m-5 1h0m4 0h0m1 1h0m-5 3h0m0 2h0m5 2h0m0 1h0m-5 2h0m1 0h0m0 0h0m0 0h0m2 1h0m0 5h0m0 1h0m0 1h0m-3 3h0m1 0h0m2 3h0m-1 1h0m2 2h0m-1 1h0m1 0h0m-1 1h0m-3 3h0m4 0h0m0 1h0m-4 1h0m3 2h0m1 0h0m-3 8h0m2 0h0m-3 1h0m5 0h0m-5 2h0m4 2h0m-4 1h0m2 6h0m1 2h0m2 1h0m-4 1h0m2 4h0m1 0h0m-4 2h0m3 2h0m1 0h0m-4 5h0m3 1h0m2 0h0m-1 10h0m1 3h0m-3 2h0m-2 1h0m0 0h0m1 0h0m2 5h0m-1 2h0m-2 4h0m3 4h0m2 2h0m-4 1h0m4 7h0m-2 2h0m1 4h0m-3 2h0m0 8h0m4 1h0m-2 4h0m-2 4h0m0 13h0m4 1h0m-2 5h0m-1 20h0m-2 18h0m5 13h0m5-418h0m-1 2h0m1 7h0m-1 2h0m-1 2h0m0 2h0m0 1h0m0 5h0m-1 7h0m-1 1h0m4 8h0m-4 5h0m1 7h0m0 4h0m4 0h0m0 4h0m-2 1h0m0 10h0m1 2h0m1 0h0m-5 1h0m3 0h0m-3 1h0m2 4h0m0 1h0m-2 3h0m5 1h0m-1 2h0m-1 2h0m0 4h0m-1 1h0m2 1h0m1 3h0m-2 4h0m1 0h0m-4 1h0m2 1h0m1 0h0m-2 1h0m0 3h0m1 0h0m0 2h0m1 4h0m2 0h0m-2 5h0m2 1h0m-2 1h0m0 2h0m-2 2h0m2 0h0m2 0h0m-3 4h0m2 2h0m-1 1h0m-3 8h0m2 2h0m-2 1h0m2 3h0m3 1h0m-1 2h0m-2 1h0m0 2h0m1 0h0m-3 5h0m5 0h0m-5 2h0m1 0h0m4 0h0m-4 1h0m-1 2h0m4 0h0m-1 1h0m1 0h0m-3 2h0m4 0h0m-5 1h0m5 1h0m0 4h0m-5 1h0m0 9h0m4 0h0m0 1h0m0 4h0m-2 2h0m2 3h0m-3 6h0m-1 2h0m1 0h0m0 1h0m4 3h0m-5 3h0m5 0h0m-4 1h0m4 2h0m-5 1h0m3 0h0m-3 2h0m3 1h0m2 1h0m-5 1h0m0 1h0m1 1h0m2 0h0m-1 1h0m-1 1h0m3 2h0m-2 3h0m3 0h0m-5 2h0m3 0h0m-1 2h0m1 0h0m-3 1h0m5 1h0m0 1h0m-2 3h0m-3 4h0m4 0h0m1 0h0m-4 6h0m3 0h0m-3 2h0m2 4h0m1 3h0m-4 3h0m2 0h0m0 0h0m1 2h0m1 3h0m-3 2h0m0 4h0m0 1h0m-1 1h0m4 1h0m-1 1h0m1 0h0m-1 2h0m2 0h0m-4 1h0m4 3h0m-3 5h0m3 0h0m0 1h0m-4 1h0m3 0h0m1 1h0m-3 1h0m1 2h0m2 1h0m-3 1h0m1 1h0m-2 2h0m2 0h0m1 3h0m-4 13h0m4 3h0m-2 7h0m3 2h0m-4 2h0m1 17h0m2 1h0m0 49h0m0 86h0m4-480h0m-2 5h0m3 5h0m-3 8h0m2 4h0m-1 8h0m4 9h0m-5 4h0m4 7h0m1 6h0m-3 1h0m0 0h0m-1 2h0m0 8h0m2 3h0m0 6h0m-2 8h0m1 3h0m2 1h0m-1 5h0m0 3h0m-3 10h0m3 3h0m-3 4h0m0 2h0m4 0h0m-2 1h0m2 2h0m1 3h0m0 1h0m-1 1h0m-1 1h0m0 1h0m1 0h0m-4 1h0m4 0h0m-3 2h0m3 0h0m-2 1h0m0 1h0m3 1h0m-4 1h0m3 0h0m-2 2h0m1 1h0m2 1h0m-4 1h0m1 0h0m-2 1h0m1 1h0m0 1h0m3 1h0m-3 1h0m1 0h0m0 1h0m0 5h0m-1 6h0m1 0h0m-1 4h0m3 1h0m-1 2h0m0 1h0m2 0h0m-3 1h0m-1 3h0m1 0h0m1 4h0m-2 2h0m3 6h0m-3 3h0m-1 1h0m4 2h0m0 3h0m1 0h0m-3 1h0m2 0h0m0 7h0m-3 1h0m0 4h0m3 4h0m0 2h0m-4 1h0m3 2h0m1 0h0m-2 3h0m1 4h0m1 0h0m1 1h0m-5 2h0m3 0h0m1 1h0m-3 3h0m1 0h0m3 1h0m-2 1h0m-2 1h0m0 0h0m2 0h0m0 0h0m-3 1h0m5 1h0m-5 1h0m5 2h0m0 7h0m-2 1h0m1 4h0m-3 2h0m2 2h0m-2 5h0m-1 2h0m5 2h0m-1 1h0m-1 2h0m-2 3h0m3 0h0m0 1h0m1 1h0m-3 1h0m-2 3h0m5 4h0m-1 1h0m1 4h0m-5 1h0m4 0h0m1 2h0m-5 1h0m0 4h0m2 0h0m-1 9h0m4 4h0m-3 3h0m1 0h0m2 1h0m-4 2h0m4 4h0m-5 1h0m4 0h0m-4 1h0m2 1h0m1 2h0m-2 1h0m0 0h0m2 3h0m2 2h0m-3 4h0m1 8h0m-1 4h0m3 3h0m-5 7h0m5 1h0m-3 39h0m0 10h0m-2 38h0m9-427h0m2 11h0m-5 4h0m2 0h0m0 3h0m3 4h0m-4 1h0m0 3h0m1 2h0m-1 10h0m1 15h0m1 23h0m-1 1h0m-2 5h0m4 0h0m0 5h0m-4 3h0m1 2h0m3 3h0m-4 3h0m3 2h0m-2 2h0m-1 5h0m3 1h0m-3 4h0m5 0h0m-4 3h0m1 2h0m-1 6h0m0 1h0m-1 3h0m3 4h0m-2 1h0m1 2h0m1 0h0m2 0h0m-1 9h0m-3 2h0m1 5h0m-1 3h0m2 0h0m-3 1h0m4 1h0m-3 2h0m4 0h0m-2 1h0m0 2h0m-3 7h0m2 1h0m3 0h0m-3 1h0m1 0h0m0 1h0m-2 3h0m1 0h0m-1 1h0m2 3h0m0 0h0m0 2h0m-2 3h0m3 0h0m-3 2h0m2 0h0m-3 2h0m5 2h0m-2 1h0m0 5h0m0 2h0m-3 1h0m1 0h0m0 3h0m3 5h0m1 0h0m-5 1h0m0 9h0m0 1h0m0 2h0m3 7h0m-2 1h0m3 0h0m0 8h0m1 0h0m-3 1h0m2 0h0m0 0h0m-4 2h0m2 2h0m2 1h0m1 5h0m0 1h0m-1 1h0m1 0h0m-1 2h0m0 2h0m-1 3h0m2 3h0m-2 1h0m0 1h0m2 1h0m-2 1h0m-2 2h0m3 0h0m0 2h0m-3 4h0m1 0h0m-2 1h0m2 0h0m-2 1h0m5 3h0m-5 1h0m0 1h0m3 0h0m-1 3h0m-1 3h0m3 2h0m1 6h0m0 5h0m-3 1h0m-2 7h0m2 1h0m-1 5h0m0 7h0m3 4h0m1 0h0m-1 3h0m-1 4h0m-2 2h0m4 1h0m0 9h0m-4 3h0m3 21h0m-3 9h0m0 9h0m4 34h0m-5 96h0m4 44h0m4-550h0m-1 2h0m2 6h0m1 2h0m-2 31h0m1 6h0m2 5h0m-4 7h0m3 0h0m-4 13h0m0 0h0m5 0h0m-4 1h0m3 2h0m1 1h0m-3 1h0m3 2h0m-3 9h0m-2 2h0m1 7h0m-1 2h0m4 1h0m1 0h0m-4 3h0m3 0h0m-1 2h0m-2 4h0m0 3h0m1 2h0m-2 3h0m0 1h0m0 2h0m3 2h0m2 2h0m0 0h0m-4 1h0m4 2h0m-4 5h0m1 6h0m2 0h0m1 2h0m-4 2h0m3 1h0m1 3h0m-2 2h0m2 2h0m-3 1h0m-2 3h0m5 2h0m-4 1h0m1 0h0m-1 1h0m3 0h0m-2 1h0m0 0h0m0 0h0m-1 1h0m1 3h0m0 2h0m1 0h0m2 4h0m-4 5h0m-1 1h0m2 0h0m3 2h0m-1 2h0m0 0h0m-3 3h0m1 4h0m1 0h0m1 0h0m0 1h0m-2 1h0m1 1h0m2 0h0m0 0h0m-3 1h0m2 1h0m1 3h0m-1 3h0m1 0h0m-4 8h0m0 1h0m1 1h0m1 1h0m-1 1h0m1 0h0m-2 1h0m1 1h0m1 4h0m2 0h0m-4 3h0m-1 3h0m1 2h0m2 2h0m1 1h0m1 0h0m-1 3h0m-1 1h0m2 0h0m-5 1h0m1 1h0m3 2h0m-1 2h0m1 0h0m-1 1h0m-3 3h0m1 1h0m0 6h0m1 2h0m-2 2h0m4 0h0m-2 1h0m2 1h0m0 1h0m-2 1h0m0 3h0m-2 1h0m3 0h0m-1 1h0m0 8h0m-2 3h0m5 1h0m-1 14h0m-4 1h0m4 0h0m-2 8h0m-2 1h0m2 4h0m-2 10h0m4 6h0m0 4h0m0 2h0m0 0h0m-2 4h0m2 1h0m1 0h0m-4 14h0m4 7h0m-4 6h0m-1 6h0m5 69h0m-3 32h0m-2 56h0m0 44h0m10-550h0m-4 1h0m0 8h0m5 3h0m-1 10h0m-1 4h0m-1 7h0m-2 7h0m4 6h0m-4 4h0m4 6h0m-4 3h0m1 1h0m1 3h0m-2 7h0m3 8h0m2 2h0m-1 6h0m0 6h0m-1 1h0m0 1h0m-1 9h0m3 4h0m-4 1h0m2 5h0m-2 2h0m-1 3h0m3 0h0m-3 1h0m0 2h0m3 3h0m2 3h0m-3 1h0m2 0h0m-2 1h0m-2 7h0m3 2h0m0 2h0m2 6h0m-3 2h0m2 8h0m-2 4h0m1 7h0m1 0h0m-4 1h0m2 1h0m2 4h0m-1 3h0m-1 3h0m-2 3h0m1 1h0m3 1h0m-1 5h0m-3 1h0m1 4h0m0 1h0m2 1h0m0 2h0m-2 1h0m1 0h0m0 1h0m0 0h0m1 0h0m2 1h0m-2 3h0m1 1h0m-4 2h0m0 2h0m0 4h0m1 6h0m1 2h0m1 1h0m2 0h0m-5 2h0m4 0h0m1 0h0m-1 4h0m-4 8h0m5 0h0m-4 10h0m2 0h0m2 0h0m-2 1h0m0 1h0m-3 2h0m0 6h0m3 9h0m-2 3h0m0 4h0m0 2h0m4 1h0m-4 5h0m1 6h0m-1 2h0m3 3h0m-1 6h0m-3 7h0m0 9h0m5 2h0m-4 5h0m3 8h0m-1 7h0m-3 15h0m4 13h0m-2 8h0m3 9h0m-3 31h0m2 111h0m2-542h0m1 10h0m-1 14h0m2 4h0m1 7h0m-2 17h0m2 3h0m1 7h0m-1 10h0m1 12h0m0 3h0m1 10h0m-3 6h0m-2 6h0m1 3h0m2 4h0m-2 2h0m2 0h0m-2 3h0m3 0h0m1 0h0m0 0h0m0 3h0m-4 3h0m2 5h0m-2 4h0m0 1h0m3 1h0m1 2h0m-5 1h0m0 4h0m0 0h0m4 7h0m-2 2h0m-2 1h0m1 6h0m3 4h0m-3 3h0m0 1h0m2 5h0m0 2h0m0 0h0m-2 1h0m3 1h0m1 0h0m-5 4h0m1 1h0m4 0h0m0 0h0m-5 3h0m4 0h0m-3 5h0m2 0h0m-2 6h0m4 0h0m-5 3h0m3 0h0m2 0h0m0 1h0m-1 1h0m-1 1h0m1 4h0m-2 1h0m1 0h0m1 1h0m1 1h0m-3 2h0m1 0h0m-3 1h0m3 2h0m1 3h0m-3 1h0m4 2h0m-2 2h0m0 0h0m-3 1h0m5 3h0m-5 1h0m0 4h0m1 2h0m3 0h0m-4 2h0m5 0h0m-3 3h0m3 0h0m-4 1h0m3 1h0m-3 1h0m3 3h0m1 2h0m-4 7h0m3 8h0m1 1h0m-3 5h0m0 2h0m1 0h0m1 9h0m-3 2h0m2 3h0m1 8h0m-4 7h0m0 7h0m2 4h0m2 0h0m1 5h0m-1 1h0m-3 8h0m1 0h0m3 3h0m-2 6h0m-1 2h0m-1 15h0m1 6h0m2 46h0m-3 74h0m7-512h0m2 38h0m0 3h0m1 7h0m0 4h0m-4 1h0m1 13h0m3 5h0m-2 1h0m1 0h0m-1 3h0m1 0h0m-3 7h0m0 1h0m3 3h0m-2 3h0m1 3h0m2 5h0m-4 3h0m4 7h0m-1 1h0m-3 3h0m-1 2h0m4 0h0m-3 14h0m2 8h0m-1 1h0m1 0h0m1 3h0m1 0h0m-3 5h0m-2 5h0m1 1h0m1 0h0m3 0h0m0 3h0m0 0h0m0 2h0m0 1h0m-3 1h0m2 8h0m-3 2h0m4 1h0m-3 2h0m-1 2h0m-1 1h0m0 0h0m4 3h0m-1 2h0m-3 3h0m0 1h0m2 2h0m2 0h0m-3 5h0m4 3h0m-2 1h0m-2 2h0m3 2h0m-4 4h0m0 3h0m1 2h0m2 1h0m1 1h0m-3 3h0m0 0h0m4 0h0m-5 1h0m4 0h0m-4 2h0m0 2h0m1 0h0m1 2h0m1 0h0m1 2h0m-2 1h0m3 2h0m-5 2h0m1 0h0m3 2h0m-1 1h0m-3 2h0m3 2h0m-2 1h0m1 2h0m3 2h0m-4 10h0m2 1h0m-3 1h0m3 1h0m-2 2h0m1 2h0m-1 7h0m1 2h0m1 2h0m1 1h0m1 0h0m-5 1h0m0 1h0m0 0h0m2 2h0m3 5h0m-4 2h0m2 2h0m-1 7h0m-1 1h0m-1 1h0m3 1h0m0 5h0m0 1h0m-3 1h0m4 0h0m-4 2h0m5 0h0m-1 3h0m-1 2h0m2 5h0m-4 1h0m4 1h0m-2 1h0m0 2h0m-2 3h0m4 1h0m-2 1h0m0 3h0m0 1h0m-1 2h0m2 9h0m-2 12h0m2 4h0m-4 20h0m2 3h0m0 2h0m-2 5h0m3 12h0m-2 19h0m4 34h0m-3 49h0m6-460h0m1 3h0m-1 1h0m2 20h0m-3 1h0m0 0h0m1 11h0m2 10h0m-2 1h0m-2 3h0m2 1h0m3 0h0m-3 3h0m-1 1h0m4 0h0m-3 3h0m2 5h0m1 1h0m-3 2h0m-2 4h0m3 8h0m2 7h0m-4 6h0m1 7h0m0 1h0m-2 2h0m4 1h0m0 1h0m-1 3h0m1 0h0m1 2h0m-3 1h0m0 4h0m1 0h0m1 3h0m-3 3h0m1 0h0m3 0h0m-4 9h0m4 0h0m-4 2h0m3 1h0m-1 1h0m-2 2h0m2 2h0m-1 1h0m1 2h0m1 3h0m-4 1h0m1 0h0m0 1h0m1 2h0m-1 3h0m-1 1h0m3 1h0m-2 1h0m2 4h0m-1 1h0m0 2h0m-1 1h0m1 1h0m-1 1h0m2 0h0m0 2h0m-3 2h0m3 1h0m2 0h0m-1 1h0m-4 1h0m1 0h0m2 1h0m-3 1h0m1 0h0m3 2h0m-4 1h0m2 0h0m2 0h0m-4 1h0m3 2h0m-3 3h0m2 0h0m-1 7h0m2 0h0m2 4h0m-2 1h0m2 0h0m-4 2h0m3 0h0m0 1h0m0 3h0m-1 5h0m0 0h0m1 0h0m-4 1h0m3 3h0m-2 1h0m3 0h0m0 7h0m-2 4h0m3 0h0m-4 2h0m1 7h0m0 2h0m2 1h0m-2 4h0m2 3h0m-2 4h0m-1 2h0m-1 4h0m2 0h0m2 1h0m-2 1h0m0 0h0m1 2h0m0 4h0m1 1h0m-2 3h0m2 6h0m-3 6h0m-1 1h0m3 5h0m-2 3h0m1 3h0m3 0h0m-4 3h0m4 0h0m-5 2h0m5 1h0m-2 6h0m2 0h0m-5 1h0m2 0h0m3 1h0m-3 1h0m1 6h0m-3 3h0m3 0h0m1 19h0m-2 3h0m1 3h0m-1 2h0m-1 2h0m1 3h0m3 1h0m-5 6h0m3 7h0m1 2h0m-4 50h0m4 15h0m-3 25h0m0 24h0m5-468h0m4 2h0m0 2h0m-1 8h0m-3 1h0m0 5h0m0 5h0m2 0h0m-2 6h0m1 10h0m2 1h0m-3 3h0m4 0h0m-4 8h0m5 0h0m-5 1h0m0 3h0m5 2h0m-3 5h0m1 0h0m2 2h0m-4 6h0m-1 10h0m4 4h0m-3 4h0m2 0h0m2 0h0m-3 1h0m3 5h0m-2 13h0m0 6h0m-3 2h0m5 5h0m-5 1h0m2 1h0m0 1h0m2 1h0m-2 2h0m2 0h0m-1 2h0m2 3h0m-1 1h0m0 1h0m-3 2h0m-1 1h0m3 1h0m2 1h0m-5 2h0m4 1h0m-4 1h0m1 1h0m1 9h0m0 3h0m2 4h0m-4 1h0m4 0h0m1 2h0m-3 1h0m2 2h0m-4 1h0m3 0h0m-1 1h0m0 2h0m2 0h0m-1 1h0m0 1h0m1 2h0m-3 5h0m2 1h0m0 1h0m-3 2h0m1 0h0m1 0h0m1 1h0m-3 2h0m1 1h0m0 1h0m3 0h0m-4 2h0m5 5h0m-4 4h0m4 3h0m-5 8h0m3 0h0m1 0h0m1 2h0m-4 1h0m3 1h0m-4 4h0m3 0h0m2 0h0m-4 1h0m0 5h0m1 0h0m2 0h0m-3 1h0m4 3h0m-2 1h0m0 0h0m0 5h0m1 0h0m0 0h0m-4 1h0m2 2h0m1 1h0m-2 1h0m3 3h0m-2 6h0m2 2h0m-1 2h0m1 0h0m1 0h0m-2 2h0m-1 1h0m2 1h0m-3 3h0m-1 2h0m4 0h0m-1 10h0m2 0h0m-5 1h0m3 3h0m-1 1h0m-1 4h0m1 0h0m-1 1h0m2 0h0m-1 4h0m-2 1h0m1 2h0m3 6h0m-4 3h0m2 0h0m2 4h0m-3 3h0m0 0h0m-1 1h0m3 0h0m0 3h0m2 0h0m-3 3h0m1 0h0m-3 7h0m0 2h0m0 2h0m2 0h0m1 0h0m0 0h0m-3 3h0m0 14h0m2 1h0m2 3h0m-1 24h0m0 224h0m7-621h0m0 13h0m1 17h0m-4 13h0m1 11h0m-1 7h0m0 7h0m4 14h0m-3 8h0m-1 16h0m2 1h0m2 3h0m-3 8h0m0 0h0m2 1h0m0 0h0m-2 4h0m-2 3h0m4 2h0m-2 1h0m3 7h0m-1 2h0m0 4h0m-3 3h0m2 0h0m-2 2h0m2 2h0m-2 2h0m0 3h0m1 0h0m2 3h0m-4 3h0m2 1h0m2 2h0m1 1h0m-2 3h0m1 0h0m1 0h0m-3 2h0m-2 4h0m1 7h0m1 2h0m3 1h0m-3 1h0m0 0h0m3 0h0m0 1h0m-1 8h0m0 1h0m-3 1h0m0 0h0m-1 2h0m1 0h0m4 1h0m-2 2h0m-1 3h0m-1 1h0m0 2h0m3 5h0m0 1h0m-2 2h0m2 0h0m-2 4h0m3 2h0m-5 4h0m0 1h0m5 0h0m-1 1h0m-3 1h0m3 0h0m0 0h0m-3 4h0m4 2h0m-1 2h0m-2 4h0m0 0h0m0 4h0m0 2h0m3 0h0m-4 4h0m3 1h0m1 0h0m-3 4h0m-1 8h0m-1 1h0m0 1h0m2 2h0m3 0h0m-3 1h0m1 1h0m-1 1h0m0 2h0m-2 1h0m1 4h0m1 2h0m-2 3h0m5 1h0m-2 6h0m-1 2h0m-2 4h0m5 0h0m-1 6h0m1 1h0m-5 4h0m0 0h0m4 1h0m0 3h0m1 0h0m-2 1h0m1 3h0m-2 4h0m0 14h0m-1 4h0m-1 8h0m1 0h0m3 10h0m-2 1h0m0 6h0m0 1h0m0 40h0m3 68h0m-5 132h0m8-582h0m3 0h0m-2 15h0m-1 3h0m1 5h0m-3 2h0m0 14h0m0 11h0m3 5h0m-3 1h0m1 14h0m2 1h0m2 4h0m-3 1h0m-2 1h0m1 0h0m1 1h0m2 3h0m-1 10h0m-1 2h0m0 2h0m2 2h0m-3 7h0m4 0h0m-4 13h0m1 0h0m0 1h0m0 1h0m-2 2h0m0 1h0m2 3h0m-1 1h0m4 0h0m-4 3h0m2 0h0m-1 7h0m-1 5h0m3 0h0m-1 4h0m-3 7h0m4 1h0m0 2h0m1 1h0m0 0h0m0 1h0m-5 2h0m0 7h0m4 0h0m-2 1h0m0 1h0m2 2h0m-4 2h0m4 0h0m-2 1h0m2 0h0m-4 1h0m5 3h0m-1 1h0m-1 1h0m1 3h0m-4 3h0m2 0h0m1 1h0m2 2h0m0 3h0m-4 7h0m-1 7h0m0 0h0m1 0h0m2 0h0m-3 3h0m4 1h0m-1 9h0m-3 1h0m5 0h0m-5 1h0m5 0h0m-3 5h0m3 0h0m-3 2h0m-1 4h0m3 0h0m-4 3h0m2 2h0m-2 1h0m5 1h0m-2 3h0m0 0h0m-3 1h0m0 0h0m5 1h0m-1 3h0m-3 6h0m0 1h0m4 2h0m-4 3h0m0 4h0m4 5h0m-3 3h0m0 4h0m1 4h0m-2 1h0m4 0h0m-3 4h0m-2 7h0m5 2h0m-4 1h0m0 1h0m0 3h0m2 3h0m1 0h0m-2 3h0m2 0h0m-2 1h0m2 10h0m-2 3h0m1 3h0m1 2h0m-4 2h0m4 15h0m-3 3h0m-1 15h0m1 1h0m-1 24h0m0 11h0m5 1h0m-5 3h0m1 13h0m2 1h0m-3 11h0m3 15h0m-2 33h0m-1 18h0m5 65h0m-4 166h0m6-717h0m2 6h0m-2 6h0m2 2h0m0 2h0m0 5h0m-2 4h0m0 5h0m2 1h0m-3 10h0m1 2h0m3 2h0m1 6h0m-3 5h0m0 10h0m-2 6h0m2 0h0m2 5h0m-4 1h0m2 2h0m-2 1h0m5 1h0m-3 3h0m3 0h0m0 3h0m-1 1h0m-3 9h0m2 2h0m2 7h0m-1 3h0m0 0h0m-4 2h0m1 2h0m-1 1h0m3 1h0m-1 8h0m1 7h0m1 1h0m-2 4h0m2 1h0m-1 4h0m-1 1h0m0 4h0m2 7h0m1 6h0m-4 8h0m4 1h0m-1 1h0m-3 1h0m0 3h0m0 2h0m4 3h0m-3 2h0m-2 1h0m1 1h0m4 1h0m-1 1h0m-2 2h0m-1 1h0m1 0h0m-1 6h0m2 0h0m-1 2h0m1 3h0m0 4h0m2 2h0m-5 1h0m2 3h0m-2 1h0m4 1h0m1 0h0m-5 1h0m4 2h0m-1 1h0m-2 1h0m-1 1h0m4 0h0m-3 1h0m1 0h0m0 3h0m2 2h0m-4 6h0m1 0h0m4 0h0m-1 2h0m-3 1h0m2 1h0m2 0h0m-2 13h0m-3 5h0m4 3h0m0 10h0m-2 3h0m-2 1h0m1 4h0m2 0h0m-1 3h0m1 0h0m-2 5h0m1 1h0m0 7h0m0 1h0m-2 2h0m5 0h0m-5 3h0m0 1h0m5 11h0m0 2h0m-2 7h0m0 1h0m2 3h0m-3 1h0m2 9h0m-1 6h0m2 3h0m-5 2h0m1 2h0m2 8h0m1 0h0m-3 10h0m2 1h0m2 3h0m-5 2h0m4 0h0m-4 3h0m4 1h0m-4 36h0m4 0h0m1 34h0m-1 22h0m3-468h0m1 8h0m0 4h0m1 5h0m1 11h0m-4 3h0m3 3h0m-3 9h0m4 1h0m-3 4h0m-1 2h0m0 5h0m3 2h0m-3 4h0m1 7h0m3 3h0m-4 10h0m2 1h0m-1 6h0m3 4h0m-3 2h0m1 6h0m3 8h0m-2 1h0m0 1h0m-1 5h0m-2 1h0m3 1h0m-2 4h0m1 4h0m1 2h0m-2 1h0m1 0h0m-2 1h0m1 3h0m1 0h0m-2 1h0m0 4h0m1 0h0m-1 1h0m0 4h0m3 1h0m2 3h0m-4 2h0m3 0h0m0 1h0m1 1h0m-5 2h0m2 0h0m-1 7h0m-1 2h0m5 0h0m-4 1h0m-1 3h0m5 6h0m-3 1h0m-1 1h0m-1 6h0m0 1h0m1 1h0m0 0h0m0 5h0m2 0h0m-1 5h0m2 1h0m-4 1h0m3 0h0m1 0h0m-1 9h0m2 0h0m-2 1h0m0 1h0m-1 4h0m1 1h0m0 1h0m-2 4h0m-1 1h0m5 3h0m-1 1h0m1 9h0m-2 2h0m1 0h0m-2 1h0m2 0h0m1 0h0m-3 1h0m2 1h0m0 0h0m-4 7h0m5 0h0m-3 5h0m2 6h0m1 1h0m-5 3h0m3 0h0m-2 1h0m1 0h0m1 0h0m0 1h0m1 0h0m-4 3h0m3 1h0m-2 3h0m4 3h0m-4 5h0m0 5h0m-1 1h0m1 2h0m2 1h0m-3 1h0m3 2h0m0 0h0m-1 4h0m1 0h0m1 4h0m-1 2h0m-1 1h0m1 0h0m1 5h0m-3 1h0m-1 3h0m4 5h0m0 1h0m1 6h0m-5 1h0m2 0h0m-2 4h0m4 3h0m1 5h0m-5 6h0m4 4h0m-4 1h0m3 0h0m-2 2h0m0 1h0m4 5h0m-1 15h0m-1 2h0m-2 4h0m0 21h0m1 10h0m3 26h0m0 3h0m-1 7h0m0 205h0m7-646h0m-5 3h0m5 4h0m-1 7h0m1 1h0m-4 1h0m3 3h0m-2 2h0m0 1h0m2 1h0m-3 3h0m4 0h0m-3 7h0m2 0h0m-2 9h0m3 11h0m-1 5h0m-1 12h0m-1 10h0m0 1h0m2 2h0m-1 2h0m1 0h0m-2 1h0m0 1h0m0 0h0m0 1h0m3 2h0m-4 3h0m4 1h0m-4 2h0m2 1h0m-3 4h0m0 4h0m0 1h0m4 0h0m-3 7h0m0 2h0m2 1h0m0 1h0m1 0h0m-2 11h0m-2 2h0m0 3h0m5 3h0m-2 3h0m-1 1h0m-1 4h0m3 1h0m-4 2h0m2 1h0m0 1h0m1 4h0m1 1h0m0 4h0m-1 5h0m-1 1h0m2 6h0m-3 1h0m-1 1h0m1 0h0m0 5h0m3 0h0m-3 2h0m-1 1h0m4 0h0m1 0h0m-4 1h0m4 0h0m-2 6h0m-1 2h0m3 3h0m-1 1h0m-3 8h0m0 1h0m2 3h0m-2 3h0m1 3h0m3 0h0m-2 2h0m-3 2h0m2 1h0m0 0h0m-2 2h0m1 1h0m3 0h0m-1 1h0m0 0h0m0 0h0m-1 1h0m2 3h0m0 3h0m1 3h0m-1 1h0m-1 10h0m2 0h0m-3 3h0m1 0h0m-1 4h0m2 1h0m-4 3h0m3 0h0m1 1h0m1 2h0m-5 7h0m0 0h0m4 1h0m-4 1h0m0 1h0m2 0h0m3 1h0m-1 4h0m-4 3h0m2 1h0m-1 1h0m0 2h0m0 1h0m0 2h0m-1 5h0m2 4h0m2 0h0m-3 2h0m0 15h0m2 0h0m0 1h0m0 1h0m-3 6h0m2 1h0m-1 8h0m-1 14h0m5 2h0m0 2h0m0 1h0m-5 2h0m4 3h0m-1 14h0m-2 5h0m1 1h0m2 1h0m-2 2h0m3 56h0m0 29h0m-4 77h0m5-524h0m0 10h0m1 19h0m4 6h0m-1 14h0m0 10h0m-1 5h0m-2 3h0m0 1h0m-1 2h0m1 0h0m2 4h0m-1 8h0m1 5h0m-1 2h0m-2 8h0m4 0h0m-2 4h0m2 1h0m1 2h0m0 1h0m-5 5h0m4 3h0m-2 1h0m0 2h0m2 0h0m-4 1h0m5 0h0m-4 8h0m1 0h0m0 2h0m0 2h0m2 5h0m-4 1h0m1 1h0m1 1h0m-2 2h0m2 0h0m-1 1h0m-1 1h0m3 5h0m-1 3h0m-1 1h0m1 1h0m1 1h0m-3 2h0m5 3h0m0 0h0m-4 3h0m1 2h0m1 0h0m2 1h0m-2 1h0m0 3h0m0 2h0m-3 3h0m5 0h0m-5 1h0m5 4h0m-2 6h0m1 4h0m-2 3h0m1 1h0m-1 2h0m0 1h0m-1 2h0m1 0h0m-1 2h0m3 1h0m1 2h0m-4 1h0m2 3h0m-3 3h0m1 2h0m3 0h0m-1 2h0m-1 1h0m-2 1h0m5 0h0m-3 1h0m3 0h0m-5 3h0m2 1h0m1 1h0m-3 1h0m5 0h0m-4 1h0m3 3h0m-3 1h0m3 1h0m-3 4h0m4 5h0m0 1h0m0 1h0m-2 3h0m1 5h0m-4 3h0m4 1h0m1 0h0m-4 4h0m2 3h0m-2 1h0m4 0h0m-3 1h0m-1 3h0m4 6h0m-4 20h0m4 3h0m-5 3h0m5 3h0m-3 10h0m0 9h0m1 2h0m-1 7h0m1 6h0m0 23h0m-3 5h0m5 14h0m-4 3h0m5-376h0m2 10h0m1 0h0m2 1h0m-3 1h0m-1 11h0m-1 22h0m2 6h0m0 5h0m2 2h0m-3 11h0m0 3h0m2 4h0m2 2h0m0 2h0m0 1h0m-3 7h0m0 10h0m3 6h0m-1 3h0m1 1h0m-3 10h0m2 4h0m-4 4h0m2 2h0m-1 1h0m3 4h0m-1 2h0m2 1h0m-1 2h0m-2 2h0m2 2h0m-1 8h0m-2 1h0m-1 2h0m3 0h0m2 2h0m-5 5h0m5 1h0m-5 2h0m0 1h0m4 0h0m1 0h0m-2 1h0m0 0h0m2 4h0m-1 1h0m-3 2h0m-1 1h0m4 7h0m-3 1h0m3 1h0m-1 1h0m0 3h0m2 2h0m-4 5h0m4 1h0m-5 1h0m0 0h0m5 3h0m-4 5h0m0 3h0m-1 1h0m2 3h0m1 2h0m-2 4h0m4 0h0m-3 1h0m2 6h0m0 2h0m-4 2h0m5 2h0m-2 2h0m0 1h0m0 0h0m-3 1h0m0 1h0m2 0h0m1 1h0m2 0h0m-3 5h0m2 2h0m1 4h0m0 1h0m0 0h0m-1 1h0m-2 1h0m-2 3h0m1 1h0m2 0h0m-3 3h0m3 2h0m-1 1h0m0 1h0m0 4h0m3 0h0m-1 2h0m0 4h0m-4 7h0m0 1h0m2 0h0m1 0h0m1 0h0m1 1h0m-3 1h0m0 4h0m-2 3h0m5 0h0m-2 4h0m0 1h0m0 5h0m-2 1h0m1 1h0m2 0h0m-3 1h0m0 1h0m2 5h0m2 9h0m-2 1h0m1 11h0m-4 6h0m1 0h0m3 7h0m0 8h0m-4 10h0m4 14h0m-3 78h0m0 121h0m10-583h0m0 6h0m-3 3h0m-2 1h0m3 4h0m-3 1h0m0 7h0m0 10h0m5 2h0m-1 3h0m0 0h0m1 4h0m-1 3h0m-1 7h0m-2 7h0m-1 3h0m2 10h0m1 6h0m-3 10h0m0 4h0m2 0h0m0 0h0m-2 1h0m5 4h0m-2 3h0m-1 5h0m1 1h0m2 12h0m-3 1h0m1 0h0m-3 3h0m1 4h0m1 1h0m0 3h0m2 0h0m-4 1h0m3 3h0m-3 12h0m0 13h0m3 5h0m2 7h0m-3 1h0m1 1h0m2 3h0m-3 3h0m0 1h0m-2 3h0m1 6h0m2 6h0m0 1h0m-2 1h0m3 1h0m-2 1h0m3 6h0m-5 2h0m1 4h0m0 0h0m0 6h0m2 2h0m0 1h0m2 0h0m0 0h0m-1 1h0m1 1h0m-5 3h0m1 1h0m-1 8h0m5 0h0m-5 1h0m5 0h0m-5 1h0m1 5h0m0 0h0m4 0h0m-1 2h0m-3 10h0m2 0h0m-2 1h0m0 0h0m3 0h0m1 2h0m0 1h0m-4 1h0m4 0h0m-1 8h0m-1 2h0m2 4h0m-1 2h0m-3 4h0m1 2h0m2 2h0m-4 1h0m3 1h0m1 4h0m1 5h0m-5 1h0m1 2h0m-1 1h0m3 2h0m1 1h0m-4 2h0m1 4h0m4 7h0m-1 3h0m-2 2h0m0 1h0m3 3h0m-2 21h0m0 2h0m-2 6h0m-1 22h0m4 2h0m-2 10h0m-2 3h0m1 19h0m2 10h0m-2 85h0m7-503h0m0 7h0m-2 8h0m0 8h0m1 3h0m0 10h0m1 4h0m3 0h0m-1 2h0m-1 2h0m-2 2h0m1 2h0m0 7h0m3 3h0m-2 13h0m0 5h0m2 3h0m-5 1h0m1 3h0m1 3h0m-1 2h0m1 6h0m-1 18h0m2 0h0m0 1h0m-3 2h0m2 1h0m-1 7h0m2 2h0m0 0h0m0 3h0m-3 8h0m3 0h0m-2 2h0m2 15h0m1 7h0m1 5h0m-4 5h0m3 0h0m1 0h0m-5 1h0m2 4h0m2 2h0m1 1h0m-5 2h0m5 2h0m-1 2h0m0 6h0m-2 7h0m-1 2h0m1 1h0m1 0h0m-3 2h0m5 1h0m-1 4h0m-4 7h0m2 1h0m2 1h0m-1 3h0m2 1h0m-1 1h0m-1 1h0m2 4h0m0 2h0m-5 1h0m3 0h0m-3 3h0m4 0h0m-3 2h0m4 6h0m0 2h0m-2 2h0m0 2h0m-2 3h0m4 0h0m0 1h0m0 1h0m-2 2h0m-3 3h0m0 0h0m1 3h0m2 0h0m2 2h0m-5 1h0m0 3h0m0 7h0m2 1h0m-1 3h0m1 2h0m3 1h0m-4 3h0m3 8h0m-2 2h0m0 2h0m2 1h0m1 0h0m-2 5h0m2 0h0m-1 3h0m-4 1h0m0 2h0m4 0h0m1 0h0m-1 11h0m-2 1h0m-2 3h0m4 1h0m-1 3h0m-3 1h0m1 7h0m2 1h0m-3 5h0m4 5h0m-4 5h0m3 1h0m-3 2h0m3 3h0m2 46h0m-3 21h0m8-417h0m-3 13h0m4 6h0m-3 13h0m-2 2h0m1 6h0m-1 3h0m2 1h0m3 7h0m-3 3h0m1 4h0m-1 5h0m-2 1h0m4 9h0m1 1h0m-4 1h0m-1 1h0m0 9h0m4 7h0m-4 5h0m0 1h0m4 7h0m0 8h0m-1 5h0m-1 2h0m1 1h0m2 5h0m-2 1h0m0 4h0m-2 1h0m0 3h0m-1 3h0m4 3h0m-4 4h0m4 5h0m-3 3h0m1 1h0m2 3h0m-2 1h0m2 0h0m-1 1h0m-2 2h0m0 18h0m1 1h0m1 4h0m1 1h0m-3 1h0m-1 10h0m1 1h0m1 2h0m2 1h0m0 1h0m-3 1h0m2 1h0m0 1h0m2 3h0m-5 2h0m1 2h0m4 0h0m-4 2h0m2 0h0m0 0h0m2 2h0m-3 2h0m-2 1h0m1 0h0m-1 1h0m2 0h0m3 3h0m-2 2h0m-3 2h0m5 0h0m-4 1h0m3 6h0m-3 4h0m2 1h0m2 0h0m-1 5h0m1 2h0m-4 2h0m1 3h0m3 3h0m0 0h0m-5 5h0m1 3h0m2 1h0m-3 4h0m2 0h0m-2 2h0m0 3h0m1 1h0m2 3h0m1 2h0m-4 1h0m2 0h0m1 1h0m1 0h0m-2 6h0m-1 5h0m1 0h0m0 1h0m-2 2h0m3 6h0m2 2h0m-1 1h0m-2 3h0m2 0h0m-3 9h0m3 1h0m-3 1h0m2 22h0m2 6h0m-3 7h0m3 8h0m-3 4h0m0 0h0m2 6h0m-1 7h0m0 12h0m0 5h0m0 53h0m0 52h0m-3 89h0m11-584h0m-2 1h0m2 19h0m0 20h0m-2 2h0m1 3h0m-4 3h0m0 5h0m1 0h0m0 1h0m1 1h0m1 16h0m0 9h0m-1 2h0m-1 8h0m4 0h0m-5 2h0m5 1h0m0 2h0m0 7h0m-2 9h0m0 0h0m2 2h0m-1 2h0m-4 4h0m4 2h0m0 1h0m-4 7h0m2 0h0m1 0h0m-2 3h0m3 1h0m1 2h0m-5 1h0m2 1h0m-2 13h0m2 11h0m2 3h0m-2 5h0m-1 2h0m-1 1h0m3 2h0m0 2h0m2 1h0m-5 2h0m0 3h0m5 7h0m-4 3h0m2 1h0m1 0h0m-4 1h0m4 1h0m1 5h0m-2 4h0m-3 3h0m5 1h0m0 3h0m0 1h0m-5 4h0m3 2h0m-2 1h0m0 0h0m2 4h0m0 3h0m1 2h0m0 4h0m-4 1h0m3 7h0m1 2h0m1 7h0m-2 6h0m1 0h0m-3 4h0m4 2h0m-3 4h0m-2 1h0m2 0h0m-1 2h0m3 2h0m-1 1h0m-3 1h0m0 0h0m1 11h0m4 1h0m-1 1h0m-2 4h0m-1 5h0m2 2h0m0 4h0m2 2h0m0 2h0m0 4h0m-5 4h0m4 0h0m-2 4h0m1 4h0m2 5h0m-3 2h0m2 2h0m-2 4h0m1 3h0m1 4h0m0 17h0m-2 3h0m2 14h0m1 2h0m-5 1h0m1 0h0m3 70h0m-4 28h0m5 66h0m-3 61h0m9-599h0m0 6h0m-2 5h0m-1 18h0m-2 1h0m4 3h0m0 0h0m-3 2h0m2 0h0m-3 7h0m5 6h0m0 11h0m0 1h0m-5 2h0m1 5h0m0 1h0m0 5h0m4 7h0m-2 6h0m-3 1h0m4 1h0m-1 3h0m-3 7h0m5 0h0m-5 4h0m4 1h0m-1 5h0m0 1h0m-3 2h0m0 6h0m3 0h0m-1 3h0m0 5h0m2 7h0m-2 2h0m-2 5h0m5 4h0m-3 5h0m3 1h0m-5 1h0m2 4h0m-1 4h0m0 0h0m-1 1h0m1 2h0m3 2h0m-3 3h0m3 4h0m1 0h0m0 4h0m-5 2h0m3 1h0m-1 3h0m-1 3h0m2 6h0m-2 2h0m4 2h0m-3 1h0m0 2h0m0 1h0m-1 2h0m-1 2h0m3 3h0m-2 2h0m0 1h0m4 0h0m-1 3h0m-3 4h0m2 4h0m-3 1h0m2 0h0m-2 2h0m4 2h0m-4 2h0m4 2h0m-4 3h0m2 1h0m0 2h0m1 2h0m-2 1h0m1 2h0m-2 1h0m4 1h0m-1 5h0m2 1h0m-1 6h0m0 5h0m-1 2h0m-2 2h0m0 0h0m-1 1h0m2 2h0m2 1h0m1 0h0m-3 3h0m2 2h0m-1 1h0m2 0h0m-3 9h0m3 5h0m-2 1h0m2 1h0m-4 2h0m4 2h0m-5 3h0m0 2h0m5 1h0m0 3h0m-4 6h0m3 0h0m1 0h0m-5 4h0m0 3h0m5 6h0m-1 10h0m-1 5h0m2 19h0m-2 3h0m2 13h0m-4 11h0m2 15h0m1 18h0m-4 18h0m0 94h0m5 39h0m2-571h0m1 33h0m0 5h0m1 0h0m1 6h0m-4 6h0m2 2h0m2 2h0m-1 3h0m-2 2h0m0 5h0m4 6h0m0 1h0m-3 3h0m-1 4h0m1 4h0m-1 3h0m-1 1h0m0 5h0m5 2h0m-2 2h0m-1 1h0m-1 5h0m0 3h0m3 0h0m-4 2h0m4 3h0m-2 8h0m-1 1h0m0 7h0m1 0h0m-2 3h0m2 9h0m3 1h0m-3 1h0m1 6h0m-2 5h0m-1 6h0m5 0h0m-5 4h0m4 7h0m-2 4h0m0 1h0m0 0h0m-2 5h0m5 4h0m0 1h0m-1 1h0m-3 4h0m3 3h0m-4 2h0m1 1h0m1 1h0m3 2h0m-5 2h0m0 6h0m4 0h0m1 0h0m-3 1h0m0 1h0m3 0h0m-1 3h0m-4 6h0m3 0h0m2 2h0m-3 1h0m1 2h0m0 10h0m2 0h0m-2 4h0m-3 1h0m2 0h0m3 1h0m0 2h0m-3 9h0m3 2h0m-4 5h0m2 0h0m1 4h0m0 4h0m-1 3h0m-1 4h0m1 2h0m-3 1h0m1 0h0m3 0h0m0 3h0m0 1h0m1 1h0m-3 2h0m-2 2h0m1 0h0m-1 2h0m1 0h0m3 12h0m-2 3h0m3 0h0m-3 1h0m1 1h0m-2 2h0m2 4h0m-3 1h0m5 4h0m-5 4h0m0 12h0m3 6h0m-2 3h0m-1 11h0m0 1h0m4 2h0m-1 1h0m-1 11h0m0 0h0m3 0h0m-3 3h0m0 7h0m-2 14h0m1 21h0m-1 5h0m2 66h0m5-517h0m4 44h0m-3 10h0m2 12h0m-3 1h0m2 9h0m2 12h0m-1 5h0m1 9h0m-2 8h0m2 0h0m-3 1h0m-1 1h0m3 5h0m-3 6h0m4 0h0m-4 3h0m1 3h0m2 9h0m-4 7h0m0 7h0m2 0h0m-2 6h0m1 0h0m1 0h0m-2 4h0m0 2h0m3 3h0m2 0h0m-4 2h0m2 2h0m-1 1h0m2 0h0m-3 5h0m4 4h0m0 4h0m-4 1h0m-1 2h0m0 1h0m1 0h0m3 0h0m0 3h0m-2 6h0m-1 2h0m0 1h0m3 0h0m0 1h0m-1 2h0m-2 7h0m4 2h0m-3 1h0m1 4h0m-1 1h0m0 3h0m-1 1h0m-1 3h0m4 0h0m-3 4h0m4 2h0m0 1h0m0 3h0m-2 9h0m0 1h0m1 0h0m-4 1h0m1 0h0m4 3h0m0 12h0m-3 1h0m-1 1h0m3 9h0m-3 3h0m2 0h0m-3 1h0m4 5h0m-4 3h0m3 0h0m-2 7h0m-1 1h0m1 2h0m4 0h0m0 1h0m-5 3h0m1 1h0m2 1h0m-1 5h0m0 1h0m3 7h0m-1 2h0m-3 2h0m2 0h0m1 4h0m-1 1h0m-1 6h0m-1 3h0m4 1h0m-2 1h0m-2 2h0m3 4h0m-1 2h0m0 1h0m0 4h0m-1 3h0m2 13h0m-2 9h0m3 5h0m-2 6h0m2 6h0m-1 5h0m0 2h0m-1 1h0m-2 4h0m-1 11h0m1 24h0m3 113h0m-2 30h0m4-539h0m3 0h0m0 4h0m2 15h0m-3 5h0m3 6h0m-1 5h0m-1 6h0m0 2h0m0 3h0m-3 5h0m4 0h0m-3 1h0m1 8h0m2 5h0m1 8h0m-3 6h0m2 3h0m-4 5h0m5 0h0m-5 3h0m3 14h0m-3 5h0m4 13h0m0 3h0m-4 2h0m2 0h0m2 8h0m1 0h0m-5 1h0m3 0h0m2 1h0m-4 3h0m4 0h0m0 11h0m-1 2h0m-4 2h0m0 14h0m3 0h0m-2 2h0m-1 2h0m5 0h0m0 7h0m-5 1h0m2 1h0m-1 1h0m2 0h0m1 3h0m-1 2h0m2 5h0m-5 3h0m4 7h0m1 0h0m0 0h0m-4 1h0m-1 8h0m4 0h0m-4 1h0m5 0h0m0 3h0m-5 1h0m2 1h0m1 1h0m-2 6h0m4 0h0m-2 2h0m-2 1h0m-1 4h0m5 3h0m-5 3h0m0 1h0m2 1h0m3 0h0m-1 5h0m1 4h0m-3 2h0m1 8h0m-1 1h0m3 2h0m-2 3h0m-1 10h0m-1 11h0m4 1h0m0 2h0m-3 1h0m2 0h0m-1 3h0m-1 4h0m1 0h0m-1 1h0m2 2h0m-1 2h0m-2 3h0m4 0h0m-4 3h0m3 1h0m-1 2h0m1 1h0m1 1h0m-1 3h0m-3 4h0m2 2h0m1 0h0m-1 1h0m0 6h0m0 4h0m2 24h0m-2 1h0m2 21h0m-1 5h0m-1 5h0m1 9h0m-2 19h0m-1 67h0m2 13h0m4-508h0m4 42h0m-5 3h0m3 2h0m-1 3h0m0 16h0m2 0h0m-1 5h0m-1 8h0m-2 2h0m5 0h0m-3 9h0m3 1h0m0 8h0m-5 5h0m1 3h0m-1 5h0m4 4h0m0 2h0m0 4h0m-2 3h0m2 3h0m-2 6h0m1 2h0m1 2h0m-4 3h0m2 1h0m-1 4h0m1 0h0m0 6h0m1 0h0m2 5h0m-3 15h0m0 14h0m1 2h0m-2 5h0m2 2h0m-2 2h0m3 0h0m-4 2h0m0 2h0m5 3h0m-4 8h0m2 1h0m1 0h0m-1 5h0m0 1h0m1 6h0m1 2h0m-5 3h0m1 0h0m4 2h0m0 1h0m-2 2h0m-2 1h0m1 4h0m-2 3h0m2 0h0m-2 2h0m2 3h0m2 7h0m-4 4h0m3 0h0m-2 10h0m2 0h0m-2 1h0m4 3h0m-1 8h0m-3 2h0m2 2h0m0 3h0m-2 1h0m-1 8h0m3 3h0m2 0h0m0 1h0m-4 7h0m2 11h0m-3 1h0m4 0h0m-2 2h0m2 15h0m1 8h0m-5 8h0m2 1h0m1 11h0m1 16h0m-1 9h0m0 5h0m1 16h0m-1 8h0m1 2h0m-1 55h0m2 12h0m-5 70h0m5 5h0m-3 177h0m8-735h0m-1 9h0m-1 3h0m1 16h0m-2 3h0m2 4h0m-1 5h0m1 4h0m1 21h0m1 0h0m-5 4h0m5 6h0m-4 2h0m3 5h0m-2 6h0m3 3h0m-2 2h0m0 4h0m-2 14h0m3 0h0m0 4h0m-4 4h0m4 2h0m0 1h0m-4 3h0m0 0h0m4 1h0m0 0h0m-4 1h0m2 0h0m1 1h0m1 0h0m-4 1h0m1 4h0m2 1h0m2 1h0m-1 4h0m-4 2h0m3 2h0m1 5h0m1 0h0m-5 6h0m2 1h0m-1 2h0m2 0h0m0 2h0m-3 8h0m0 1h0m1 6h0m-1 1h0m3 1h0m1 4h0m-4 3h0m1 2h0m0 3h0m1 0h0m0 1h0m-2 1h0m4 5h0m-3 1h0m4 0h0m-5 5h0m3 2h0m-1 1h0m-2 1h0m4 6h0m-1 1h0m0 3h0m0 2h0m-2 2h0m-1 5h0m3 3h0m2 0h0m-1 2h0m0 7h0m-4 1h0m4 0h0m-4 4h0m1 1h0m3 0h0m1 1h0m-1 6h0m1 0h0m-3 5h0m0 3h0m-1 2h0m2 0h0m1 1h0m-1 1h0m1 0h0m-4 1h0m2 0h0m2 12h0m-4 1h0m2 0h0m0 0h0m0 2h0m0 4h0m3 3h0m-3 1h0m2 3h0m-4 5h0m1 9h0m-1 4h0m3 0h0m2 1h0m-2 5h0m-2 9h0m4 0h0m-2 1h0m1 3h0m-1 3h0m0 1h0m2 15h0m-3 5h0m2 4h0m0 2h0m-1 4h0m2 8h0m0 13h0m-2 4h0m-1 6h0m2 1h0m-3 33h0m1 37h0m1 5h0m0 50h0m0 15h0m2 2h0m-2 80h0m6-615h0m2 10h0m0 10h0m-5 2h0m4 10h0m0 2h0m-4 5h0m5 1h0m-5 10h0m3 3h0m2 8h0m-4 2h0m4 14h0m-1 5h0m1 0h0m-4 8h0m0 0h0m0 2h0m-1 1h0m1 3h0m4 19h0m-5 6h0m0 1h0m3 0h0m-3 5h0m3 5h0m2 1h0m-1 8h0m-1 7h0m0 2h0m-2 3h0m1 4h0m2 1h0m-1 2h0m1 1h0m-2 4h0m-2 1h0m5 8h0m-1 1h0m1 0h0m-3 2h0m3 2h0m0 3h0m-3 11h0m3 4h0m-1 1h0m1 0h0m-4 2h0m0 8h0m0 1h0m2 1h0m-2 2h0m1 0h0m0 7h0m0 8h0m0 1h0m-1 2h0m1 0h0m1 4h0m2 1h0m-3 2h0m2 1h0m-3 1h0m2 0h0m1 0h0m-1 1h0m1 2h0m-2 7h0m0 2h0m0 1h0m2 5h0m-4 3h0m0 2h0m0 2h0m2 0h0m3 3h0m-2 5h0m0 1h0m1 0h0m-3 1h0m2 3h0m2 0h0m-2 5h0m0 1h0m-2 3h0m0 7h0m1 2h0m-2 2h0m1 3h0m-1 3h0m2 11h0m3 0h0m-4 1h0m1 1h0m0 4h0m0 5h0m3 2h0m-5 7h0m3 4h0m-1 14h0m-1 9h0m0 8h0m0 22h0m-1 32h0m4 20h0m-2 74h0m7-525h0m-3 40h0m1 4h0m2 6h0m-2 8h0m1 2h0m0 3h0m1 6h0m-2 7h0m-1 2h0m5 3h0m-5 1h0m5 13h0m-5 3h0m3 3h0m-1 3h0m0 0h0m2 2h0m-1 4h0m-1 2h0m-1 8h0m4 7h0m-4 2h0m2 3h0m-3 3h0m2 2h0m-1 1h0m3 2h0m-2 4h0m-2 4h0m4 0h0m-1 4h0m1 3h0m-2 1h0m2 6h0m0 6h0m0 8h0m1 1h0m-1 2h0m0 6h0m-3 5h0m4 3h0m-1 1h0m-2 2h0m-1 1h0m1 1h0m-1 2h0m1 0h0m1 2h0m-1 1h0m-1 8h0m1 0h0m-1 3h0m0 0h0m4 1h0m-2 3h0m2 0h0m-5 5h0m0 0h0m1 0h0m0 4h0m-1 4h0m3 3h0m-3 1h0m4 3h0m-3 10h0m0 4h0m2 1h0m-2 4h0m1 0h0m1 5h0m-1 4h0m2 0h0m-2 4h0m0 3h0m-1 2h0m3 2h0m-4 1h0m2 3h0m-2 2h0m4 0h0m-1 4h0m-1 1h0m2 1h0m-1 2h0m2 4h0m-1 1h0m0 0h0m-3 3h0m3 0h0m0 1h0m-3 9h0m2 0h0m-1 1h0m2 1h0m1 0h0m-4 1h0m3 9h0m1 0h0m-1 6h0m-3 3h0m0 11h0m0 1h0m0 2h0m2 18h0m2 16h0m0 53h0m-3 3h0m0 3h0m3 1h0m-3 81h0m1 47h0m5-556h0m1 24h0m-2 9h0m1 0h0m0 1h0m-2 10h0m0 1h0m3 1h0m-3 7h0m2 2h0m0 1h0m2 7h0m1 2h0m-4 3h0m4 0h0m-4 1h0m2 1h0m0 0h0m-2 1h0m2 0h0m-1 5h0m3 6h0m-3 5h0m-1 6h0m-1 1h0m2 1h0m-1 3h0m3 0h0m-3 8h0m2 4h0m-2 1h0m-1 11h0m5 1h0m-5 1h0m1 5h0m0 2h0m4 2h0m-5 3h0m5 3h0m-5 4h0m5 13h0m-2 2h0m1 5h0m-2 2h0m-1 1h0m2 8h0m2 0h0m-4 3h0m1 4h0m3 2h0m-5 4h0m1 7h0m-1 3h0m3 3h0m-1 2h0m3 1h0m-3 9h0m2 2h0m0 4h0m-4 3h0m1 1h0m2 1h0m1 2h0m-1 1h0m-1 1h0m-1 3h0m2 0h0m-1 1h0m2 0h0m0 1h0m-3 3h0m0 2h0m2 0h0m0 2h0m-3 1h0m2 0h0m2 0h0m0 1h0m-3 4h0m3 0h0m-1 1h0m-3 1h0m0 1h0m3 1h0m-3 1h0m4 1h0m-4 1h0m0 1h0m4 1h0m-1 2h0m-1 2h0m2 0h0m-4 5h0m3 0h0m-2 4h0m3 1h0m-3 1h0m0 0h0m0 1h0m3 0h0m-3 2h0m4 3h0m-4 1h0m3 3h0m-4 3h0m1 1h0m3 1h0m-4 3h0m0 2h0m3 0h0m-2 3h0m3 5h0m1 2h0m-3 1h0m2 1h0m-3 4h0m0 9h0m0 1h0m1 15h0m-2 1h0m3 6h0m1 11h0m1 2h0m-5 7h0m4 28h0m-4 52h0m4 49h0m4-491h0m0 14h0m3 10h0m-1 12h0m-3 17h0m2 14h0m-1 4h0m-2 4h0m5 7h0m0 8h0m-5 3h0m0 1h0m3 3h0m2 2h0m-1 5h0m-3 3h0m-1 9h0m3 4h0m1 2h0m-3 1h0m0 0h0m2 11h0m-2 3h0m1 2h0m2 3h0m1 0h0m-3 2h0m1 1h0m0 0h0m-1 5h0m0 1h0m1 1h0m1 0h0m-4 2h0m2 0h0m0 0h0m3 0h0m-3 1h0m0 6h0m-1 3h0m0 0h0m3 0h0m0 6h0m-2 1h0m2 0h0m-2 3h0m1 0h0m-1 9h0m3 10h0m-2 4h0m0 2h0m1 0h0m0 1h0m0 1h0m0 2h0m-1 1h0m1 5h0m0 0h0m1 0h0m-2 3h0m2 5h0m-5 2h0m1 0h0m3 0h0m0 6h0m-4 2h0m4 1h0m-2 1h0m2 1h0m-4 1h0m3 5h0m-3 7h0m1 2h0m-1 1h0m5 0h0m0 0h0m-1 3h0m-3 5h0m3 0h0m-2 1h0m2 0h0m1 9h0m-2 1h0m0 13h0m1 3h0m-4 3h0m3 3h0m-3 1h0m4 0h0m-3 5h0m4 2h0m0 7h0m-1 4h0m1 2h0m-2 2h0m2 1h0m-1 10h0m-4 12h0m4 3h0m1 8h0m-5 4h0m0 20h0m1 0h0m2 18h0m0 2h0m-1 1h0m-2 29h0m1 6h0m0 16h0m4 4h0m-3 38h0m8-502h0m1 55h0m-3 5h0m0 4h0m-2 5h0m3 1h0m-2 5h0m1 10h0m2 2h0m-2 4h0m1 1h0m2 4h0m-1 10h0m-1 15h0m0 1h0m2 6h0m-1 7h0m-2 5h0m-1 9h0m0 1h0m4 2h0m-5 8h0m4 4h0m0 3h0m-3 1h0m3 0h0m1 0h0m-1 1h0m-4 2h0m1 1h0m0 0h0m4 0h0m-5 3h0m4 3h0m0 0h0m1 0h0m0 3h0m0 2h0m-1 1h0m1 0h0m-2 4h0m2 0h0m0 1h0m-4 7h0m0 6h0m3 0h0m-1 1h0m-1 2h0m1 10h0m-1 1h0m3 1h0m-2 2h0m-1 7h0m1 1h0m-3 4h0m0 4h0m5 1h0m-2 1h0m-1 3h0m-1 1h0m1 6h0m-2 6h0m0 0h0m2 2h0m3 3h0m-4 5h0m3 2h0m-2 5h0m3 3h0m-5 1h0m2 1h0m3 3h0m0 0h0m-5 1h0m4 5h0m1 0h0m-2 2h0m-1 7h0m0 2h0m0 5h0m-1 1h0m2 0h0m0 1h0m-1 1h0m3 1h0m-1 2h0m0 1h0m1 0h0m-4 2h0m4 3h0m-2 6h0m1 0h0m-1 2h0m-1 1h0m0 0h0m0 4h0m1 1h0m-2 3h0m2 6h0m0 3h0m-2 1h0m-1 2h0m1 1h0m3 13h0m-2 6h0m0 0h0m0 17h0m-2 34h0m0 23h0m1 3h0m2 14h0m0 25h0m-3 2h0m11-481h0m0 9h0m-5 23h0m3 5h0m-2 12h0m1 6h0m0 10h0m-2 15h0m1 4h0m2 7h0m0 6h0m1 6h0m0 1h0m0 1h0m1 1h0m-1 4h0m1 2h0m0 2h0m0 1h0m-4 1h0m1 10h0m3 6h0m-5 1h0m0 5h0m4 4h0m-3 1h0m3 4h0m-1 1h0m2 0h0m-4 7h0m-1 4h0m1 1h0m4 0h0m-5 13h0m3 0h0m2 1h0m-3 1h0m1 3h0m0 2h0m2 2h0m-1 3h0m-4 1h0m4 11h0m-4 8h0m4 9h0m-1 1h0m2 2h0m-5 1h0m2 5h0m2 1h0m-4 5h0m0 2h0m5 2h0m-1 6h0m0 2h0m-4 1h0m0 4h0m2 2h0m0 5h0m0 0h0m3 1h0m-2 2h0m2 0h0m0 1h0m-4 1h0m4 0h0m-2 2h0m0 1h0m0 3h0m2 4h0m-1 1h0m1 6h0m-5 2h0m2 2h0m0 2h0m2 5h0m-4 3h0m2 4h0m-2 6h0m0 4h0m4 0h0m-4 4h0m3 1h0m2 6h0m-2 3h0m-1 1h0m1 4h0m2 3h0m-2 2h0m0 2h0m-3 6h0m1 0h0m2 6h0m1 8h0m-2 5h0m2 0h0m-4 7h0m3 11h0m-1 17h0m-2 11h0m2 9h0m2 12h0m-2 75h0m1 10h0m-3 69h0m3 7h0m6-570h0m-2 13h0m2 18h0m-3 10h0m2 3h0m-1 1h0m0 3h0m4 10h0m-3 1h0m-2 1h0m4 1h0m0 11h0m-1 9h0m2 0h0m-5 2h0m5 2h0m-5 3h0m5 6h0m-5 4h0m4 1h0m-1 2h0m-1 5h0m3 0h0m-3 1h0m3 1h0m-4 3h0m2 0h0m-2 7h0m-1 1h0m1 0h0m0 1h0m-1 1h0m1 4h0m2 0h0m-3 2h0m2 0h0m0 0h0m2 0h0m-1 5h0m-3 3h0m4 1h0m-4 3h0m4 2h0m1 1h0m-3 3h0m3 0h0m-3 7h0m-1 3h0m0 1h0m-1 13h0m1 2h0m3 0h0m0 1h0m-4 1h0m4 2h0m-3 2h0m4 2h0m-4 1h0m4 1h0m0 1h0m-4 3h0m1 1h0m3 2h0m-5 3h0m1 13h0m3 2h0m-1 7h0m1 3h0m0 1h0m0 5h0m-2 2h0m2 11h0m-3 11h0m4 1h0m-5 2h0m2 2h0m2 1h0m-4 1h0m0 1h0m1 1h0m0 1h0m2 3h0m-2 3h0m0 6h0m4 4h0m-5 3h0m3 3h0m0 3h0m2 1h0m-2 2h0m-3 1h0m3 0h0m1 8h0m1 0h0m-2 3h0m2 1h0m0 1h0m-1 3h0m1 2h0m-3 14h0m0 0h0m0 0h0m1 1h0m2 1h0m-2 6h0m0 0h0m0 2h0m1 5h0m-1 6h0m-1 3h0m-2 1h0m4 1h0m-4 4h0m3 1h0m-3 11h0m2 1h0m-2 16h0m3 2h0m2 5h0m-5 6h0m3 19h0m0 14h0m-2 1h0m-1 89h0m5 18h0m-5 28h0m6-550h0m3 21h0m-2 8h0m3 4h0m-2 8h0m2 16h0m-2 5h0m-1 1h0m1 5h0m-2 4h0m3 1h0m0 9h0m-1 11h0m1 5h0m1 0h0m0 3h0m-4 2h0m1 2h0m3 0h0m-4 1h0m4 0h0m-4 6h0m5 3h0m-3 3h0m0 1h0m2 6h0m-2 1h0m-1 1h0m-1 6h0m3 2h0m0 0h0m-1 1h0m0 2h0m1 3h0m-2 2h0m0 4h0m0 4h0m-1 3h0m0 2h0m5 2h0m-2 1h0m-3 5h0m4 2h0m-4 4h0m0 2h0m4 4h0m-3 2h0m1 4h0m2 9h0m-2 1h0m2 5h0m-3 2h0m1 1h0m1 1h0m-2 1h0m1 0h0m1 2h0m0 5h0m-3 3h0m3 3h0m1 0h0m-2 1h0m3 1h0m-5 5h0m5 2h0m-5 1h0m1 9h0m3 8h0m-2 2h0m2 2h0m0 0h0m-2 6h0m1 1h0m0 1h0m-2 1h0m-1 1h0m4 4h0m-2 2h0m2 3h0m-2 3h0m-1 1h0m1 1h0m2 1h0m-1 1h0m0 2h0m-3 3h0m1 1h0m2 6h0m-3 2h0m0 1h0m4 0h0m-4 2h0m1 1h0m4 0h0m-3 3h0m1 7h0m1 4h0m-2 3h0m-2 7h0m3 14h0m2 1h0m-5 1h0m0 3h0m0 6h0m0 0h0m0 4h0m3 2h0m-1 6h0m3 2h0m-5 3h0m2 2h0m0 4h0m-1 6h0m2 1h0m-2 2h0m4 13h0m-2 23h0m-1 14h0m0 12h0m3 27h0m-1 27h0m4-492h0m0 4h0m2 29h0m-2 1h0m0 1h0m2 5h0m-1 3h0m2 6h0m-1 9h0m-1 5h0m-3 8h0m3 0h0m1 10h0m-2 8h0m0 8h0m0 1h0m1 2h0m1 3h0m-3 3h0m3 2h0m-1 3h0m1 8h0m-4 7h0m2 1h0m0 4h0m1 6h0m0 2h0m-2 2h0m0 1h0m1 8h0m0 4h0m0 0h0m-1 4h0m0 1h0m4 0h0m-3 5h0m0 1h0m2 10h0m1 0h0m-4 2h0m-1 1h0m1 2h0m4 0h0m-4 2h0m1 2h0m-2 3h0m5 1h0m-2 1h0m1 1h0m0 0h0m1 0h0m0 2h0m-1 2h0m-1 1h0m1 2h0m-1 3h0m0 1h0m1 9h0m0 2h0m1 1h0m-3 1h0m2 0h0m-4 1h0m0 2h0m5 5h0m-5 2h0m5 2h0m-3 4h0m-2 1h0m0 1h0m1 0h0m3 1h0m-3 2h0m4 1h0m-4 1h0m0 0h0m-1 1h0m5 12h0m-5 1h0m2 2h0m-2 1h0m4 0h0m-4 2h0m1 2h0m4 0h0m-3 2h0m-2 2h0m1 1h0m1 0h0m-2 2h0m5 1h0m-2 1h0m-2 8h0m3 1h0m-3 3h0m3 2h0m-4 2h0m5 2h0m-5 1h0m2 0h0m1 1h0m2 1h0m-5 4h0m5 2h0m-2 2h0m0 1h0m2 0h0m-3 5h0m3 0h0m-1 2h0m1 1h0m-5 4h0m0 0h0m1 14h0m-1 2h0m5 5h0m-1 1h0m-1 1h0m-2 1h0m-1 6h0m5 11h0m-5 3h0m2 4h0m-1 22h0m-1 12h0m2 9h0m1 31h0m2 26h0m0 39h0m-5 76h0m7-582h0m2 9h0m1 2h0m-1 10h0m-2 8h0m3 2h0m-4 13h0m3 4h0m-2 9h0m3 4h0m0 3h0m-2 1h0m1 2h0m2 3h0m-2 2h0m-1 1h0m-2 1h0m5 8h0m-2 13h0m2 2h0m0 2h0m-3 8h0m2 8h0m1 0h0m-5 1h0m3 0h0m-3 2h0m2 2h0m-1 2h0m3 0h0m0 2h0m0 2h0m0 13h0m-3 4h0m2 8h0m0 1h0m-1 1h0m0 2h0m0 1h0m-2 5h0m5 0h0m0 4h0m-1 9h0m-4 4h0m1 1h0m3 1h0m0 1h0m0 7h0m1 1h0m0 2h0m-2 11h0m-2 2h0m0 3h0m1 0h0m-2 3h0m4 0h0m0 0h0m1 6h0m-2 1h0m-2 13h0m1 0h0m1 6h0m-3 2h0m4 0h0m-4 1h0m0 0h0m3 3h0m2 0h0m-3 5h0m2 9h0m-1 1h0m-3 11h0m2 0h0m2 6h0m-1 1h0m-3 1h0m1 0h0m1 3h0m-1 1h0m1 0h0m1 15h0m0 8h0m-3 19h0m0 2h0m0 10h0m3 12h0m-1 1h0m-1 9h0m3 7h0m-3 3h0m0 7h0m1 8h0m-2 12h0m5 37h0m-2 27h0m7-439h0m1 1h0m-5 2h0m3 0h0m1 0h0m-1 10h0m-2 1h0m2 5h0m2 0h0m-2 12h0m-2 5h0m4 1h0m-4 4h0m2 3h0m1 3h0m-3 6h0m1 1h0m2 2h0m-4 5h0m0 1h0m5 0h0m-5 2h0m0 4h0m0 1h0m0 2h0m3 0h0m-3 1h0m0 6h0m5 2h0m-5 2h0m5 4h0m-3 2h0m-1 2h0m2 4h0m-3 3h0m2 4h0m-2 2h0m0 3h0m2 5h0m0 0h0m-1 4h0m0 1h0m1 1h0m3 0h0m-3 7h0m-1 3h0m4 0h0m-5 10h0m4 1h0m-3 3h0m-1 2h0m5 1h0m-5 1h0m1 2h0m4 4h0m-1 2h0m1 1h0m-5 2h0m2 7h0m1 0h0m1 0h0m0 0h0m0 3h0m0 0h0m-4 9h0m4 0h0m1 0h0m-2 2h0m-2 1h0m3 0h0m-4 2h0m3 0h0m0 0h0m-1 5h0m-1 1h0m1 5h0m-1 2h0m2 2h0m1 1h0m1 0h0m-3 1h0m-2 5h0m3 0h0m0 1h0m-2 5h0m1 9h0m-2 3h0m2 2h0m-2 1h0m0 0h0m1 2h0m0 1h0m3 0h0m0 0h0m-1 1h0m-1 7h0m1 2h0m1 3h0m-1 1h0m1 5h0m0 3h0m-3 2h0m4 3h0m0 1h0m-5 2h0m0 1h0m1 4h0m-1 1h0m0 1h0m0 0h0m3 3h0m-1 17h0m-1 1h0m1 1h0m1 10h0m0 1h0m-3 7h0m1 4h0m1 4h0m-2 12h0m5 2h0m-3 7h0m2 11h0m-2 5h0m2 18h0m1 1h0m-4 25h0m0 11h0m-1 25h0m4 36h0m-1 13h0m4-494h0m-1 33h0m5 7h0m-1 8h0m1 0h0m-1 6h0m-1 2h0m0 13h0m1 11h0m-1 6h0m2 1h0m-3 5h0m-2 1h0m5 1h0m-1 7h0m-2 11h0m3 0h0m-3 12h0m0 0h0m1 2h0m-3 5h0m1 3h0m3 2h0m-3 3h0m4 4h0m0 5h0m0 1h0m-1 1h0m-3 8h0m3 2h0m-1 1h0m-3 2h0m0 3h0m1 1h0m-1 5h0m5 0h0m-3 1h0m1 3h0m2 0h0m-5 5h0m5 2h0m0 0h0m-2 6h0m1 1h0m1 0h0m0 7h0m-3 1h0m-1 9h0m0 2h0m3 1h0m-2 2h0m-1 1h0m2 7h0m0 0h0m-1 2h0m-2 4h0m2 2h0m0 3h0m2 1h0m-2 7h0m3 0h0m-2 1h0m-1 8h0m3 4h0m-2 4h0m1 0h0m-2 9h0m1 3h0m1 0h0m-2 3h0m3 1h0m-4 8h0m1 2h0m-1 9h0m4 3h0m-1 2h0m-1 2h0m0 2h0m-1 4h0m-1 2h0m3 0h0m-2 1h0m2 10h0m-2 6h0m0 4h0m3 15h0m-4 2h0m2 16h0m1 1h0m-1 17h0m0 6h0m-2 5h0m-1 9h0m2 125h0m1 8h0m1 136h0m7-684h0m-4 33h0m3 0h0m-4 4h0m1 35h0m2 13h0m-3 3h0m5 6h0m-5 1h0m0 5h0m3 2h0m2 0h0m-2 9h0m-3 3h0m0 0h0m2 5h0m-1 5h0m4 0h0m-2 3h0m-2 1h0m3 0h0m-3 6h0m0 5h0m-1 3h0m0 2h0m0 2h0m1 2h0m2 2h0m2 0h0m-3 1h0m-2 1h0m5 1h0m-5 6h0m4 14h0m-4 2h0m5 5h0m-1 2h0m-1 2h0m-3 3h0m1 3h0m0 1h0m3 1h0m0 1h0m0 1h0m-1 4h0m-1 4h0m2 0h0m1 2h0m-1 3h0m-3 3h0m-1 7h0m1 3h0m3 0h0m0 4h0m1 0h0m-1 1h0m-3 1h0m1 5h0m0 4h0m-2 2h0m5 0h0m-1 4h0m-4 1h0m0 7h0m5 0h0m-3 2h0m0 2h0m-1 1h0m-1 1h0m0 1h0m4 3h0m0 2h0m0 0h0m-2 1h0m1 1h0m0 2h0m-3 4h0m1 1h0m-1 5h0m3 0h0m-2 1h0m1 5h0m2 1h0m-1 1h0m0 2h0m-1 1h0m3 0h0m-3 2h0m3 1h0m-4 6h0m2 2h0m0 1h0m-2 3h0m3 0h0m-3 2h0m1 1h0m2 0h0m-1 1h0m-1 5h0m0 6h0m-2 3h0m2 4h0m-2 5h0m1 1h0m4 0h0m-4 7h0m2 4h0m2 0h0m-2 2h0m2 3h0m-3 3h0m0 5h0m3 16h0m-2 11h0m-2 5h0m-1 15h0m3 3h0m1 0h0m1 7h0m-3 8h0m2 2h0m-1 42h0m2 21h0m3-462h0m0 31h0m-2 7h0m5 10h0m-2 1h0m-3 2h0m1 4h0m2 1h0m-3 6h0m3 0h0m-3 4h0m5 0h0m-2 1h0m1 1h0m-3 1h0m2 1h0m-3 10h0m0 1h0m4 1h0m1 0h0m0 0h0m-1 5h0m-4 4h0m4 0h0m-4 3h0m4 1h0m1 3h0m-3 8h0m0 4h0m0 0h0m-1 8h0m2 3h0m2 0h0m-3 1h0m1 0h0m0 1h0m-2 2h0m0 3h0m-1 7h0m5 3h0m0 1h0m-5 2h0m3 0h0m2 2h0m0 1h0m-5 2h0m3 1h0m-2 4h0m2 0h0m-1 2h0m-2 1h0m2 3h0m3 0h0m-4 2h0m4 6h0m-2 1h0m-2 1h0m2 0h0m-3 1h0m1 2h0m1 0h0m-2 2h0m4 0h0m-1 2h0m-3 6h0m4 5h0m-2 3h0m3 5h0m-3 5h0m1 6h0m-3 1h0m1 0h0m4 2h0m-4 5h0m1 3h0m-1 4h0m3 6h0m1 1h0m-2 2h0m2 11h0m0 1h0m0 3h0m-3 4h0m1 4h0m1 2h0m-4 1h0m0 1h0m0 6h0m4 0h0m-1 3h0m-1 1h0m0 0h0m2 0h0m0 10h0m-1 1h0m2 1h0m-2 1h0m0 1h0m-2 1h0m2 0h0m1 9h0m-1 1h0m1 3h0m-4 4h0m2 3h0m3 0h0m-5 4h0m1 3h0m3 5h0m1 13h0m-2 15h0m2 14h0m-2 8h0m1 12h0m-3 18h0m0 10h0m2 19h0m0 1h0m-2 8h0m-1 49h0m5 103h0m3-547h0m-1 10h0m4 1h0m-1 6h0m-4 1h0m4 1h0m-2 1h0m0 2h0m2 4h0m1 0h0m-4 1h0m2 6h0m-1 2h0m3 5h0m-2 6h0m1 2h0m-4 4h0m1 2h0m4 1h0m-2 4h0m-3 5h0m1 0h0m4 2h0m-3 3h0m3 9h0m0 1h0m0 2h0m-4 4h0m0 2h0m-1 3h0m4 0h0m-1 2h0m-1 3h0m2 7h0m-2 2h0m2 1h0m-1 2h0m0 4h0m1 0h0m1 15h0m-5 2h0m2 0h0m1 4h0m1 3h0m-2 6h0m0 4h0m3 12h0m-4 4h0m3 1h0m-2 1h0m1 0h0m0 2h0m1 6h0m-4 1h0m1 4h0m3 11h0m-3 5h0m-1 3h0m5 0h0m-4 1h0m2 0h0m1 0h0m-4 1h0m0 4h0m3 0h0m-1 1h0m0 2h0m-1 2h0m1 3h0m0 1h0m2 5h0m-1 2h0m-1 1h0m0 6h0m2 0h0m0 2h0m-2 2h0m3 19h0m-1 12h0m-3 11h0m2 11h0m-2 1h0m1 2h0m2 16h0m1 0h0m-1 1h0m-3 1h0m0 2h0m1 14h0m2 3h0m-4 5h0m0 5h0m5 0h0m-2 3h0m-2 28h0m0 15h0m0 5h0m3 108h0m3-555h0m-1 25h0m1 4h0m1 0h0m-2 24h0m1 9h0m1 10h0m0 3h0m0 2h0m2 1h0m1 0h0m-1 4h0m-2 2h0m-2 3h0m2 5h0m3 1h0m0 17h0m-1 6h0m-1 2h0m2 4h0m-3 1h0m-1 1h0m-1 6h0m5 1h0m-1 3h0m-1 2h0m1 1h0m-1 10h0m-1 1h0m0 2h0m3 3h0m0 1h0m-2 1h0m-3 6h0m0 2h0m2 7h0m0 0h0m2 3h0m-3 3h0m-1 4h0m0 3h0m0 0h0m4 1h0m-4 2h0m2 3h0m3 0h0m-4 6h0m1 3h0m0 0h0m2 0h0m-4 1h0m4 1h0m-4 8h0m2 0h0m-1 12h0m2 2h0m1 0h0m-4 4h0m4 3h0m0 7h0m0 2h0m1 1h0m-3 1h0m0 4h0m1 3h0m-2 2h0m0 0h0m-1 6h0m0 1h0m0 0h0m5 1h0m-3 5h0m1 0h0m1 3h0m-2 2h0m2 4h0m-1 7h0m-2 7h0m4 2h0m0 7h0m0 1h0m-5 3h0m5 4h0m-1 1h0m-3 4h0m1 1h0m-1 6h0m0 2h0m4 5h0m-2 1h0m-2 5h0m2 2h0m0 13h0m0 2h0m-1 2h0m2 1h0m-1 6h0m2 4h0m-5 6h0m1 0h0m-1 9h0m2 1h0m-2 2h0m1 7h0m2 0h0m-1 14h0m3 25h0m-1 7h0m-1 31h0m-3 9h0m3 0h0m1 51h0m1 47h0m5-549h0m-4 27h0m5 0h0m-2 5h0m2 2h0m-2 9h0m2 2h0m0 2h0m-2 2h0m0 10h0m1 4h0m0 5h0m-4 4h0m0 0h0m5 7h0m0 2h0m-2 10h0m2 0h0m0 3h0m-4 10h0m2 3h0m-2 3h0m3 5h0m-3 4h0m0 2h0m3 2h0m1 2h0m-4 1h0m3 4h0m-1 1h0m-1 8h0m-1 8h0m4 0h0m-1 3h0m-1 11h0m1 2h0m0 0h0m-4 4h0m5 1h0m-5 2h0m1 4h0m4 8h0m-4 4h0m4 2h0m-1 2h0m-4 3h0m2 0h0m2 3h0m-3 1h0m4 1h0m0 2h0m-4 1h0m4 1h0m-4 6h0m1 4h0m3 1h0m-3 1h0m3 0h0m0 4h0m-2 4h0m-2 1h0m1 3h0m3 0h0m-3 1h0m-2 3h0m0 0h0m3 2h0m-3 5h0m5 0h0m-1 6h0m-2 1h0m2 0h0m1 0h0m-1 3h0m-2 1h0m1 1h0m2 4h0m-3 1h0m-1 1h0m3 2h0m-4 13h0m1 1h0m0 1h0m1 2h0m-1 4h0m4 2h0m0 3h0m-4 1h0m2 1h0m2 0h0m-2 2h0m0 2h0m0 1h0m-2 1h0m1 1h0m-1 4h0m3 0h0m-1 1h0m0 7h0m-3 1h0m3 5h0m-1 1h0m2 0h0m1 0h0m-4 4h0m2 0h0m0 13h0m-2 6h0m4 1h0m0 14h0m-1 4h0m-1 19h0m2 26h0m-2 10h0m2 64h0m0 80h0m5-543h0m-4 25h0m3 5h0m0 7h0m-3 2h0m4 5h0m-1 5h0m-1 4h0m1 35h0m1 3h0m-4 7h0m1 5h0m2 4h0m-3 4h0m5 3h0m-2 1h0m0 3h0m-3 1h0m4 9h0m-3 1h0m0 7h0m4 2h0m-3 3h0m1 2h0m-1 4h0m2 1h0m-4 2h0m4 2h0m-1 2h0m-3 5h0m1 3h0m2 6h0m-3 1h0m5 3h0m0 1h0m0 0h0m-3 2h0m-1 1h0m4 0h0m-4 5h0m3 4h0m1 7h0m-4 1h0m2 10h0m0 1h0m0 0h0m2 1h0m-1 7h0m-3 5h0m0 6h0m-1 1h0m3 1h0m0 0h0m1 4h0m-2 1h0m2 3h0m-4 2h0m0 3h0m0 3h0m3 5h0m-1 1h0m-2 6h0m0 2h0m2 2h0m3 0h0m-3 1h0m0 7h0m2 2h0m-1 1h0m-3 7h0m0 2h0m1 2h0m-1 2h0m4 1h0m-4 3h0m1 1h0m1 0h0m3 5h0m0 1h0m-2 3h0m0 9h0m-3 5h0m0 5h0m3 4h0m1 4h0m-2 13h0m3 1h0m-1 3h0m-2 16h0m3 8h0m0 4h0m-1 11h0m-2 2h0m1 12h0m2 10h0m-2 40h0m-3 8h0m1 9h0m4 1h0m-5 66h0m2 95h0m-1 1h0m1 39h0m7-705h0m-2 36h0m0 8h0m-1 30h0m3 7h0m1 9h0m-3 2h0m3 18h0m-4 6h0m4 1h0m0 7h0m-1 19h0m2 0h0m-4 1h0m3 7h0m-4 1h0m3 4h0m0 2h0m-1 4h0m3 3h0m-5 4h0m3 0h0m2 4h0m-4 1h0m-1 1h0m0 2h0m3 1h0m2 1h0m-4 1h0m2 0h0m-3 1h0m0 4h0m1 0h0m1 0h0m0 4h0m3 1h0m-4 1h0m2 3h0m-1 5h0m2 2h0m1 2h0m-3 4h0m3 4h0m-5 2h0m5 1h0m-1 5h0m-3 2h0m2 1h0m-2 1h0m2 0h0m-1 10h0m-2 2h0m0 4h0m0 1h0m2 0h0m-2 1h0m4 0h0m0 3h0m1 3h0m-5 1h0m0 3h0m4 5h0m1 1h0m0 7h0m-1 2h0m0 1h0m-1 2h0m0 2h0m0 6h0m-3 6h0m3 0h0m-2 1h0m0 1h0m4 3h0m-2 1h0m0 6h0m2 2h0m-4 2h0m-1 5h0m2 1h0m0 2h0m3 3h0m-1 2h0m1 1h0m-5 1h0m0 4h0m5 1h0m-2 2h0m1 1h0m0 1h0m1 6h0m-4 2h0m1 1h0m2 0h0m-3 2h0m3 0h0m0 0h0m1 0h0m-4 5h0m3 2h0m1 1h0m-1 8h0m-3 9h0m2 2h0m-1 1h0m0 18h0m3 4h0m-1 1h0m-1 1h0m1 12h0m-4 6h0m1 7h0m2 1h0m-3 6h0m2 3h0m0 4h0m3 4h0m-2 12h0m-2 5h0m2 6h0m0 5h0m0 12h0m0 16h0m0 95h0m-3 104h0m3 40h0m4-697h0m0 55h0m2 0h0m-3 1h0m2 7h0m0 1h0m3 17h0m-4 12h0m2 1h0m1 2h0m-3 3h0m-1 6h0m0 1h0m3 5h0m1 8h0m-2 16h0m1 1h0m2 1h0m-3 7h0m2 7h0m-3 3h0m1 3h0m2 0h0m-3 9h0m1 7h0m3 1h0m-4 1h0m0 4h0m3 0h0m1 5h0m-2 3h0m1 3h0m1 3h0m-4 5h0m2 2h0m2 0h0m-4 1h0m3 2h0m0 0h0m-1 7h0m-3 4h0m1 2h0m3 7h0m1 1h0m-5 1h0m3 4h0m2 0h0m-1 5h0m1 0h0m0 3h0m-1 1h0m-2 2h0m0 6h0m3 2h0m-3 2h0m-2 1h0m2 0h0m2 0h0m1 0h0m0 1h0m-3 3h0m-1 4h0m4 2h0m-3 2h0m-1 8h0m-1 3h0m4 3h0m-2 1h0m1 2h0m-3 2h0m1 0h0m3 7h0m0 3h0m1 0h0m-2 1h0m1 0h0m-3 1h0m4 2h0m-2 4h0m-3 3h0m4 2h0m-2 3h0m0 1h0m2 11h0m-4 30h0m4 3h0m0 3h0m-1 16h0m1 6h0m0 2h0m-3 2h0m2 9h0m-3 55h0m3 79h0m2 110h0m0 0h0m-2 123h0m-2 12h0m7-747h0m3 8h0m-4 2h0m1 21h0m2 5h0m-1 19h0m-1 3h0m2 7h0m0 18h0m-4 2h0m1 2h0m0 4h0m0 1h0m1 12h0m2 3h0m-4 4h0m0 1h0m3 2h0m-3 16h0m5 7h0m-2 1h0m2 6h0m-2 4h0m2 0h0m-3 5h0m0 6h0m1 5h0m1 5h0m1 1h0m0 0h0m-4 1h0m0 2h0m2 0h0m-2 3h0m4 0h0m-4 11h0m1 8h0m-2 1h0m2 0h0m-1 2h0m1 0h0m-1 1h0m3 0h0m-1 3h0m0 2h0m2 2h0m-5 11h0m0 1h0m5 0h0m0 0h0m-3 3h0m0 3h0m-2 1h0m5 5h0m-2 1h0m1 0h0m-2 1h0m1 5h0m0 2h0m-3 5h0m2 8h0m-2 4h0m2 7h0m-1 1h0m-1 3h0m4 0h0m1 0h0m-3 3h0m-1 6h0m-1 6h0m2 3h0m2 2h0m-4 1h0m3 0h0m2 7h0m0 3h0m-1 3h0m-3 8h0m1 6h0m-2 1h0m4 0h0m0 0h0m-3 7h0m4 2h0m-4 5h0m3 0h0m-4 7h0m0 1h0m0 7h0m3 11h0m1 5h0m-3 4h0m3 8h0m-3 5h0m1 1h0m0 18h0m2 4h0m1 61h0m-2 132h0m8-610h0m-2 22h0m-2 4h0m2 29h0m2 1h0m0 4h0m-5 4h0m0 8h0m4 11h0m-1 11h0m-2 7h0m4 0h0m-3 2h0m-1 4h0m3 0h0m-3 2h0m2 3h0m2 2h0m-4 13h0m2 0h0m0 0h0m-1 3h0m1 0h0m-1 4h0m0 5h0m3 1h0m-4 2h0m4 6h0m-2 5h0m0 1h0m2 1h0m0 4h0m-2 1h0m2 1h0m-4 2h0m4 1h0m-3 2h0m1 3h0m2 5h0m0 8h0m-5 1h0m1 1h0m0 0h0m3 4h0m-2 1h0m2 1h0m1 7h0m-1 10h0m-4 4h0m2 3h0m-2 1h0m1 2h0m2 0h0m-2 1h0m2 1h0m-3 5h0m5 1h0m-5 2h0m5 2h0m-2 1h0m0 4h0m-3 1h0m3 0h0m1 4h0m-1 1h0m0 6h0m-1 4h0m0 5h0m3 0h0m-3 2h0m-1 2h0m-1 5h0m3 2h0m2 3h0m-3 1h0m0 1h0m-1 2h0m2 0h0m-3 10h0m1 0h0m-1 9h0m2 0h0m0 4h0m3 1h0m-5 5h0m5 5h0m-3 2h0m3 1h0m0 1h0m-1 1h0m-1 10h0m2 1h0m-1 4h0m1 2h0m-5 4h0m0 5h0m0 12h0m0 12h0m5 4h0m0 12h0m-2 1h0m-2 2h0m2 7h0m1 1h0m1 17h0m-4 6h0m4 9h0m-5 61h0m9-461h0m-3 9h0m4 1h0m0 20h0m-2 11h0m1 0h0m2 7h0m-3 7h0m3 6h0m-4 1h0m2 2h0m0 13h0m-3 3h0m2 2h0m-2 2h0m2 3h0m3 5h0m0 6h0m-1 1h0m0 2h0m-3 5h0m2 1h0m-3 5h0m2 10h0m3 3h0m-5 1h0m3 9h0m-3 4h0m5 0h0m-1 2h0m-4 1h0m2 0h0m2 5h0m-4 2h0m0 7h0m2 6h0m1 7h0m0 2h0m-2 1h0m0 3h0m2 2h0m-2 8h0m4 0h0m-1 1h0m-1 1h0m1 7h0m-1 2h0m2 2h0m-4 1h0m3 4h0m-4 1h0m1 1h0m0 0h0m4 2h0m-4 2h0m3 2h0m0 1h0m-3 2h0m-1 4h0m3 2h0m-3 12h0m2 8h0m0 0h0m0 0h0m0 0h0m3 2h0m-2 2h0m-1 1h0m1 1h0m1 0h0m-1 3h0m-3 1h0m2 1h0m-2 2h0m2 0h0m-1 3h0m-1 6h0m2 6h0m-2 2h0m3 0h0m0 3h0m1 0h0m1 3h0m-3 5h0m-2 6h0m4 1h0m1 0h0m-5 10h0m5 6h0m-4 16h0m1 0h0m3 3h0m-2 6h0m-1 29h0m3 1h0m-3 12h0m-1 5h0m0 8h0m2 8h0m-1 20h0m2 22h0m-1 1h0m2 112h0m-1 45h0m-1 28h0m5-676h0m2 29h0m-4 34h0m4 0h0m-3 13h0m1 1h0m-1 8h0m1 6h0m1 9h0m1 5h0m-1 4h0m-1 2h0m0 2h0m2 8h0m-3 1h0m2 2h0m-3 3h0m4 10h0m-4 2h0m1 6h0m3 5h0m1 0h0m-5 1h0m5 1h0m0 2h0m-3 3h0m-1 6h0m4 0h0m-5 1h0m4 5h0m-3 1h0m1 0h0m1 0h0m1 7h0m1 4h0m-2 1h0m-2 1h0m1 2h0m-2 7h0m4 1h0m0 1h0m-4 6h0m2 0h0m1 2h0m0 1h0m0 2h0m-3 1h0m1 0h0m2 4h0m-1 4h0m3 0h0m-1 2h0m-3 3h0m2 3h0m1 4h0m-4 2h0m1 1h0m3 0h0m-4 1h0m4 10h0m1 0h0m-3 2h0m3 8h0m-4 6h0m4 3h0m-3 1h0m-2 4h0m0 2h0m1 0h0m-1 9h0m2 2h0m0 2h0m1 0h0m-1 3h0m2 7h0m-4 7h0m4 5h0m-4 1h0m0 3h0m2 5h0m-1 1h0m0 4h0m0 7h0m2 2h0m-3 2h0m1 0h0m2 0h0m-1 1h0m3 0h0m-5 1h0m3 9h0m-2 1h0m4 4h0m-1 6h0m-4 1h0m0 4h0m3 5h0m-1 2h0m-1 5h0m0 3h0m-1 3h0m5 0h0m-5 2h0m1 7h0m4 2h0m-2 3h0m0 3h0m1 12h0m0 20h0m-1 13h0m0 1h0m1 1h0m-3 8h0m-1 3h0m5 24h0m-5 54h0m3 104h0m3-523h0m1 11h0m2 1h0m-2 1h0m-1 16h0m2 0h0m1 3h0m-3 3h0m1 5h0m1 9h0m-2 8h0m4 3h0m1 0h0m0 3h0m-4 1h0m2 1h0m-2 1h0m0 2h0m-1 2h0m3 1h0m-1 17h0m1 9h0m-1 4h0m2 3h0m-1 2h0m2 2h0m-5 1h0m5 7h0m-5 1h0m5 6h0m-2 9h0m-2 2h0m-1 1h0m2 7h0m-2 3h0m2 1h0m1 5h0m1 0h0m-4 8h0m1 1h0m-1 4h0m5 14h0m-2 2h0m-3 3h0m2 4h0m3 0h0m-4 3h0m0 7h0m1 0h0m2 1h0m1 0h0m-3 1h0m0 1h0m-2 1h0m4 1h0m-4 2h0m3 9h0m-3 2h0m4 0h0m-1 1h0m-1 1h0m0 1h0m2 0h0m-3 2h0m3 9h0m-4 3h0m0 7h0m3 11h0m-2 3h0m3 0h0m-2 1h0m-2 5h0m4 0h0m-1 8h0m-3 13h0m2 3h0m-1 3h0m3 2h0m1 2h0m-1 2h0m-1 6h0m-3 3h0m4 8h0m1 2h0m0 7h0m-2 15h0m-1 9h0m0 7h0m0 36h0m0 6h0m-1 29h0m3 31h0m-1 18h0m1 131h0m-3 22h0m10-666h0m-4 10h0m-1 27h0m4 1h0m-4 1h0m4 7h0m-4 14h0m1 4h0m-1 1h0m1 2h0m3 5h0m0 2h0m-4 4h0m5 12h0m-3 3h0m1 20h0m2 6h0m-1 2h0m-1 2h0m2 0h0m-5 3h0m1 0h0m1 0h0m2 1h0m0 3h0m-4 2h0m5 0h0m-2 9h0m1 0h0m-2 24h0m-2 6h0m4 2h0m-3 7h0m-1 5h0m2 0h0m-1 3h0m-1 3h0m2 4h0m1 0h0m-2 2h0m1 0h0m-1 2h0m-1 1h0m0 0h0m4 2h0m-1 1h0m-2 3h0m0 1h0m-1 1h0m4 1h0m-1 1h0m1 2h0m1 1h0m-2 5h0m1 0h0m-4 2h0m3 3h0m1 2h0m-3 2h0m1 0h0m-2 6h0m3 0h0m-1 4h0m-2 4h0m3 0h0m2 4h0m-3 3h0m-2 1h0m4 4h0m-1 1h0m2 3h0m-4 3h0m2 0h0m2 1h0m-5 3h0m3 2h0m-2 1h0m4 9h0m-1 1h0m-4 1h0m3 1h0m2 7h0m-1 10h0m-4 2h0m3 5h0m-3 21h0m3 6h0m1 8h0m-2 3h0m2 2h0m-2 1h0m-2 1h0m2 2h0m3 40h0m-1 4h0m0 4h0m-1 12h0m-3 67h0m7-485h0m0 10h0m2 4h0m1 5h0m-2 21h0m1 14h0m2 0h0m-5 5h0m0 17h0m2 0h0m1 1h0m1 1h0m-3 9h0m-1 1h0m3 3h0m-2 8h0m3 11h0m1 0h0m-2 2h0m1 5h0m1 0h0m-5 1h0m5 13h0m-4 3h0m2 3h0m2 5h0m-3 10h0m2 0h0m-1 2h0m1 1h0m-1 2h0m-1 9h0m0 7h0m-2 3h0m1 1h0m4 3h0m-4 2h0m-1 7h0m2 5h0m2 1h0m1 0h0m-4 4h0m0 1h0m4 2h0m-5 1h0m0 1h0m5 6h0m-4 1h0m1 1h0m2 3h0m0 0h0m-1 2h0m0 0h0m0 3h0m0 0h0m0 5h0m-2 3h0m2 0h0m-2 5h0m2 0h0m-2 2h0m-1 1h0m1 3h0m0 5h0m1 0h0m1 1h0m1 2h0m-3 1h0m1 1h0m-1 6h0m-1 3h0m5 0h0m-3 1h0m3 5h0m-3 6h0m3 3h0m-4 2h0m0 6h0m3 3h0m-2 1h0m0 2h0m3 4h0m-3 6h0m0 1h0m1 1h0m1 0h0m-1 2h0m-1 1h0m-1 2h0m3 3h0m0 5h0m-3 16h0m1 4h0m-1 10h0m2 6h0m2 29h0m-2 3h0m-1 2h0m2 3h0m-1 15h0m1 14h0m-2 7h0m3 1h0m-5 9h0m3 19h0m0 7h0m7-421h0m1 3h0m0 10h0m-5 1h0m4 4h0m1 1h0m-1 3h0m-4 8h0m2 3h0m-2 5h0m1 2h0m2 13h0m-1 4h0m1 0h0m2 2h0m0 0h0m-5 1h0m2 0h0m-2 1h0m1 2h0m0 7h0m2 3h0m0 5h0m0 0h0m1 0h0m-2 7h0m1 4h0m-3 3h0m5 1h0m-1 1h0m-1 3h0m-3 3h0m4 5h0m-3 1h0m4 1h0m-5 3h0m2 6h0m2 4h0m1 7h0m-2 2h0m2 1h0m0 2h0m-5 1h0m0 4h0m1 6h0m4 2h0m0 1h0m-1 2h0m-3 2h0m4 3h0m-2 10h0m2 1h0m-2 2h0m-3 1h0m5 1h0m-5 4h0m3 1h0m-3 5h0m5 2h0m-3 2h0m0 1h0m2 5h0m1 1h0m-5 1h0m0 4h0m0 2h0m0 8h0m1 1h0m3 2h0m-4 1h0m2 0h0m3 1h0m-1 1h0m-3 1h0m1 0h0m3 1h0m0 0h0m0 1h0m-3 2h0m-2 4h0m1 2h0m2 1h0m-3 2h0m5 4h0m-1 3h0m-4 1h0m1 4h0m-1 1h0m0 1h0m0 3h0m0 7h0m2 2h0m3 9h0m-3 13h0m-2 14h0m3 7h0m-1 7h0m1 13h0m-1 28h0m1 0h0m1 20h0m-1 13h0m-2 36h0m0 31h0m8-459h0m-3 6h0m2 20h0m-1 5h0m2 1h0m1 1h0m-1 17h0m-2 25h0m2 0h0m-3 6h0m4 0h0m-3 14h0m1 3h0m1 0h0m0 1h0m1 2h0m0 5h0m-4 3h0m4 4h0m-3 2h0m4 0h0m0 3h0m-3 6h0m3 1h0m-2 2h0m1 3h0m-2 1h0m3 1h0m-4 2h0m-1 1h0m1 2h0m1 4h0m0 0h0m1 0h0m1 7h0m-3 7h0m4 4h0m0 0h0m-5 3h0m4 2h0m1 2h0m-2 1h0m-3 12h0m3 2h0m-2 2h0m4 0h0m-1 12h0m-4 1h0m0 0h0m4 1h0m-2 3h0m2 0h0m-2 4h0m2 0h0m-2 1h0m2 8h0m1 3h0m-5 2h0m5 1h0m-1 1h0m-3 4h0m1 0h0m2 0h0m0 2h0m1 5h0m-2 4h0m0 0h0m1 1h0m-1 7h0m-3 4h0m2 5h0m-2 11h0m0 1h0m5 3h0m-4 7h0m-1 1h0m2 1h0m3 7h0m-2 3h0m-2 3h0m4 18h0m0 11h0m-1 16h0m-1 7h0m-1 19h0m-1 52h0m4 18h0m0 156h0m6-573h0m-4 9h0m4 2h0m-5 1h0m2 19h0m3 6h0m-3 9h0m3 3h0m-2 8h0m2 7h0m-1 10h0m-3 2h0m-1 1h0m4 0h0m0 3h0m-1 3h0m-1 1h0m1 6h0m2 0h0m-4 1h0m2 2h0m2 2h0m-3 2h0m2 1h0m-1 1h0m2 12h0m-1 3h0m0 4h0m0 2h0m-4 4h0m2 0h0m2 8h0m-1 2h0m1 3h0m-3 3h0m1 3h0m3 0h0m-3 1h0m-2 1h0m3 1h0m1 2h0m-3 3h0m1 4h0m-2 1h0m0 3h0m1 0h0m3 3h0m0 0h0m-1 5h0m-3 4h0m0 2h0m0 5h0m0 3h0m2 0h0m2 1h0m0 2h0m-2 1h0m1 0h0m-3 1h0m4 2h0m1 0h0m-2 1h0m2 5h0m-4 1h0m2 0h0m1 13h0m0 1h0m-2 4h0m-1 1h0m2 5h0m-2 4h0m4 3h0m-3 2h0m1 1h0m-3 1h0m5 4h0m-1 2h0m-3 1h0m2 4h0m1 0h0m1 1h0m0 0h0m0 0h0m-5 11h0m0 10h0m4 4h0m-4 10h0m2 0h0m-1 4h0m3 5h0m0 1h0m0 0h0m-1 4h0m2 3h0m-1 3h0m-2 5h0m3 0h0m-1 1h0m0 5h0m1 9h0m-3 1h0m-2 3h0m2 4h0m2 8h0m-3 9h0m-1 5h0m5 3h0m-3 6h0m2 17h0m-1 8h0m0 6h0m-1 19h0m1 76h0m-1 28h0m9-544h0m-1 45h0m-4 13h0m2 1h0m-1 5h0m4 0h0m-2 5h0m-2 7h0m0 1h0m-1 7h0m4 1h0m0 0h0m-2 5h0m1 21h0m-2 4h0m2 3h0m2 0h0m-1 3h0m-2 1h0m1 7h0m-2 3h0m0 0h0m2 2h0m-1 8h0m-1 1h0m2 2h0m-1 8h0m1 0h0m1 3h0m1 2h0m0 1h0m-2 4h0m-1 10h0m3 1h0m-2 1h0m1 0h0m1 5h0m-3 11h0m-2 2h0m5 1h0m-3 5h0m1 0h0m2 1h0m0 0h0m-1 1h0m0 2h0m0 4h0m-2 4h0m-1 4h0m4 1h0m-3 2h0m3 2h0m-2 2h0m1 0h0m-4 1h0m4 5h0m0 0h0m-3 6h0m2 1h0m-1 1h0m0 3h0m-1 1h0m1 3h0m3 0h0m-5 7h0m5 0h0m-5 2h0m4 3h0m0 2h0m0 0h0m-4 1h0m1 1h0m4 3h0m-3 4h0m0 13h0m-2 9h0m2 14h0m-2 1h0m0 1h0m2 3h0m-1 1h0m-1 10h0m5 0h0m-1 12h0m-3 14h0m-1 10h0m3 4h0m2 2h0m-5 2h0m4 5h0m0 2h0m-1 1h0m-3 15h0m0 4h0m5 8h0m-1 4h0m-1 2h0m-2 4h0m1 25h0m3 49h0m-3 12h0m2 212h0m4-659h0m0 5h0m0 1h0m2 12h0m-1 2h0m-3 1h0m4 2h0m-3 3h0m-1 3h0m4 2h0m0 2h0m-1 1h0m2 5h0m-5 6h0m1 8h0m0 5h0m-1 18h0m5 5h0m-5 5h0m3 0h0m0 5h0m0 3h0m-2 2h0m3 5h0m0 3h0m-4 1h0m2 1h0m-1 8h0m4 3h0m-4 1h0m2 2h0m-3 4h0m4 0h0m1 2h0m-5 1h0m2 1h0m1 0h0m1 2h0m1 3h0m-4 2h0m0 1h0m0 16h0m2 3h0m1 1h0m0 1h0m-2 3h0m2 2h0m1 0h0m0 1h0m0 0h0m0 1h0m-4 4h0m-1 1h0m5 1h0m-3 1h0m0 3h0m1 1h0m2 9h0m-3 2h0m1 3h0m-2 3h0m3 3h0m-4 1h0m0 4h0m0 0h0m5 2h0m-3 10h0m3 1h0m0 7h0m-5 1h0m0 6h0m3 0h0m0 3h0m0 0h0m-3 10h0m1 19h0m4 2h0m0 0h0m-2 1h0m1 0h0m1 2h0m-5 1h0m0 0h0m2 0h0m0 0h0m1 0h0m1 2h0m-3 3h0m1 0h0m1 0h0m-1 5h0m0 8h0m3 1h0m-2 3h0m2 10h0m0 6h0m-3 7h0m-2 10h0m1 21h0m-1 9h0m0 4h0m5 74h0m-3 20h0m3 1h0m0 90h0m5-543h0m1 3h0m-1 1h0m1 3h0m-3 2h0m0 6h0m-1 17h0m0 3h0m0 6h0m1 8h0m2 8h0m-3 3h0m3 1h0m-1 2h0m-3 6h0m3 1h0m1 1h0m1 2h0m-3 3h0m0 0h0m1 0h0m-1 7h0m2 4h0m-4 1h0m5 0h0m-1 3h0m0 1h0m-3 1h0m4 2h0m-5 3h0m1 0h0m0 0h0m3 3h0m0 3h0m-3 6h0m0 4h0m1 2h0m1 0h0m2 1h0m-4 2h0m1 0h0m0 1h0m0 5h0m1 3h0m1 1h0m-3 2h0m3 1h0m-1 3h0m0 5h0m-3 3h0m5 2h0m0 0h0m-3 6h0m-1 3h0m4 1h0m-1 1h0m0 2h0m-3 2h0m-1 3h0m2 4h0m2 4h0m1 1h0m-5 2h0m0 0h0m2 11h0m3 0h0m-1 2h0m-3 1h0m3 0h0m-4 1h0m3 6h0m-3 1h0m1 0h0m2 3h0m2 0h0m-4 4h0m0 4h0m2 1h0m1 3h0m0 0h0m-3 3h0m3 3h0m-2 1h0m1 0h0m1 0h0m-2 1h0m2 0h0m1 0h0m0 10h0m0 14h0m0 2h0m0 1h0m0 2h0m-1 2h0m-1 1h0m-2 2h0m0 2h0m0 1h0m3 3h0m-4 7h0m5 0h0m0 4h0m0 4h0m0 3h0m-5 1h0m5 2h0m-5 5h0m1 2h0m0 2h0m1 2h0m2 8h0m-4 13h0m5 0h0m-5 19h0m1 1h0m0 29h0m-1 14h0m3 15h0m8-392h0m-2 20h0m-1 5h0m1 6h0m2 1h0m-2 2h0m-2 1h0m2 0h0m2 3h0m-5 5h0m5 12h0m0 2h0m-3 7h0m0 2h0m1 3h0m1 3h0m-4 5h0m5 5h0m-3 4h0m2 4h0m-3 1h0m3 4h0m1 1h0m-5 5h0m4 4h0m0 13h0m0 0h0m-4 5h0m0 1h0m1 0h0m3 0h0m-2 9h0m-1 3h0m2 0h0m-2 5h0m3 8h0m-2 3h0m2 0h0m-3 1h0m2 0h0m1 1h0m0 1h0m-2 1h0m1 6h0m0 1h0m1 1h0m-4 4h0m4 0h0m-1 1h0m1 0h0m0 1h0m-4 1h0m3 2h0m-2 3h0m0 2h0m0 2h0m-1 2h0m5 0h0m-5 4h0m3 0h0m-2 2h0m4 0h0m-4 1h0m0 1h0m0 11h0m-1 1h0m1 1h0m1 0h0m-1 2h0m2 2h0m2 1h0m0 0h0m-3 5h0m3 1h0m-1 1h0m1 2h0m-4 2h0m3 1h0m-4 1h0m1 2h0m-1 1h0m1 0h0m2 1h0m0 5h0m-3 1h0m3 3h0m2 5h0m-5 4h0m4 1h0m-4 1h0m1 11h0m2 0h0m-3 5h0m3 0h0m0 2h0m-1 6h0m0 4h0m3 2h0m-3 4h0m1 1h0m2 7h0m-2 3h0m1 11h0m0 3h0m-1 6h0m-3 4h0m4 16h0m0 59h0m-3 14h0m2 0h0m1 207h0m0 8h0m5-632h0m0 18h0m-1 2h0m0 8h0m2 17h0m1 0h0m-2 6h0m2 1h0m-2 1h0m2 5h0m-5 13h0m2 2h0m2 8h0m-1 1h0m-3 6h0m1 1h0m0 5h0m3 4h0m-2 7h0m-1 8h0m0 1h0m4 0h0m-3 2h0m0 13h0m-1 2h0m2 0h0m-2 3h0m3 3h0m1 1h0m0 4h0m-4 2h0m-1 1h0m1 0h0m-1 3h0m0 4h0m0 1h0m1 6h0m2 1h0m-3 2h0m0 0h0m1 0h0m4 0h0m-3 1h0m3 0h0m-5 6h0m0 1h0m5 3h0m-2 3h0m2 1h0m-1 3h0m1 1h0m-4 2h0m2 2h0m-2 2h0m0 3h0m2 0h0m1 1h0m0 3h0m-3 5h0m2 6h0m-3 1h0m2 1h0m1 1h0m1 1h0m1 1h0m0 2h0m-3 2h0m0 3h0m-1 1h0m3 0h0m-2 1h0m-2 2h0m3 6h0m-3 1h0m3 4h0m1 5h0m-4 2h0m0 4h0m4 5h0m-1 1h0m-2 2h0m3 1h0m-1 3h0m1 2h0m-3 6h0m2 2h0m1 1h0m-3 2h0m0 1h0m4 1h0m-5 7h0m5 1h0m-2 1h0m1 1h0m-4 6h0m2 0h0m1 0h0m1 2h0m-4 1h0m0 9h0m3 0h0m1 2h0m-2 1h0m2 2h0m0 1h0m1 3h0m0 12h0m-4 3h0m2 0h0m1 6h0m-1 8h0m2 7h0m0 12h0m0 18h0m-5 18h0m0 25h0m1 0h0m2 7h0m1 81h0m6-513h0m-2 35h0m0 4h0m2 6h0m-4 1h0m2 3h0m2 8h0m0 3h0m0 1h0m-3 3h0m1 0h0m2 1h0m-3 1h0m2 1h0m-2 6h0m4 8h0m-5 1h0m4 7h0m-4 4h0m2 2h0m2 5h0m1 1h0m0 0h0m-5 2h0m4 3h0m-3 1h0m1 0h0m0 1h0m2 0h0m-3 8h0m0 5h0m-1 2h0m1 4h0m1 0h0m3 6h0m-3 2h0m2 2h0m-1 1h0m-2 1h0m2 2h0m-2 7h0m-1 2h0m4 5h0m-3 1h0m3 0h0m0 17h0m1 2h0m-5 1h0m4 4h0m-2 1h0m-1 1h0m-1 1h0m4 0h0m-3 1h0m-1 3h0m2 0h0m3 8h0m-4 3h0m1 3h0m-2 3h0m5 4h0m-1 2h0m0 0h0m-3 1h0m-1 1h0m5 2h0m-4 3h0m0 0h0m1 0h0m0 1h0m-2 4h0m3 7h0m-2 1h0m-1 3h0m2 5h0m0 5h0m-1 5h0m-1 2h0m5 2h0m-4 7h0m3 2h0m-4 4h0m5 4h0m-3 12h0m2 15h0m-4 2h0m3 10h0m0 6h0m-3 2h0m1 2h0m2 2h0m2 1h0m-4 4h0m3 10h0m0 6h0m-4 10h0m1 7h0m-1 3h0m0 25h0m1 10h0m-1 38h0m1 316h0m7-743h0m2 7h0m0 2h0m1 16h0m0 8h0m-5 3h0m5 24h0m-4 8h0m0 0h0m3 0h0m1 0h0m0 5h0m0 2h0m0 8h0m-1 11h0m-4 1h0m0 5h0m1 1h0m-1 5h0m1 0h0m3 2h0m-2 7h0m1 12h0m-2 1h0m3 0h0m-3 2h0m4 5h0m-1 2h0m1 0h0m-5 5h0m1 4h0m-1 1h0m3 0h0m0 2h0m-3 2h0m3 16h0m-3 3h0m4 3h0m1 1h0m-1 1h0m-2 7h0m-2 1h0m1 0h0m2 0h0m-2 3h0m1 3h0m1 1h0m2 3h0m-5 2h0m5 0h0m-4 2h0m0 1h0m0 1h0m3 3h0m-4 8h0m5 2h0m-5 1h0m5 2h0m-4 7h0m0 2h0m3 1h0m1 0h0m-5 2h0m0 1h0m1 0h0m3 15h0m-1 5h0m0 2h0m-2 4h0m4 2h0m-2 1h0m1 12h0m-4 3h0m3 3h0m-1 6h0m3 3h0m-1 3h0m-2 3h0m3 0h0m-5 1h0m4 1h0m-3 2h0m0 26h0m4 3h0m0 11h0m-2 23h0m-1 14h0m2 4h0m0 32h0m-4 19h0m0 13h0m5 4h0m1-437h0m2 15h0m0 3h0m2 2h0m-1 5h0m-3 9h0m4 11h0m-4 1h0m4 1h0m-3 5h0m3 1h0m0 9h0m-4 7h0m5 1h0m-1 10h0m-1 1h0m0 2h0m0 0h0m-1 5h0m-1 2h0m4 0h0m-2 2h0m-2 3h0m1 7h0m-2 11h0m1 3h0m1 1h0m1 1h0m1 5h0m0 8h0m-4 2h0m5 4h0m0 0h0m-5 2h0m3 1h0m2 5h0m-5 1h0m2 3h0m-2 5h0m5 2h0m-4 2h0m1 3h0m3 1h0m-3 2h0m-1 1h0m-1 1h0m5 0h0m-4 1h0m1 3h0m3 1h0m0 0h0m-1 3h0m1 1h0m-5 2h0m5 2h0m-3 1h0m2 4h0m0 1h0m0 1h0m1 0h0m-1 3h0m-2 1h0m-1 1h0m0 3h0m4 0h0m-4 2h0m3 0h0m1 0h0m-4 3h0m1 5h0m-1 1h0m3 1h0m1 1h0m-4 4h0m2 2h0m-2 2h0m1 3h0m-1 3h0m0 3h0m4 0h0m-1 2h0m1 3h0m-4 5h0m3 0h0m-2 1h0m1 2h0m-2 1h0m0 6h0m1 1h0m1 13h0m1 8h0m1 2h0m-4 1h0m0 1h0m0 5h0m-1 2h0m0 0h0m0 1h0m1 3h0m0 8h0m0 0h0m3 2h0m-2 1h0m1 0h0m-2 3h0m3 5h0m-1 8h0m0 6h0m1 2h0m-4 6h0m2 14h0m2 0h0m-3 10h0m4 10h0m-2 3h0m-3 66h0m5 36h0m-4 12h0m6-465h0m-1 5h0m0 7h0m5 3h0m-3 11h0m-2 3h0m0 3h0m4 16h0m1 7h0m0 0h0m-5 1h0m0 5h0m3 5h0m2 0h0m-3 7h0m2 11h0m-3 9h0m3 0h0m-4 16h0m2 3h0m0 1h0m-2 1h0m3 6h0m0 1h0m-3 1h0m1 0h0m4 3h0m-3 3h0m-2 13h0m1 3h0m2 0h0m-1 1h0m-2 4h0m4 0h0m1 5h0m-4 2h0m1 4h0m-1 3h0m2 3h0m-3 10h0m1 0h0m3 0h0m1 1h0m-2 4h0m0 3h0m-3 5h0m3 5h0m0 2h0m0 2h0m-1 4h0m1 9h0m-1 1h0m0 0h0m-1 3h0m0 1h0m1 5h0m0 3h0m-2 4h0m4 1h0m-4 9h0m0 2h0m1 0h0m0 0h0m-1 2h0m1 6h0m0 13h0m-1 10h0m3 7h0m-3 6h0m2 0h0m3 3h0m-2 2h0m1 0h0m-4 1h0m3 0h0m-2 1h0m0 9h0m3 5h0m-2 15h0m1 3h0m-3 3h0m1 4h0m0 10h0m0 13h0m1 11h0m2 7h0m0 34h0m1 0h0m-3 83h0m7-491h0m-1 1h0m0 2h0m3 14h0m-5 2h0m1 1h0m0 0h0m3 1h0m-4 12h0m5 0h0m-5 4h0m2 2h0m1 1h0m-3 3h0m1 0h0m3 2h0m1 6h0m-4 2h0m2 1h0m2 11h0m0 0h0m0 2h0m-1 2h0m-2 8h0m-2 1h0m1 3h0m-1 7h0m3 11h0m-3 1h0m1 0h0m4 4h0m-4 3h0m1 0h0m3 7h0m-4 8h0m4 5h0m-5 1h0m4 7h0m-3 9h0m0 0h0m4 0h0m-1 12h0m-3 1h0m3 0h0m-3 6h0m0 2h0m3 0h0m-4 2h0m0 1h0m0 3h0m5 10h0m-2 1h0m2 10h0m-4 1h0m2 0h0m-2 7h0m3 2h0m1 4h0m0 1h0m-2 3h0m-2 1h0m3 0h0m-1 1h0m-2 2h0m3 4h0m-4 1h0m3 2h0m1 4h0m-4 5h0m5 1h0m-5 3h0m5 2h0m-3 3h0m-2 6h0m4 0h0m-1 1h0m-2 4h0m-1 7h0m5 9h0m-5 4h0m2 0h0m2 2h0m0 3h0m-4 3h0m2 8h0m0 4h0m-1 4h0m1 3h0m3 7h0m-2 5h0m-1 6h0m2 2h0m-3 3h0m3 1h0m-3 1h0m-1 3h0m1 6h0m4 1h0m-5 4h0m0 24h0m1 7h0m1 43h0m0 23h0m-2 20h0m1 144h0m4 112h0m1-709h0m3 6h0m-1 2h0m2 2h0m0 1h0m1 4h0m-5 2h0m1 4h0m2 3h0m-3 3h0m0 24h0m2 0h0m-2 2h0m2 4h0m0 3h0m1 7h0m1 6h0m0 10h0m-4 4h0m4 1h0m-2 3h0m3 0h0m-4 3h0m1 3h0m2 1h0m-4 6h0m0 1h0m4 14h0m-4 2h0m4 5h0m-2 1h0m-1 2h0m4 4h0m-3 2h0m-1 2h0m3 0h0m0 8h0m-3 1h0m1 0h0m2 11h0m-4 3h0m1 2h0m3 1h0m-3 3h0m0 1h0m1 6h0m0 4h0m3 2h0m-1 1h0m1 4h0m-2 3h0m-1 1h0m3 1h0m-1 2h0m-4 6h0m5 3h0m-2 1h0m-2 3h0m-1 4h0m5 7h0m-2 5h0m-1 5h0m2 5h0m-4 7h0m0 2h0m0 4h0m3 3h0m-3 1h0m1 0h0m2 0h0m-3 1h0m2 4h0m0 8h0m0 7h0m2 5h0m-4 5h0m3 0h0m0 2h0m2 1h0m-3 1h0m3 2h0m0 0h0m0 3h0m-2 4h0m-2 8h0m-1 3h0m2 14h0m3 1h0m-5 1h0m1 5h0m1 1h0m3 15h0m-4 1h0m4 6h0m-2 7h0m2 5h0m-1 4h0m-2 53h0m6-418h0m-1 5h0m2 5h0m-3 6h0m2 2h0m1 3h0m-1 4h0m-2 17h0m2 5h0m-2 10h0m4 1h0m-4 1h0m0 4h0m1 7h0m3 1h0m0 3h0m0 3h0m-2 7h0m-1 4h0m2 7h0m-3 11h0m1 1h0m0 0h0m2 1h0m0 1h0m-2 4h0m4 2h0m-2 14h0m0 18h0m2 4h0m-4 4h0m1 1h0m0 0h0m0 8h0m1 3h0m-1 5h0m1 3h0m-3 2h0m4 8h0m-3 2h0m3 0h0m-2 1h0m3 1h0m0 0h0m-4 3h0m2 0h0m1 1h0m-3 5h0m1 4h0m3 5h0m-4 5h0m4 1h0m0 1h0m-2 4h0m0 1h0m1 4h0m-1 9h0m-1 4h0m0 3h0m0 2h0m2 1h0m-1 2h0m-1 1h0m3 1h0m0 1h0m-2 2h0m1 1h0m1 1h0m-4 3h0m0 4h0m2 2h0m2 1h0m-1 4h0m-1 5h0m-2 1h0m3 5h0m-3 3h0m3 0h0m0 8h0m-3 4h0m0 4h0m1 0h0m0 5h0m-1 2h0m-1 21h0m2 1h0m1 7h0m1 9h0m-4 6h0m1 1h0m2 19h0m2 3h0m-1 8h0m-2 1h0m0 11h0m3 6h0m-2 4h0m6-397h0m-2 5h0m0 0h0m1 2h0m1 5h0m0 4h0m-1 2h0m1 0h0m-3 9h0m2 1h0m-1 17h0m1 3h0m1 4h0m-2 2h0m4 1h0m0 1h0m-5 4h0m2 5h0m0 12h0m1 1h0m2 2h0m-3 3h0m1 4h0m0 4h0m0 1h0m0 0h0m0 5h0m-1 3h0m1 4h0m1 2h0m1 5h0m0 5h0m-4 12h0m2 4h0m2 0h0m-3 1h0m-2 5h0m3 3h0m-3 4h0m4 0h0m0 1h0m1 4h0m-3 2h0m0 3h0m1 0h0m1 2h0m-3 4h0m2 4h0m2 0h0m-2 2h0m-3 4h0m3 1h0m1 1h0m-2 4h0m1 0h0m1 1h0m-1 1h0m1 1h0m-3 3h0m-1 1h0m3 0h0m1 0h0m-2 3h0m3 5h0m-2 2h0m-1 1h0m2 3h0m0 0h0m-1 1h0m1 2h0m0 1h0m-4 3h0m1 0h0m2 0h0m-3 2h0m4 1h0m-1 6h0m1 2h0m-1 1h0m0 0h0m0 2h0m2 6h0m-2 1h0m-2 4h0m-1 2h0m0 0h0m5 2h0m0 2h0m-1 4h0m-4 2h0m5 3h0m-4 5h0m-1 1h0m4 1h0m-1 7h0m-3 1h0m0 7h0m4 2h0m1 12h0m-3 1h0m-2 21h0m2 1h0m-1 1h0m0 7h0m3 2h0m-3 6h0m1 1h0m3 2h0m-4 8h0m3 2h0m-3 6h0m0 6h0m4 0h0m-3 12h0m3 13h0m-1 8h0m0 2h0m-2 5h0m-2 9h0m8-374h0m-1 13h0m4 12h0m-4 5h0m3 3h0m1 0h0m-4 7h0m1 1h0m0 9h0m2 1h0m-1 13h0m2 14h0m-2 3h0m-2 3h0m-1 1h0m3 0h0m-1 2h0m1 6h0m2 0h0m-3 1h0m1 10h0m1 2h0m-1 2h0m-2 6h0m4 3h0m-1 3h0m-2 1h0m1 1h0m-1 1h0m-1 1h0m0 2h0m2 1h0m1 1h0m-2 1h0m3 2h0m-5 2h0m3 0h0m1 0h0m1 0h0m-3 1h0m3 0h0m-4 5h0m4 0h0m-3 2h0m1 2h0m1 3h0m1 3h0m-4 4h0m1 0h0m-2 1h0m2 2h0m-2 1h0m0 1h0m3 5h0m-2 1h0m1 2h0m3 1h0m-5 1h0m4 2h0m0 0h0m1 1h0m-2 3h0m1 0h0m0 5h0m1 0h0m0 1h0m0 4h0m-1 1h0m0 2h0m-1 1h0m1 6h0m1 2h0m-5 3h0m0 1h0m2 0h0m1 1h0m1 0h0m-4 2h0m3 1h0m0 1h0m-3 2h0m1 3h0m0 3h0m1 3h0m0 3h0m3 3h0m-1 1h0m0 2h0m-2 3h0m-2 4h0m0 2h0m1 1h0m4 1h0m0 4h0m0 3h0m-4 6h0m2 2h0m2 0h0m0 1h0m-4 1h0m4 0h0m-1 6h0m0 1h0m1 3h0m0 1h0m-1 1h0m1 3h0m-4 4h0m4 0h0m-2 1h0m1 4h0m-4 3h0m1 0h0m3 0h0m-3 3h0m-1 2h0m2 10h0m-1 1h0m3 2h0m-1 4h0m-2 2h0m0 9h0m0 3h0m3 2h0m-1 9h0m0 5h0m1 3h0m-3 6h0m2 27h0m-1 55h0m8-421h0m1 26h0m-2 12h0m2 0h0m-3 1h0m1 3h0m-2 2h0m2 6h0m-1 3h0m-2 1h0m1 3h0m4 2h0m-1 1h0m1 0h0m-5 6h0m1 1h0m1 2h0m3 7h0m0 1h0m-3 2h0m1 2h0m-3 7h0m4 0h0m-2 2h0m2 5h0m0 1h0m-4 2h0m2 2h0m1 1h0m2 0h0m-4 1h0m3 1h0m1 1h0m-5 3h0m5 1h0m-5 1h0m5 0h0m-2 1h0m-3 4h0m2 3h0m3 1h0m-5 7h0m2 0h0m0 2h0m2 0h0m0 1h0m-2 3h0m1 0h0m-1 3h0m1 1h0m0 0h0m-1 2h0m2 2h0m-2 1h0m1 1h0m-2 2h0m4 0h0m-4 1h0m0 5h0m4 2h0m0 2h0m-1 1h0m0 1h0m1 2h0m-4 7h0m1 0h0m2 2h0m-2 1h0m1 1h0m0 0h0m-3 1h0m0 3h0m3 7h0m-2 1h0m4 1h0m-5 3h0m3 2h0m-2 4h0m-1 2h0m5 1h0m0 2h0m-2 1h0m-2 1h0m-1 1h0m1 3h0m1 2h0m3 0h0m-4 1h0m2 0h0m2 1h0m-4 4h0m1 0h0m0 4h0m2 4h0m1 2h0m0 3h0m-3 1h0m1 0h0m-1 3h0m1 3h0m2 0h0m0 0h0m0 2h0m0 4h0m-4 4h0m0 3h0m1 4h0m2 1h0m0 14h0m-3 4h0m4 2h0m-3 6h0m3 1h0m-5 8h0m1 4h0m4 4h0m-4 14h0m3 7h0m0 4h0m1 11h0m-3 64h0m-2 24h0m10-413h0m1 17h0m-2 4h0m0 6h0m0 13h0m-3 7h0m0 5h0m3 0h0m0 4h0m2 1h0m-5 8h0m3 2h0m0 3h0m-3 4h0m4 4h0m1 0h0m-4 2h0m3 0h0m-4 6h0m5 0h0m-2 2h0m0 0h0m-3 14h0m1 0h0m3 1h0m-3 1h0m4 0h0m-2 3h0m-1 2h0m1 6h0m-3 2h0m5 1h0m-2 6h0m1 0h0m-2 5h0m-1 1h0m4 3h0m-5 3h0m4 2h0m1 1h0m-5 3h0m3 0h0m-3 5h0m3 0h0m1 0h0m0 2h0m-4 1h0m4 0h0m0 3h0m1 0h0m-5 1h0m1 0h0m1 3h0m2 4h0m1 1h0m-1 4h0m1 1h0m-2 1h0m2 2h0m0 2h0m-3 1h0m3 1h0m-5 1h0m5 0h0m0 0h0m-5 1h0m4 2h0m-3 4h0m3 5h0m-1 2h0m-1 4h0m2 0h0m-4 1h0m3 0h0m-3 1h0m3 2h0m-1 2h0m-2 2h0m1 0h0m2 1h0m-2 2h0m0 0h0m2 0h0m0 0h0m2 7h0m-3 1h0m1 2h0m2 0h0m-1 1h0m0 0h0m-4 11h0m3 7h0m2 0h0m-4 3h0m1 2h0m0 1h0m3 2h0m-5 3h0m1 9h0m4 0h0m-4 1h0m0 2h0m1 2h0m0 0h0m-2 7h0m3 3h0m0 7h0m0 0h0m-1 1h0m1 1h0m1 0h0m-3 1h0m4 0h0m-5 6h0m4 4h0m1 1h0m-2 1h0m2 0h0m-4 1h0m0 1h0m1 2h0m3 2h0m-4 9h0m2 7h0m-3 8h0m0 4h0m2 4h0m2 5h0m1 2h0m-4 3h0m2 4h0m2 15h0m-4 87h0m6-440h0m-1 1h0m1 2h0m3 21h0m-2 3h0m0 5h0m-1 2h0m2 1h0m1 4h0m-3 3h0m3 0h0m-1 6h0m-1 2h0m2 3h0m-4 8h0m3 7h0m1 0h0m-3 3h0m4 5h0m-2 1h0m-1 2h0m0 0h0m-2 1h0m1 3h0m-1 1h0m0 0h0m2 4h0m2 0h0m-1 1h0m1 2h0m0 2h0m1 7h0m-3 3h0m-1 2h0m-1 2h0m2 0h0m1 1h0m2 1h0m-5 2h0m5 4h0m-5 1h0m4 0h0m-4 1h0m3 2h0m0 1h0m2 0h0m-1 1h0m-4 2h0m0 1h0m3 3h0m-2 1h0m-1 2h0m0 1h0m4 2h0m0 1h0m-4 2h0m2 0h0m1 0h0m-3 9h0m3 0h0m-1 2h0m0 2h0m1 0h0m1 0h0m1 0h0m0 1h0m-2 3h0m-1 5h0m2 0h0m1 0h0m-4 1h0m3 0h0m-1 1h0m-3 1h0m5 1h0m-5 4h0m2 0h0m3 2h0m-5 4h0m0 2h0m3 1h0m0 3h0m-2 2h0m-1 3h0m2 1h0m1 1h0m-3 1h0m5 9h0m-5 1h0m3 2h0m1 0h0m-4 4h0m2 0h0m2 1h0m-4 1h0m3 1h0m0 1h0m-2 6h0m2 0h0m1 0h0m-2 2h0m-1 1h0m4 2h0m-4 3h0m-1 3h0m4 0h0m-4 7h0m0 0h0m1 1h0m2 0h0m2 1h0m-5 2h0m1 3h0m0 0h0m0 0h0m1 2h0m0 3h0m0 7h0m3 0h0m-4 1h0m-1 3h0m2 2h0m0 1h0m3 0h0m-5 2h0m1 0h0m1 1h0m-2 3h0m3 2h0m-1 2h0m3 3h0m-1 4h0m-4 5h0m4 0h0m0 1h0m0 2h0m-3 5h0m-1 5h0m4 2h0m-2 1h0m-1 1h0m0 0h0m4 4h0m-1 1h0m-1 3h0m-2 15h0m0 0h0m2 7h0m-1 3h0m-1 27h0m0 3h0m1 11h0m1 2h0m-3 23h0m3 16h0m-2 4h0m3 178h0m4-584h0m3 6h0m-2 7h0m2 2h0m-4 8h0m2 1h0m-3 2h0m2 1h0m-1 3h0m4 1h0m-1 13h0m1 5h0m0 3h0m0 1h0m-5 4h0m0 0h0m2 0h0m3 0h0m-5 3h0m1 4h0m2 1h0m1 1h0m1 1h0m-5 1h0m3 1h0m2 0h0m-3 3h0m-1 9h0m2 1h0m2 3h0m-1 5h0m1 0h0m0 8h0m-4 4h0m0 5h0m4 0h0m-1 1h0m-4 3h0m5 2h0m0 0h0m-2 1h0m-3 1h0m4 0h0m-3 2h0m2 1h0m1 0h0m-2 1h0m1 0h0m0 6h0m-3 2h0m5 1h0m-3 3h0m1 1h0m1 3h0m-4 2h0m2 1h0m1 0h0m1 1h0m-2 2h0m3 1h0m-5 1h0m5 1h0m-5 1h0m3 2h0m1 0h0m0 3h0m0 3h0m-3 2h0m4 1h0m-4 2h0m-1 5h0m3 0h0m1 0h0m0 0h0m0 1h0m-1 4h0m2 1h0m-5 1h0m2 1h0m3 2h0m0 3h0m-4 5h0m0 1h0m2 1h0m-2 1h0m0 1h0m2 0h0m0 1h0m-1 1h0m3 1h0m0 3h0m-5 1h0m0 1h0m5 1h0m-5 6h0m1 0h0m4 2h0m-5 2h0m1 3h0m-1 1h0m5 0h0m-5 7h0m1 1h0m4 2h0m-1 2h0m-2 2h0m3 0h0m-1 2h0m-4 4h0m1 2h0m0 0h0m-1 1h0m2 5h0m3 0h0m-5 1h0m3 0h0m0 1h0m0 0h0m-2 1h0m1 5h0m2 1h0m-1 1h0m-1 1h0m-2 2h0m2 5h0m2 1h0m-1 8h0m1 4h0m-2 1h0m1 0h0m-3 2h0m0 3h0m0 8h0m3 3h0m0 2h0m-3 1h0m1 1h0m-1 4h0m2 0h0m2 2h0m-2 3h0m3 7h0m-2 4h0m-2 29h0m1 13h0m2 16h0m-4 19h0m4 49h0m0 5h0m5-447h0m2 6h0m0 24h0m-4 9h0m3 1h0m1 2h0m-3 4h0m2 3h0m-3 1h0m2 9h0m-1 3h0m-2 3h0m5 1h0m-2 11h0m2 0h0m-2 2h0m0 0h0m1 0h0m-4 5h0m0 6h0m2 3h0m-1 1h0m2 2h0m-1 1h0m0 2h0m1 3h0m1 0h0m1 2h0m-1 3h0m1 3h0m-2 1h0m2 0h0m-1 11h0m0 4h0m-3 2h0m1 0h0m-1 1h0m0 3h0m4 3h0m-5 1h0m5 2h0m0 1h0m-5 4h0m2 0h0m3 2h0m0 2h0m-1 6h0m-3 5h0m0 2h0m4 0h0m-3 1h0m-1 2h0m2 0h0m-2 1h0m-1 6h0m0 1h0m2 1h0m1 3h0m-1 1h0m2 1h0m0 1h0m-3 1h0m2 0h0m2 3h0m-3 1h0m3 1h0m-5 1h0m0 2h0m0 0h0m2 4h0m2 0h0m-1 3h0m-3 1h0m4 2h0m-4 4h0m0 2h0m2 0h0m1 3h0m2 0h0m-4 2h0m1 8h0m-1 1h0m2 1h0m0 1h0m1 0h0m0 1h0m-2 1h0m-1 1h0m3 0h0m1 0h0m-2 1h0m-2 2h0m-1 1h0m4 1h0m0 1h0m-3 1h0m4 0h0m-3 3h0m0 3h0m1 0h0m-1 2h0m1 0h0m1 1h0m-4 1h0m1 1h0m3 0h0m-1 1h0m-1 2h0m1 0h0m-3 1h0m2 1h0m2 2h0m1 1h0m-1 1h0m0 1h0m-1 2h0m-2 2h0m1 0h0m0 0h0m3 5h0m-5 3h0m1 2h0m2 4h0m2 0h0m-3 1h0m0 2h0m3 1h0m-1 3h0m1 2h0m-5 5h0m0 6h0m4 1h0m-2 4h0m1 1h0m-2 1h0m3 14h0m-4 2h0m2 0h0m0 3h0m1 2h0m-2 12h0m3 6h0m-3 9h0m4 1h0m-4 19h0m1 29h0m1 3h0m-3 6h0m3 12h0m8-402h0m-2 15h0m0 4h0m0 5h0m-3 2h0m0 5h0m4 0h0m-3 2h0m1 8h0m-1 2h0m1 3h0m0 0h0m1 1h0m1 1h0m-2 1h0m2 6h0m-2 4h0m1 3h0m-1 1h0m-1 1h0m0 6h0m4 0h0m-2 1h0m-1 1h0m0 0h0m3 2h0m-4 1h0m2 0h0m-1 1h0m1 2h0m-2 1h0m3 0h0m-4 1h0m4 2h0m-3 1h0m0 1h0m2 4h0m-1 1h0m2 0h0m1 0h0m-3 1h0m3 0h0m-5 4h0m0 1h0m4 1h0m-3 2h0m4 0h0m-5 1h0m2 1h0m2 1h0m1 0h0m-1 1h0m1 1h0m0 0h0m-5 1h0m4 2h0m-3 2h0m0 0h0m0 1h0m1 0h0m-1 3h0m-1 1h0m2 3h0m3 2h0m-5 2h0m3 3h0m1 0h0m1 3h0m0 0h0m-3 1h0m-1 2h0m2 0h0m0 0h0m-1 1h0m-1 4h0m3 1h0m-3 1h0m-1 2h0m2 1h0m1 0h0m1 0h0m-3 1h0m1 0h0m1 0h0m-2 7h0m3 0h0m0 0h0m-1 2h0m-3 3h0m2 1h0m1 6h0m-3 2h0m3 4h0m2 1h0m-3 1h0m0 2h0m3 1h0m-5 2h0m2 1h0m1 9h0m1 0h0m0 9h0m-1 1h0m0 0h0m0 3h0m-3 1h0m0 0h0m5 0h0m-4 1h0m1 0h0m1 1h0m2 0h0m-2 2h0m-2 2h0m0 0h0m4 0h0m-5 2h0m1 0h0m2 1h0m2 3h0m-4 2h0m0 4h0m-1 1h0m2 0h0m3 1h0m-2 4h0m2 0h0m-4 4h0m1 0h0m-2 1h0m5 4h0m-3 2h0m2 1h0m0 1h0m1 0h0m-3 2h0m-2 4h0m3 0h0m0 1h0m-2 6h0m1 0h0m2 0h0m0 0h0m1 1h0m0 2h0m-3 1h0m-1 3h0m4 1h0m0 1h0m-5 1h0m1 2h0m2 1h0m-1 1h0m2 0h0m-3 4h0m1 0h0m-2 1h0m5 0h0m-2 2h0m-3 2h0m4 7h0m-1 1h0m1 0h0m-2 3h0m2 0h0m-4 4h0m5 12h0m-4 4h0m4 0h0m0 1h0m-5 3h0m2 7h0m-2 5h0m5 5h0m-4 2h0m10-344h0m-2 36h0m1 3h0m-2 6h0m1 1h0m2 1h0m-1 5h0m-2 6h0m1 2h0m1 4h0m-2 3h0m-2 4h0m2 7h0m1 1h0m1 0h0m1 0h0m-2 5h0m-1 1h0m0 0h0m1 0h0m0 1h0m2 0h0m0 1h0m-3 3h0m0 3h0m3 0h0m-2 3h0m0 4h0m1 1h0m-2 1h0m3 0h0m-1 1h0m-2 1h0m1 2h0m-3 2h0m0 3h0m5 0h0m-5 3h0m4 1h0m-4 2h0m4 0h0m-3 2h0m0 1h0m-1 1h0m2 9h0m1 2h0m-3 1h0m5 0h0m-4 1h0m2 1h0m-2 4h0m1 0h0m-1 2h0m2 1h0m0 0h0m-1 1h0m1 0h0m-2 1h0m4 3h0m-3 3h0m-1 3h0m0 2h0m4 0h0m-5 1h0m1 0h0m4 0h0m0 4h0m0 1h0m-3 1h0m3 0h0m-5 2h0m2 0h0m2 2h0m-4 7h0m0 0h0m3 0h0m2 2h0m-5 4h0m5 0h0m-3 4h0m1 1h0m-1 1h0m-1 1h0m3 0h0m-3 9h0m3 0h0m-1 2h0m2 2h0m-5 2h0m0 5h0m5 0h0m0 1h0m-2 1h0m-3 2h0m4 0h0m1 0h0m-5 1h0m3 3h0m2 0h0m-1 2h0m0 2h0m1 0h0m0 3h0m0 3h0m0 1h0m-3 2h0m3 0h0m-4 2h0m1 0h0m-1 2h0m0 1h0m2 0h0m-3 1h0m1 0h0m0 1h0m0 0h0m3 0h0m-2 1h0m3 2h0m-5 1h0m2 0h0m2 1h0m1 0h0m-1 1h0m-3 1h0m-1 2h0m0 3h0m0 8h0m2 0h0m3 1h0m-3 1h0m-2 1h0m2 1h0m1 1h0m1 1h0m-4 1h0m4 1h0m-3 2h0m2 2h0m2 2h0m-4 3h0m4 4h0m-4 1h0m2 5h0m0 2h0m1 0h0m-4 2h0m3 0h0m2 0h0m0 0h0m-5 2h0m3 1h0m-2 3h0m0 2h0m4 0h0m0 3h0m-3 1h0m1 2h0m-3 1h0m0 0h0m1 7h0m3 2h0m1 1h0m-4 4h0m0 1h0m1 8h0m2 0h0m-2 12h0m0 7h0m0 2h0m-2 16h0m3 0h0m-2 1h0m1 13h0m-2 33h0m4 4h0m7-375h0m-4 9h0m4 26h0m-3 7h0m-2 3h0m3 0h0m1 2h0m-2 3h0m-2 1h0m2 1h0m-2 1h0m0 4h0m1 1h0m2 0h0m1 0h0m-4 2h0m0 2h0m3 0h0m0 0h0m-1 2h0m1 1h0m-1 2h0m0 1h0m1 1h0m0 0h0m1 0h0m-3 2h0m2 0h0m1 0h0m-2 1h0m0 1h0m-1 1h0m0 0h0m3 0h0m-3 4h0m2 0h0m2 0h0m-1 4h0m-4 4h0m5 0h0m-5 4h0m4 0h0m-2 3h0m-2 1h0m1 0h0m-1 4h0m4 1h0m-3 1h0m-1 1h0m4 1h0m-2 1h0m1 0h0m-2 1h0m3 0h0m0 3h0m1 1h0m-2 1h0m-3 2h0m2 0h0m-2 1h0m4 1h0m1 1h0m-1 8h0m1 1h0m-2 1h0m0 2h0m0 0h0m2 2h0m-1 1h0m-3 3h0m2 0h0m1 1h0m-2 1h0m1 2h0m1 0h0m-3 1h0m0 1h0m-1 1h0m2 2h0m2 0h0m-2 1h0m-1 5h0m1 1h0m1 4h0m-3 1h0m0 1h0m1 0h0m4 0h0m-4 2h0m0 1h0m2 4h0m1 1h0m-2 1h0m1 0h0m-3 2h0m0 2h0m1 1h0m0 0h0m2 0h0m-2 2h0m2 0h0m1 0h0m-4 1h0m0 2h0m0 0h0m5 0h0m0 1h0m-5 5h0m0 0h0m1 0h0m2 1h0m0 0h0m2 1h0m0 3h0m-1 1h0m0 1h0m-1 2h0m1 6h0m-3 3h0m-1 1h0m5 2h0m-3 2h0m1 0h0m-3 5h0m1 0h0m3 0h0m0 1h0m-4 5h0m0 0h0m1 1h0m0 1h0m1 0h0m-2 2h0m2 4h0m2 1h0m1 1h0m-2 1h0m1 0h0m1 2h0m-5 11h0m4 4h0m-4 1h0m4 1h0m-4 2h0m2 0h0m1 0h0m0 3h0m-2 5h0m1 0h0m1 0h0m1 1h0m1 0h0m-4 6h0m2 0h0m-2 3h0m1 2h0m1 0h0m1 0h0m-2 3h0m3 2h0m-1 1h0m-4 3h0m2 8h0m1 4h0m-2 2h0m3 6h0m1 7h0m-1 1h0m0 4h0m-2 5h0m3 15h0m0 17h0m-5 10h0m4 1h0m0 21h0m-1 3h0m4-374h0m2 11h0m2 6h0m-2 2h0m2 6h0m-5 11h0m5 4h0m0 1h0m-1 2h0m-3 3h0m0 1h0m-1 3h0m5 6h0m-1 1h0m0 1h0m1 1h0m-2 2h0m0 3h0m1 0h0m1 0h0m-5 1h0m4 6h0m-3 1h0m1 0h0m-2 11h0m3 5h0m1 0h0m0 2h0m-4 1h0m3 0h0m-3 2h0m2 0h0m-1 4h0m1 0h0m0 2h0m1 3h0m-3 3h0m1 0h0m0 0h0m1 0h0m1 1h0m-1 1h0m1 1h0m2 4h0m-5 1h0m3 0h0m-1 1h0m0 2h0m0 2h0m-1 1h0m3 0h0m-4 1h0m1 6h0m-1 1h0m5 0h0m-1 1h0m1 0h0m-3 2h0m-1 2h0m3 0h0m-4 1h0m1 0h0m2 0h0m0 0h0m1 0h0m-3 2h0m0 1h0m-1 1h0m0 2h0m4 3h0m-4 1h0m5 2h0m-2 3h0m-1 1h0m2 1h0m-3 2h0m0 1h0m0 1h0m3 0h0m-2 4h0m3 1h0m0 2h0m-4 1h0m1 3h0m-2 1h0m0 3h0m0 0h0m2 0h0m1 6h0m-3 2h0m4 0h0m0 0h0m-1 1h0m-2 2h0m1 0h0m2 6h0m-3 1h0m3 1h0m-3 5h0m-1 3h0m1 0h0m3 3h0m-3 4h0m2 0h0m1 2h0m1 0h0m-5 3h0m4 0h0m-4 1h0m2 0h0m3 0h0m-1 1h0m-4 1h0m2 0h0m0 2h0m-2 2h0m0 0h0m5 2h0m-4 1h0m1 1h0m0 6h0m-2 1h0m1 3h0m2 1h0m2 0h0m-3 2h0m3 1h0m-3 1h0m3 2h0m0 1h0m-4 5h0m-1 1h0m5 12h0m-1 1h0m1 0h0m0 1h0m0 2h0m-5 6h0m5 1h0m-2 2h0m-2 5h0m0 1h0m-1 2h0m2 7h0m0 7h0m1 5h0m-2 2h0m0 27h0m-1 1h0m4 29h0m-4 10h0m3 15h0m4-364h0m3 8h0m-2 5h0m-2 2h0m0 4h0m3 0h0m2 7h0m-3 3h0m2 3h0m-3 2h0m-1 1h0m4 1h0m-4 4h0m2 2h0m0 0h0m3 2h0m-2 2h0m-3 4h0m4 2h0m1 4h0m-5 4h0m3 0h0m1 1h0m-2 1h0m1 1h0m-2 1h0m4 3h0m-5 3h0m5 1h0m-5 3h0m5 0h0m-4 1h0m3 1h0m-4 4h0m2 3h0m-1 2h0m3 2h0m-3 2h0m2 0h0m-2 1h0m4 0h0m-4 1h0m3 0h0m-3 1h0m2 0h0m-1 1h0m2 2h0m-3 2h0m4 0h0m-3 2h0m1 1h0m2 0h0m0 1h0m-2 5h0m0 0h0m1 0h0m-4 2h0m3 2h0m1 1h0m-2 5h0m2 5h0m-2 6h0m1 1h0m-1 2h0m3 0h0m-2 2h0m-3 5h0m3 4h0m-3 2h0m3 0h0m1 1h0m-4 1h0m4 1h0m-4 2h0m0 1h0m3 4h0m2 1h0m-1 1h0m-1 1h0m0 1h0m1 0h0m-3 1h0m4 0h0m-4 3h0m-1 2h0m5 0h0m-4 1h0m3 1h0m1 2h0m-3 1h0m-1 1h0m1 1h0m1 2h0m-2 1h0m-1 2h0m1 3h0m3 0h0m1 0h0m-2 4h0m0 1h0m1 1h0m-1 5h0m-2 1h0m0 0h0m1 0h0m3 5h0m-5 1h0m2 2h0m0 1h0m-2 1h0m5 2h0m-3 5h0m0 1h0m0 3h0m1 0h0m2 1h0m-3 8h0m2 0h0m-1 1h0m1 4h0m-1 1h0m2 0h0m-3 4h0m3 0h0m-4 1h0m1 0h0m0 4h0m0 0h0m-1 1h0m1 1h0m2 0h0m1 2h0m0 1h0m-1 2h0m-3 3h0m1 0h0m1 6h0m2 0h0m-4 1h0m2 1h0m-1 1h0m0 0h0m3 5h0m-5 3h0m5 5h0m-1 16h0m-4 5h0m4 22h0m-3 4h0m3 37h0m2-355h0m1 2h0m-1 28h0m1 10h0m0 0h0m4 1h0m-3 3h0m2 2h0m-2 3h0m3 0h0m0 1h0m0 0h0m-5 1h0m4 1h0m0 2h0m-3 1h0m1 0h0m1 0h0m-1 2h0m1 3h0m1 0h0m-1 3h0m-3 1h0m5 0h0m-3 4h0m0 3h0m-1 3h0m2 3h0m-2 5h0m2 1h0m-3 1h0m4 2h0m-3 1h0m0 0h0m4 1h0m0 1h0m-2 3h0m2 4h0m-1 3h0m-1 3h0m0 1h0m0 1h0m1 0h0m0 1h0m0 0h0m-4 1h0m3 2h0m2 0h0m-2 1h0m2 0h0m0 0h0m-3 2h0m-1 1h0m0 1h0m1 0h0m2 0h0m-4 3h0m4 3h0m1 0h0m-5 1h0m1 1h0m3 0h0m-2 3h0m-1 3h0m1 2h0m-2 3h0m0 0h0m4 0h0m-4 3h0m2 0h0m-2 1h0m1 2h0m-1 1h0m2 1h0m3 0h0m-4 1h0m2 1h0m-2 1h0m2 6h0m-1 2h0m-2 5h0m0 1h0m3 6h0m-3 1h0m3 3h0m1 5h0m1 3h0m-5 3h0m1 0h0m2 2h0m-2 5h0m2 0h0m0 1h0m1 0h0m-4 1h0m3 2h0m2 4h0m-4 1h0m4 1h0m-5 2h0m2 0h0m-1 3h0m3 4h0m-3 1h0m4 1h0m-2 1h0m2 0h0m0 1h0m-1 3h0m-3 1h0m0 0h0m0 0h0m1 3h0m2 0h0m-2 4h0m3 1h0m-5 2h0m5 0h0m-1 2h0m-2 1h0m0 0h0m0 2h0m3 1h0m-3 3h0m-1 1h0m1 0h0m2 2h0m-3 2h0m-1 1h0m1 2h0m1 0h0m3 1h0m0 4h0m-4 1h0m4 0h0m-2 1h0m2 3h0m-4 2h0m0 2h0m4 1h0m-2 5h0m-3 2h0m1 7h0m3 1h0m-1 14h0m-2 8h0m0 17h0m10-292h0m-4 7h0m3 9h0m-1 1h0m1 0h0m1 2h0m-2 2h0m-2 1h0m1 3h0m0 5h0m2 0h0m-2 1h0m3 0h0m-2 5h0m-3 1h0m0 0h0m0 4h0m2 0h0m0 1h0m0 1h0m2 1h0m0 0h0m0 2h0m-4 1h0m1 1h0m3 0h0m-1 3h0m-2 1h0m2 5h0m-1 2h0m1 0h0m-3 1h0m0 1h0m0 1h0m4 0h0m-1 1h0m1 1h0m0 1h0m-3 1h0m-1 2h0m5 0h0m-4 1h0m1 2h0m1 0h0m-3 2h0m3 0h0m-3 2h0m2 1h0m2 2h0m0 2h0m-3 1h0m4 3h0m-2 1h0m-2 2h0m1 2h0m0 0h0m-1 2h0m2 0h0m-2 1h0m3 1h0m1 1h0m0 0h0m-2 4h0m-1 2h0m0 0h0m1 0h0m-3 3h0m2 0h0m-1 4h0m2 2h0m2 0h0m-5 1h0m1 0h0m3 2h0m-4 4h0m0 1h0m5 2h0m-4 2h0m-1 3h0m4 0h0m-2 2h0m-2 3h0m5 0h0m-5 2h0m1 5h0m2 1h0m1 2h0m-3 1h0m3 3h0m1 0h0m-2 3h0m-3 4h0m4 3h0m-2 1h0m1 0h0m0 5h0m-1 3h0m2 1h0m-1 3h0m2 0h0m-5 3h0m1 0h0m0 2h0m2 4h0m-3 2h0m1 0h0m-1 1h0m3 0h0m-3 4h0m4 0h0m0 1h0m0 2h0m-4 6h0m1 4h0m2 2h0m0 4h0m1 4h0m1 0h0m-5 3h0m3 0h0m-1 1h0m1 2h0m0 1h0m0 2h0m-3 2h0m3 1h0m1 1h0m-2 3h0m1 1h0m-2 1h0m1 2h0m1 3h0m-2 4h0m2 1h0m2 0h0m-3 2h0m-1 3h0m1 0h0m0 4h0m-2 3h0m2 6h0m1 3h0m0 0h0m2 13h0m-5 2h0m2 6h0m0 0h0m-1 6h0m4 11h0m-5 13h0m4 35h0m0 15h0m-2 119h0m9-477h0m-5 3h0m5 0h0m-4 7h0m2 0h0m-2 5h0m0 4h0m-1 6h0m1 1h0m-1 4h0m1 0h0m1 3h0m-2 1h0m1 0h0m3 2h0m1 1h0m0 1h0m-5 2h0m4 2h0m-3 3h0m2 5h0m2 4h0m-1 1h0m0 2h0m-2 2h0m2 1h0m-2 1h0m2 0h0m-2 3h0m2 0h0m-3 3h0m0 0h0m3 3h0m0 1h0m-2 2h0m0 1h0m1 1h0m-2 1h0m3 1h0m1 2h0m-2 5h0m-1 3h0m1 4h0m0 1h0m1 1h0m1 0h0m-4 3h0m1 2h0m2 1h0m0 0h0m-3 2h0m0 0h0m3 0h0m-2 1h0m2 2h0m0 0h0m1 0h0m-2 1h0m1 0h0m1 0h0m0 1h0m-4 1h0m1 1h0m-2 1h0m2 0h0m2 3h0m-4 1h0m5 0h0m-2 1h0m-3 2h0m1 0h0m3 0h0m-3 2h0m2 0h0m2 0h0m-1 1h0m-4 2h0m4 1h0m1 0h0m-5 1h0m0 1h0m0 1h0m0 2h0m2 0h0m3 0h0m-5 2h0m5 1h0m-5 1h0m0 1h0m1 3h0m3 0h0m-2 3h0m-2 2h0m1 0h0m1 0h0m0 1h0m0 1h0m3 0h0m-4 3h0m2 4h0m0 3h0m1 1h0m-4 3h0m4 6h0m-4 1h0m5 1h0m-5 5h0m2 2h0m2 0h0m-1 2h0m-2 2h0m-1 5h0m3 0h0m-3 3h0m0 1h0m1 0h0m2 2h0m2 0h0m-1 1h0m-2 1h0m-2 2h0m5 3h0m-1 3h0m1 2h0m-2 1h0m-1 1h0m-1 3h0m1 0h0m2 1h0m1 1h0m-1 4h0m0 1h0m-3 3h0m3 1h0m-4 1h0m5 1h0m-4 1h0m4 2h0m-5 2h0m3 6h0m-2 4h0m3 3h0m1 1h0m-3 2h0m0 3h0m1 18h0m1 2h0m-2 37h0m1 43h0m3-344h0m0 24h0m3 0h0m2 3h0m-3 6h0m-2 1h0m5 1h0m-4 2h0m0 1h0m4 1h0m-4 1h0m0 0h0m3 0h0m-1 5h0m1 0h0m-2 1h0m1 0h0m-2 1h0m0 0h0m0 0h0m-1 2h0m5 2h0m-4 3h0m1 1h0m1 1h0m1 0h0m1 3h0m-5 3h0m5 2h0m-4 2h0m0 7h0m0 1h0m2 1h0m2 0h0m-1 2h0m-4 2h0m2 4h0m-2 1h0m0 0h0m4 0h0m-1 2h0m2 5h0m-5 4h0m5 0h0m-1 2h0m0 0h0m-4 1h0m4 0h0m1 2h0m-5 4h0m3 3h0m1 0h0m-1 2h0m2 0h0m-4 3h0m2 0h0m-3 2h0m4 0h0m-4 2h0m5 0h0m-2 2h0m0 1h0m1 0h0m-4 1h0m4 1h0m-4 1h0m5 1h0m-3 1h0m2 0h0m0 4h0m-3 2h0m2 1h0m-2 4h0m2 0h0m-3 1h0m1 0h0m-1 1h0m2 4h0m1 0h0m1 1h0m1 1h0m-4 2h0m2 2h0m0 2h0m-2 4h0m3 0h0m1 2h0m-4 1h0m2 0h0m-1 2h0m-1 2h0m1 2h0m3 1h0m-1 3h0m-4 2h0m3 4h0m2 0h0m-2 7h0m1 0h0m-2 1h0m1 3h0m0 0h0m2 2h0m-4 8h0m1 0h0m3 1h0m-1 1h0m-1 2h0m0 0h0m0 2h0m-2 1h0m2 3h0m0 5h0m-3 1h0m2 1h0m-2 2h0m4 0h0m0 2h0m-4 2h0m1 2h0m1 2h0m2 0h0m-1 1h0m-1 1h0m1 0h0m-2 1h0m0 0h0m2 4h0m-1 1h0m-2 3h0m0 3h0m4 0h0m1 0h0m-1 2h0m-3 1h0m3 5h0m-3 2h0m3 1h0m-1 1h0m1 1h0m-4 2h0m3 2h0m1 6h0m1 6h0m-2 3h0m0 5h0m-3 34h0m9-293h0m-1 13h0m-1 7h0m1 1h0m1 4h0m2 2h0m-4 1h0m0 2h0m4 2h0m-5 3h0m1 1h0m3 1h0m-3 4h0m0 0h0m3 1h0m-1 2h0m0 0h0m-3 2h0m5 1h0m0 5h0m-4 2h0m1 4h0m2 2h0m-2 1h0m2 0h0m-2 2h0m-2 2h0m0 1h0m1 0h0m1 0h0m3 0h0m-2 3h0m-2 3h0m1 0h0m2 0h0m1 0h0m-4 2h0m2 1h0m0 2h0m-3 1h0m1 0h0m2 0h0m-1 1h0m-1 1h0m0 1h0m2 5h0m1 0h0m-1 4h0m-1 1h0m3 2h0m0 0h0m-4 2h0m1 0h0m1 0h0m2 1h0m-4 1h0m1 3h0m-1 1h0m2 0h0m-2 3h0m0 0h0m1 0h0m-1 1h0m1 2h0m0 1h0m3 0h0m-5 1h0m0 0h0m2 5h0m2 2h0m-4 2h0m4 0h0m0 1h0m0 3h0m-4 1h0m3 1h0m-1 1h0m-2 3h0m4 3h0m-2 3h0m-1 3h0m1 6h0m3 1h0m-1 1h0m-3 5h0m3 2h0m1 0h0m-2 3h0m1 1h0m1 8h0m-4 4h0m3 3h0m0 2h0m-4 1h0m5 0h0m-5 3h0m4 1h0m-4 1h0m0 5h0m5 2h0m-2 1h0m2 4h0m-2 2h0m1 0h0m1 0h0m-3 1h0m3 1h0m-1 1h0m-4 1h0m2 1h0m3 1h0m-3 1h0m-2 3h0m2 1h0m3 1h0m-3 1h0m1 1h0m1 0h0m-3 1h0m0 1h0m2 1h0m0 1h0m-3 6h0m0 1h0m3 0h0m-1 2h0m-2 2h0m3 1h0m-1 4h0m0 4h0m2 4h0m-4 2h0m1 2h0m2 1h0m2 2h0m-3 22h0m1 20h0m-3 16h0m4 7h0m5-296h0m-1 20h0m-1 2h0m2 3h0m-2 4h0m0 2h0m1 1h0m2 2h0m-2 4h0m0 1h0m-1 6h0m4 1h0m-1 2h0m0 1h0m-2 5h0m-1 4h0m4 0h0m-3 2h0m3 0h0m-5 2h0m4 0h0m-3 2h0m2 4h0m-3 1h0m3 1h0m1 4h0m1 0h0m0 1h0m0 0h0m-5 11h0m0 1h0m2 1h0m1 3h0m1 2h0m1 0h0m-2 2h0m-1 1h0m-1 1h0m-1 4h0m1 1h0m4 0h0m-2 1h0m-1 1h0m3 6h0m-4 1h0m0 3h0m0 1h0m-1 1h0m0 0h0m4 0h0m1 0h0m0 1h0m0 1h0m-1 3h0m-2 1h0m-1 1h0m2 0h0m0 2h0m1 0h0m1 1h0m-5 1h0m2 0h0m1 1h0m-1 1h0m2 0h0m1 0h0m0 1h0m-2 1h0m0 1h0m0 2h0m-1 1h0m0 0h0m-2 2h0m2 1h0m0 2h0m2 2h0m1 0h0m-5 3h0m0 1h0m2 2h0m1 0h0m-2 1h0m2 1h0m0 0h0m2 0h0m-4 1h0m3 0h0m0 0h0m1 2h0m-4 1h0m4 1h0m-5 1h0m3 0h0m1 7h0m1 1h0m-1 1h0m0 0h0m-2 1h0m-2 2h0m3 0h0m-1 3h0m1 0h0m-2 1h0m1 0h0m1 2h0m-1 1h0m2 4h0m0 0h0m-4 4h0m1 2h0m1 1h0m3 1h0m0 1h0m0 1h0m-4 4h0m3 4h0m-4 1h0m0 0h0m4 2h0m-1 6h0m-3 6h0m1 1h0m1 4h0m-2 17h0m3 3h0m5-212h0m0 13h0m1 1h0m-3 2h0m2 0h0m2 3h0m-4 1h0m4 1h0m-4 3h0m2 5h0m2 1h0m-1 1h0m2 1h0m-3 2h0m0 2h0m3 4h0m-5 2h0m0 1h0m1 0h0m2 2h0m-2 3h0m2 0h0m0 4h0m-1 3h0m-1 1h0m3 1h0m-4 1h0m1 0h0m1 0h0m-1 1h0m-1 1h0m5 1h0m0 1h0m-4 1h0m1 0h0m0 1h0m3 0h0m-2 1h0m-3 2h0m0 2h0m2 0h0m0 0h0m0 1h0m0 3h0m-1 4h0m4 1h0m0 0h0m-5 2h0m1 1h0m2 2h0m-2 5h0m1 0h0m0 0h0m-2 1h0m2 1h0m2 0h0m1 8h0m-2 1h0m-3 3h0m3 1h0m-2 3h0m3 0h0m-1 1h0m1 0h0m0 1h0m-3 1h0m3 4h0m1 0h0m-1 1h0m-3 2h0m1 4h0m-2 3h0m2 2h0m-1 1h0m-1 8h0m3 1h0m2 0h0m-1 1h0m1 2h0m-1 3h0m0 2h0m-1 4h0m1 2h0m0 1h0m-3 5h0m0 4h0m4 1h0m-5 1h0m4 8h0m-3 3h0m3 1h0m-4 2h0m2 1h0m-2 4h0m3 0h0m0 0h0m-2 4h0m-1 1h0m3 7h0m1 0h0m1 17h0m-5 20h0m0 27h0m6-275h0m5 7h0m0 17h0m-2 5h0m-1 9h0m2 1h0m0 4h0m-2 1h0m-2 1h0m4 1h0m-3 4h0m1 2h0m1 0h0m-3 6h0m4 0h0m-1 1h0m2 0h0m-5 1h0m2 0h0m3 0h0m0 1h0m-3 3h0m-2 2h0m3 0h0m2 3h0m-3 1h0m1 0h0m1 0h0m-4 4h0m1 2h0m2 2h0m-2 1h0m1 0h0m-2 2h0m1 0h0m3 1h0m0 1h0m-2 1h0m3 1h0m-3 1h0m2 0h0m-1 4h0m-2 1h0m2 1h0m2 1h0m-3 2h0m-1 2h0m3 0h0m-1 3h0m-3 2h0m1 0h0m4 1h0m-1 1h0m-3 2h0m2 0h0m2 0h0m-4 4h0m1 0h0m3 1h0m-1 1h0m0 1h0m-2 1h0m3 0h0m0 1h0m0 2h0m-3 2h0m1 0h0m-3 1h0m5 1h0m-4 1h0m1 0h0m3 5h0m-3 3h0m-2 1h0m4 0h0m-4 2h0m1 1h0m3 2h0m-2 1h0m1 1h0m-1 1h0m3 2h0m-5 5h0m4 1h0m-2 6h0m0 0h0m1 1h0m-2 5h0m-1 4h0m5 5h0m0 0h0m-5 1h0m1 0h0m-1 4h0m4 17h0m5-241h0m2 36h0m0 3h0m-4 19h0m3 5h0m1 4h0m-4 1h0m4 4h0m-1 4h0m-3 18h0m1 3h0m-1 2h0m0 7h0m0 3h0m3 2h0m-2 11h0m0 0h0m-1 2h0m2 7h0m-2 4h0m-1 4h0m0 3h0m0 0h0m5 3h0m-4 1h0m4 1h0m0 1h0m-4 1h0m0 1h0m0 1h0m1 2h0m-2 1h0m0 3h0m3 1h0m-1 2h0m0 0h0m0 1h0m-2 1h0m0 2h0m0 1h0m1 1h0m0 4h0m0 0h0m-1 1h0m5 0h0m-5 3h0m1 3h0m0 3h0m0 0h0m3 1h0m-4 1h0m3 0h0m-2 2h0m1 1h0m3 3h0m-5 1h0m0 13h0m4 0h0m-4 12h0m5 15h0m0 87h0m-4 40h0m0 17h0m5-342h0m1 10h0m2 4h0m2 29h0m-1 5h0m1 0h0m-2 3h0m1 11h0m-3 22h0m2 2h0m1 6h0m-4 6h0m5 3h0m0 1h0m-4 7h0m3 4h0m-1 10h0m-2 14h0m0 0h0m3 4h0m0 1h0m-4 6h0m0 7h0m3 3h0m0 4h0m0 16h0m2 16h0m-5 8h0m3 20h0m2 17h0m6-199h0m-4 6h0m3 3h0m-2 3h0m-2 1h0m5 12h0m-4 7h0m4 3h0m0 11h0m-3 1h0m2 1h0m-3 3h0m1 4h0m-2 5h0m3 5h0m-3 10h0m0 2h0m3 3h0m0 7h0m2 0h0m-1 5h0m1 2h0m-1 6h0m-4 3h0m5 22h0m0 2h0m0 0h0m-2 4h0m2 0h0m-1 11h0m-4 2h0m0 30h0m4 8h0m-3 85h0m8-335h0m-3 70h0m5 6h0m-3 10h0m-2 27h0m5 2h0m-4 16h0m-1 4h0m5 2h0m-1 1h0m0 4h0m-1 2h0m-3 13h0m0 6h0m4 0h0m-2 10h0m1 10h0m-2 5h0m1 2h0m-2 3h0m4 0h0m1 8h0m-4 25h0m4 13h0m0 6h0m-1 1h0m-3 22h0m-1 51h0m5 1h0m2-296h0m0 37h0m2 19h0m2 11h0m-3 4h0m-1 6h0m3 8h0m-1 3h0m-2 4h0m4 0h0m-3 1h0m1 8h0m2 1h0m0 2h0m-5 15h0m3 12h0m-1 12h0m1 5h0m2 4h0m-3 8h0m1 11h0m-2 1h0m-1 21h0m4 7h0m-4 3h0m4 68h0m2-248h0m4 6h0m-2 21h0m2 1h0m1 1h0m-3 25h0m-2 2h0m0 1h0m0 5h0m0 13h0m3 8h0m-2 1h0m-1 2h0m2 8h0m-1 1h0m0 6h0m-1 5h0m0 2h0m4 7h0m-3 3h0m0 4h0m3 3h0m-4 11h0m2 3h0m1 8h0m-2 2h0m1 11h0m-2 11h0m3 2h0m-2 8h0m8-189h0m0 21h0m-2 5h0m3 15h0m-1 5h0m0 20h0m0 16h0m1 0h0m-1 6h0m0 1h0m0 10h0m-2 11h0m4 0h0m-4 2h0m-1 11h0m3 11h0m-2 3h0m4 0h0m-1 4h0m-4 2h0m0 13h0m2 75h0m-1 64h0m8-268h0m-1 1h0m2 0h0m-4 6h0m1 29h0m4 3h0m0 6h0m0 12h0m-5 6h0m5 3h0m-4 9h0m4 0h0m-2 9h0m0 1h0m2 15h0m-3 2h0m1 1h0m-1 4h0m2 2h0m-2 2h0m3 2h0m-2 134h0m-2 17h0m9-269h0m1 9h0m-5 3h0m5 3h0m-2 11h0m-1 12h0m2 8h0m-4 3h0m2 13h0m-2 3h0m2 0h0m2 3h0m-3 19h0m3 19h0m-2 3h0m3 16h0m-4 7h0m1 25h0m0 4h0m-1 18h0m0 64h0m7-363h0m1 88h0m-2 69h0m-1 4h0m4 1h0m1 7h0m-3 1h0m-1 3h0m-1 5h0m5 2h0m-3 1h0m-2 1h0m3 2h0m-3 16h0m5 0h0m-2 4h0m-2 35h0m3 0h0m-2 5h0m2 1h0m1 1h0m-5 23h0m1 0h0m4 2h0m-1 6h0m-4 3h0m5 14h0m-4 131h0m7-373h0m2 40h0m0 27h0m0 12h0m-4 7h0m2 1h0m1 31h0m-3 13h0m5 0h0m-5 4h0m2 5h0m1 13h0m-3 1h0m4 4h0m-2 31h0m3 12h0m-3 10h0m0 6h0m0 12h0m2 18h0m4-204h0m2 29h0m0 28h0m-2 25h0m-1 5h0m0 7h0m4 1h0m-3 1h0m2 7h0m-2 12h0m-2 1h0m4 12h0m-2 6h0m-2 52h0m0 23h0m8-176h0m1 0h0m-2 30h0m1 3h0m1 8h0m0 2h0m-3 4h0m3 9h0m-3 9h0m4 1h0m-3 3h0m-1 51h0m3 3h0m-3 5h0m5 8h0m-2 7h0m2 19h0m-4 23h0m9-269h0m1 136h0m-3 2h0m1 3h0m-3 37h0m5 7h0m-2 6h0m-2 1h0m1 5h0m-1 10h0m4 14h0m-2 153h0m1 34h0m6-459h0m-4 86h0m4 16h0m0 41h0m1 0h0m0 8h0m-3 2h0m2 0h0m-2 8h0m3 13h0m-5 7h0m4 9h0m-1 10h0m-3 11h0m5 8h0m-2 1h0m-2 8h0m4 10h0m0 5h0m-3 3h0m2 1h0m0 3h0m-3 12h0m1 60h0m-1 23h0m0 74h0m6-327h0m2 27h0m0 66h0m-2 5h0m0 7h0m2 2h0m-1 5h0m3 11h0m-5 4h0m4 2h0m-1 3h0m-3 2h0m2 1h0m1 2h0m-3 15h0m4 1h0m-2 2h0m2 3h0m-3 5h0m4 5h0m-4 4h0m3 23h0m0 4h0m0 3h0m1 23h0m-2 24h0m2 30h0m-1 16h0m7-264h0m-5 9h0m2 6h0m-2 14h0m2 5h0m2 11h0m1 1h0m0 16h0m0 12h0m-5 2h0m3 2h0m-2 6h0m2 15h0m2 6h0m-3 3h0m1 7h0m2 1h0m0 1h0m-5 2h0m4 32h0m-2 26h0m0 3h0m1 1h0m0 73h0m-3 1h0m3 27h0m8-347h0m0 123h0m-4 13h0m1 2h0m0 2h0m-2 19h0m3 3h0m-1 6h0m1 11h0m2 8h0m-1 25h0m-2 21h0m-1 1h0m1 172h0m9-301h0m0 20h0m-3 1h0m-2 34h0m5 14h0m0 36h0m-1 6h0m1 71h0m-3 47h0m2 26h0m6-355h0m-4 59h0m0 24h0m1 15h0m0 5h0m4 23h0m0 3h0m-2 1h0m-2 8h0m1 49h0m1 0h0m-2 17h0m2 0h0m-1 19h0m3 45h0m2-217h0m-1 3h0m4 25h0m-2 14h0m-2 17h0m0 19h0m4 1h0m-3 18h0m1 3h0m2 17h0m-4 11h0m4 4h0m1 2h0m-1 15h0m-3 1h0m-1 3h0m0 5h0m4 164h0m7-342h0m-3 82h0m-2 8h0m0 15h0m5 6h0m-5 1h0m3 2h0m-3 6h0m4 0h0m-2 13h0m1 3h0m2 22h0m-3 1h0m2 0h0m-4 13h0m1 12h0m-1 3h0m5 12h0m-1 6h0m0 7h0m-1 27h0m0 60h0m7-300h0m-2 38h0m0 5h0m-2 55h0m5 13h0m-3 1h0m1 2h0m-1 20h0m1 0h0m-3 13h0m1 4h0m1 17h0m-2 30h0m3 15h0m0 123h0m7-334h0m-4 7h0m3 59h0m-2 67h0m4 2h0m-2 8h0m2 12h0m0 12h0m-1 43h0m0 1h0m6-291h0m0 91h0m-1 19h0m-1 19h0m-1 26h0m1 9h0m2 53h0m0 3h0m-4 2h0m0 34h0m2 42h0m3 3h0m-3 89h0m1 91h0m8-340h0m0 34h0m-1 3h0m-4 2h0m1 22h0m1 0h0m3 0h0m-4 3h0m0 4h0m3 1h0m-1 16h0m0 2h0m2 8h0m0 0h0m-5 1h0m2 20h0m-1 19h0m8-249h0m-1 116h0m-1 4h0m1 34h0m-1 6h0m0 12h0m2 3h0m0 5h0m-1 6h0m1 5h0m0 1h0m-1 45h0m-1 27h0m-1 1h0m0 52h0m7-378h0m4 123h0m-4 52h0m3 0h0m-3 11h0m0 0h0m1 22h0m3 55h0m-1 7h0m0 0h0m-2 22h0m-2 62h0m2 31h0m4-252h0m1 25h0m-1 2h0m5 4h0m-3 32h0m-2 1h0m1 1h0m0 8h0m0 7h0m0 1h0m1 0h0m1 3h0m-2 53h0m2 5h0m0 13h0m0 6h0m-1 114h0m9-304h0m-1 68h0m1 6h0m0 4h0m-4 25h0m0 9h0m2 9h0m-2 22h0m2 21h0m1 17h0m1 4h0m4-217h0m-3 119h0m0 5h0m3 7h0m-1 13h0m0 3h0m3 2h0m0 5h0m-2 3h0m-3 44h0m4 25h0m1 35h0m-2 70h0m8-271h0m-3 39h0m-2 20h0m0 1h0m5 10h0m-2 34h0m-1 1h0m-2 60h0m0 5h0m2 20h0m5-209h0m2 9h0m-2 34h0m4 20h0m-2 10h0m-2 2h0m1 19h0m-1 1h0m-1 6h0m4 8h0m1 13h0m-4 30h0m-1 95h0m3 112h0m5-379h0m-1 89h0m1 10h0m3 2h0m-2 11h0m-3 6h0m4 43h0m1 2h0m0 8h0m-1 16h0m-3 19h0m-1 21h0m3 2h0m4-131h0m1 10h0m-2 41h0m0 38h0m3 32h0m-3 17h0m11-212h0m0 41h0m-1 14h0m-4 22h0m0 3h0m2 5h0m-1 3h0m1 2h0m-2 3h0m5 18h0m-4 7h0m-1 6h0m3 23h0m0 8h0m5-98h0m-1 7h0m3 18h0m-1 7h0m1 14h0m0 25h0m-3 16h0m3 15h0m-4 13h0m3 25h0m5-163h0m-2 9h0m3 4h0m0 15h0m2 3h0m-1 9h0m-4 13h0m0 25h0m1 38h0m3 7h0m0 9h0m0 19h0m3-134h0m0 37h0m-1 2h0m1 12h0m1 17h0m2 2h0m-4 14h0m2 10h0m3 10h0m-5 5h0m0 30h0m0 135h0m1 2h0m9-299h0m0 36h0m-3 8h0m1 12h0m-2 27h0m3 4h0m0 29h0m-3 13h0m0 5h0m1 29h0m1 6h0m-2 41h0m4 17h0m0 57h0m5-273h0m-2 64h0m0 1h0m3 14h0m1 7h0m-5 4h0m1 24h0m4 8h0m-4 50h0m10-189h0m-1 1h0m-4 95h0m1 2h0m1 52h0m3 74h0m-5 83h0m8-254h0m2 2h0m1 4h0m-5 9h0m3 13h0m2 20h0m-2 4h0m1 15h0m-4 4h0m1 5h0m2 0h0m-1 75h0m9-159h0m-5 25h0m5 19h0m0 6h0m-2 26h0m2 11h0m-5 2h0m3 29h0m0 11h0m-1 10h0m2 62h0m1 28h0m1-242h0m0 12h0m3 11h0m-1 29h0m3 11h0m-4 23h0m2 136h0m5-291h0m1 18h0m-3 54h0m0 30h0m5 0h0m-3 16h0m2 16h0m-2 10h0m-1 31h0m1 120h0m8-194h0m0 5h0m-1 16h0m-1 36h0m2 12h0m-3 27h0m0 10h0m2 47h0m8-183h0m-5 22h0m4 62h0m0 17h0m-3 2h0m10-110h0m-4 6h0m3 59h0m-3 5h0m1 14h0m0 28h0m3 6h0m-5 29h0m3 59h0m-3 56h0m4 38h0m5-296h0m-1 12h0m2 22h0m-4 3h0m2 2h0m2 25h0m-1 133h0m5-217h0m-1 26h0m2 41h0m-3 22h0m3 3h0m-2 17h0m10-168h0m-3 8h0m0 115h0m2 17h0m-4 14h0m3 4h0m2 35h0m4-254h0m1 18h0m-3 88h0m0 49h0m0 22h0m1 31h0m-2 17h0m7-163h0m2 5h0m0 14h0m-2 16h0m-1 64h0m4 15h0m-3 8h0m-1 1h0m2 0h0m0 20h0m-1 8h0m-1 12h0m1 27h0" fill="none" stroke="url(#pg)" stroke-width="7.4" stroke-linecap="round"/>
<polyline fill="none" stroke="#000" stroke-width="4" stroke-linejoin="miter" points="269.3,575.0 283.7,571.5 298.0,574.0 312.4,574.0 326.7,573.0 341.0,559.8 355.4,525.6 369.7,510.8 384.0,517.3 398.4,527.5 412.7,529.9 427.1,539.9 441.4,539.5 455.7,531.2 470.1,527.5 484.4,526.9 498.7,526.2 513.1,510.8 527.4,516.4 541.8,512.0 556.1,513.4 570.4,506.5 584.8,510.8 599.1,508.0 613.4,497.7 627.8,499.1 642.1,500.1 656.5,488.4 670.8,499.5 685.1,499.5 699.5,504.1 713.8,503.8 728.1,499.7 742.5,500.6 756.8,499.7 771.1,498.2 785.5,481.6 799.8,471.4 814.2,489.9 828.5,471.8 842.8,494.9 857.2,495.5 871.5,492.7 885.9,498.8 900.2,501.6 914.5,503.8 928.9,506.2 943.2,487.1 957.5,520.4 971.9,503.8 986.2,504.7 1000.6,501.4 1014.9,524.1 1029.2,519.9 1043.6,534.8 1057.9,561.1 1072.2,567.5 1086.6,539.8 1100.9,530.6 1115.2,546.1 1129.6,538.0 1143.9,530.2 1158.3,493.6 1172.6,536.1 1186.9,526.9 1201.3,526.9 1215.6,514.5 1230.0,514.9 1244.3,490.3 1258.6,535.2 1273.0,528.7 1287.3,512.1 1301.6,541.7 1316.0,509.3 1330.3,523.2 1344.7,510.8 1359.0,513.9 1373.3,510.2 1387.7,503.8 1402.0,487.1"/>
<polyline fill="none" stroke="#f00" stroke-width="6.4" stroke-linejoin="round" points="269.3,575.5 283.7,575.0 298.0,574.5 312.4,574.0 326.7,573.0 341.0,571.0 355.4,562.0 369.7,553.5 384.0,549.5 398.4,547.0 412.7,545.5 427.1,544.2 441.4,543.0 455.7,541.7 470.1,540.4 484.4,539.1 498.7,537.9 513.1,536.8 527.4,535.7 541.8,534.6 556.1,533.5 570.4,532.4 584.8,531.4 599.1,530.3 613.4,529.3 627.8,528.4 642.1,527.5 656.5,526.6 670.8,525.8 685.1,525.0 699.5,524.2 713.8,523.5 728.1,522.7 742.5,521.9 756.8,521.2 771.1,520.4 785.5,519.7 799.8,519.0 814.2,518.6 828.5,518.1 842.8,517.7 857.2,517.4 871.5,517.1 885.9,516.8 900.2,516.5 914.5,516.4 928.9,516.2 943.2,516.1 957.5,516.0 971.9,516.0 986.2,516.0 1000.6,516.0 1014.9,516.1 1029.2,516.3 1043.6,516.4 1057.9,516.6 1072.2,516.9 1086.6,517.1 1100.9,517.3 1115.2,517.4 1129.6,517.5 1143.9,517.6 1158.3,517.6 1172.6,517.6 1186.9,517.6 1201.3,517.6 1215.6,517.6 1230.0,517.6 1244.3,517.6 1258.6,517.6 1273.0,517.6 1287.3,517.6 1301.6,517.6 1316.0,517.6 1330.3,517.6 1344.7,517.6 1359.0,517.6 1373.3,517.6 1387.7,517.6 1402.0,517.6"/>
<rect x="255" y="63" width="1147" height="1068" fill="none" stroke="#000" stroke-width="4"/>
<rect x="1413" y="170.5" width="34" height="961" fill="url(#cb)"/>
<rect x="1413" y="170.5" width="34" height="961" fill="none" stroke="#000" stroke-width="2"/>
<g stroke="#000" stroke-width="3"><line x1="1412" y1="170.5" x2="1448" y2="170.5"/><line x1="1412" y1="490.833" x2="1448" y2="490.833"/><line x1="1412" y1="811.167" x2="1448" y2="811.167"/><line x1="1412" y1="1131.5" x2="1448" y2="1131.5"/></g>
<text transform="translate(233 85.4) scale(1 1.04)" font-size="66.67" text-anchor="end">1</text><text transform="translate(233 352.4) scale(1 1.04)" font-size="66.67" text-anchor="end">0.5</text><text transform="translate(233 619.4) scale(1 1.04)" font-size="66.67" text-anchor="end">0</text><text transform="translate(233 886.4) scale(1 1.04)" font-size="66.67" text-anchor="end">-0.5</text><text transform="translate(233 1153.4) scale(1 1.04)" font-size="66.67" text-anchor="end">-1</text>
<text transform="translate(263.8 1190.2) scale(1 1.04)" font-size="66.67" text-anchor="middle">0</text><text transform="translate(550.55 1190.2) scale(1 1.04)" font-size="66.67" text-anchor="middle">10</text><text transform="translate(837.3 1190.2) scale(1 1.04)" font-size="66.67" text-anchor="middle">20</text><text transform="translate(1124.05 1190.2) scale(1 1.04)" font-size="66.67" text-anchor="middle">30</text><text transform="translate(1410.8 1190.2) scale(1 1.04)" font-size="66.67" text-anchor="middle">40</text>
<text transform="translate(1459.4 188.3) scale(1 1.04)" font-size="53.33">-15.3</text><text transform="translate(1459.4 508.633) scale(1 1.04)" font-size="53.33">-15.4</text><text transform="translate(1459.4 828.967) scale(1 1.04)" font-size="53.33">-15.5</text><text transform="translate(1459.4 1149.3) scale(1 1.04)" font-size="53.33">-15.6</text><text transform="translate(1513 81) scale(1 1.04)" font-size="53.33" text-anchor="middle">Energy</text><text transform="translate(1513 134.4) scale(1 1.04)" font-size="53.33" text-anchor="middle">[a.u.]</text>
<text transform="translate(1117 1039.9) scale(1 1.04)" font-size="60" text-anchor="end">Local RMS</text><text transform="translate(1115.5 1099.5) scale(1 1.04)" font-size="60" text-anchor="end">Cumulative RMS</text><line x1="1155" y1="1020" x2="1322" y2="1020" stroke="#000" stroke-width="4"/><line x1="1155" y1="1080" x2="1322" y2="1080" stroke="#f00" stroke-width="6"/>
<text transform="translate(508.7 1273.8) scale(1 1.04)" font-size="73.33">Energy, [x10</text><text transform="translate(923.4 1236.3) scale(1 1.04)" font-size="58.67">3</text><text transform="translate(955.4 1273.8) scale(1 1.04)" font-size="73.33" xml:space="preserve"> cm</text><text transform="translate(1073.4 1236.3) scale(1 1.04)" font-size="58.67">-1</text><text transform="translate(1126.9 1273.8) scale(1 1.04)" font-size="73.33">]</text>
<text transform="translate(103 881) rotate(-90) scale(1 1.04)" font-size="73.33">Error, [x10</text><text transform="translate(66.8 537.4) rotate(-90) scale(1 1.04)" font-size="58.67">3</text><text transform="translate(103 505.4) rotate(-90) scale(1 1.04)" font-size="73.33" xml:space="preserve"> cm</text><text transform="translate(66.8 386.1) rotate(-90) scale(1 1.04)" font-size="58.67">-1</text><text transform="translate(103 334.6) rotate(-90) scale(1 1.04)" font-size="73.33">]</text>
</svg>
</body></html>
